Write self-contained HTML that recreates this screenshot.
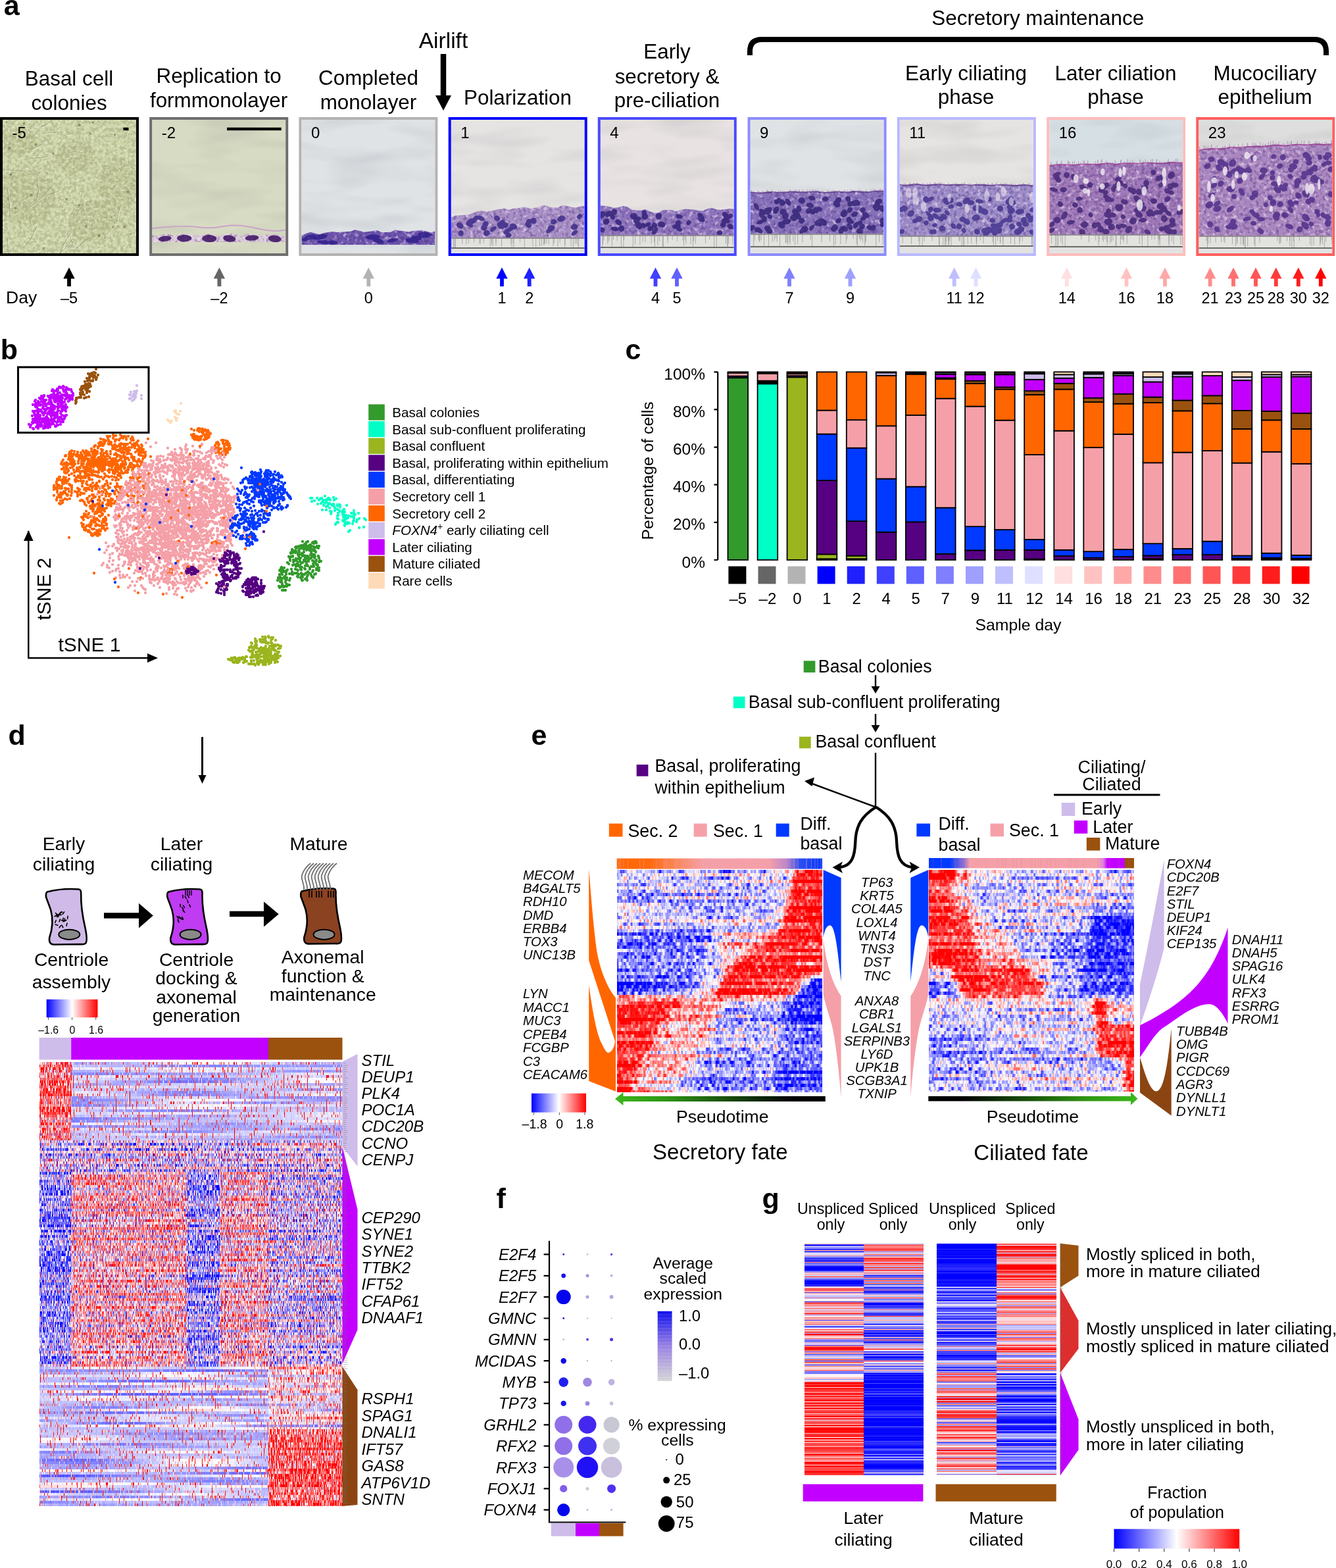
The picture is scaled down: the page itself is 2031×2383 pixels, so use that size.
<!DOCTYPE html>
<html><head><meta charset="utf-8"><title>Figure</title>
<style>
html,body{margin:0;padding:0;background:#fff;overflow:hidden}
svg{display:block}
text{font-family:"Liberation Sans",Arial,Helvetica,sans-serif;fill:#000}
</style></head><body>
<svg width="2031" height="2383" viewBox="0 0 2031 2383">
<text x="5.7" y="23.4" font-size="43" font-weight="bold">a</text>
<defs>
<filter id="phc" x="0" y="0" width="1" height="1" color-interpolation-filters="sRGB">
<feTurbulence type="fractalNoise" baseFrequency="0.18" numOctaves="3" seed="11"/>
<feColorMatrix values="0 0 0 0 0.3  0 0 0 0 0.3  0 0 0 0 0.18  -7 0 0 0 3.9"/>
</filter>
<filter id="phb" x="0" y="0" width="1" height="1" color-interpolation-filters="sRGB">
<feTurbulence type="fractalNoise" baseFrequency="0.25" numOctaves="2" seed="5"/>
<feColorMatrix values="0 0 0 0 1  0 0 0 0 1  0 0 0 0 0.95  7 0 0 0 -3.9"/>
</filter>
<filter id="phl" x="0" y="0" width="1" height="1" color-interpolation-filters="sRGB">
<feTurbulence type="fractalNoise" baseFrequency="0.025" numOctaves="2" seed="21"/>
<feColorMatrix values="0 0 0 0 0.45  0 0 0 0 0.42  0 0 0 0 0.3  -5 0 0 0 2.6"/>
</filter>
<filter id="bgn" x="0" y="0" width="1" height="1" color-interpolation-filters="sRGB">
<feTurbulence type="fractalNoise" baseFrequency="0.01 0.04" numOctaves="2" seed="4"/>
<feColorMatrix values="0 0 0 0 0.4  0 0 0 0 0.42  0 0 0 0 0.45  -2.2 0 0 0 1.25"/>
</filter>
<filter id="cel" x="0" y="0" width="1" height="1" color-interpolation-filters="sRGB">
<feTurbulence type="fractalNoise" baseFrequency="0.15" numOctaves="2" seed="8"/>
<feColorMatrix values="0 0 0 0 1  0 0 0 0 0.95  0 0 0 0 1  4 0 0 0 -2.1"/>
</filter>
<filter id="celd" x="0" y="0" width="1" height="1" color-interpolation-filters="sRGB">
<feTurbulence type="fractalNoise" baseFrequency="0.2" numOctaves="2" seed="18"/>
<feColorMatrix values="0 0 0 0 0.25  0 0 0 0 0.12  0 0 0 0 0.45  -4 0 0 0 2.1"/>
</filter>

<clipPath id="cp0"><rect x="4" y="182" width="203" height="203"/></clipPath>
<clipPath id="cp1"><rect x="231.2" y="182" width="203" height="203"/></clipPath>
<clipPath id="cp2"><rect x="458.4" y="182" width="203" height="203"/></clipPath>
<clipPath id="cp3"><rect x="685.7" y="182" width="203" height="203"/></clipPath>
<clipPath id="cp4"><rect x="912.8" y="182" width="203" height="203"/></clipPath>
<clipPath id="cp5"><rect x="1140.6" y="182" width="203" height="203"/></clipPath>
<clipPath id="cp6"><rect x="1367.8" y="182" width="203" height="203"/></clipPath>
<clipPath id="cp7"><rect x="1595.2" y="182" width="203" height="203"/></clipPath>
<clipPath id="cp8"><rect x="1822.3" y="182" width="203" height="203"/></clipPath>
</defs>
<g clip-path="url(#cp0)">
<rect x="4" y="182" width="203" height="203" fill="#cfd6aa"/>
<g fill="#b9bf8f" opacity="0.45"><ellipse cx="40" cy="300" rx="45" ry="42" transform="rotate(10 40 300)"/><ellipse cx="140" cy="335" rx="38" ry="30" transform="rotate(-20 140 335)"/><ellipse cx="115" cy="238" rx="30" ry="25" transform="rotate(0 115 238)"/><ellipse cx="180" cy="280" rx="30" ry="40" transform="rotate(0 180 280)"/><ellipse cx="30" cy="215" rx="25" ry="20" transform="rotate(0 30 215)"/></g>
<rect x="4" y="182" width="203" height="203" fill="#000" filter="url(#phc)" opacity="0.16"/>
<rect x="4" y="182" width="203" height="203" fill="#000" filter="url(#phb)" opacity="0.35"/>
<path d="M130.9 364.1Q120.2 375.7 114.3 378.2M5.1 348.7Q-9 354.7 -18.3 366M55.7 272.4Q61.5 291.7 55.3 304M130.3 382.8Q139.4 383.5 145.7 395.2M11.2 286.5Q15 307.8 15.7 328.8M104.9 232.2Q117.5 229 125.6 233M79 182.8Q67.8 192.3 62.1 192.7M107.5 354Q94.7 371.3 91.7 387.7M107.1 358.9Q108.7 372.5 121 388.7M69.6 212.5Q64.3 220.8 47.5 226.9M126.8 311.5Q121 316.7 116.5 328.1M85.7 201.6Q77.1 200.3 64.4 203.8M181.4 316.4Q205.3 329.4 218.4 332.6M119.7 211.5Q137.9 219.9 154.9 235.9M183.5 312.2Q179.5 321.9 177.8 337.9M11.7 359.9Q11.2 378.5 14.9 391.1M9.1 257.6Q24 260.3 27.7 259.3M90.9 288.3Q80.3 295.4 67.6 298.2M76.1 287.4Q56.3 306.8 44.9 315.8M5.1 334.9Q-3.8 344 -10.8 345.6M6.9 309.6Q-2.5 315.5 -17.3 328M44.3 255.7Q60.4 263.4 65.8 269.3M73 237.1Q64.8 239.4 45 241.4M109.8 364Q97.7 380.3 87.4 387.4M87.6 369.3Q101.4 377.7 114.8 375.3M55 345.6Q46.9 366.8 35.7 376.7" fill="none" stroke="#7d8060" stroke-width="1" opacity="0.55"/>
<path d="M130.9 364.1Q120.2 375.7 114.3 378.2M5.1 348.7Q-9 354.7 -18.3 366M55.7 272.4Q61.5 291.7 55.3 304M130.3 382.8Q139.4 383.5 145.7 395.2M11.2 286.5Q15 307.8 15.7 328.8M104.9 232.2Q117.5 229 125.6 233M79 182.8Q67.8 192.3 62.1 192.7M107.5 354Q94.7 371.3 91.7 387.7M107.1 358.9Q108.7 372.5 121 388.7M69.6 212.5Q64.3 220.8 47.5 226.9M126.8 311.5Q121 316.7 116.5 328.1M85.7 201.6Q77.1 200.3 64.4 203.8M181.4 316.4Q205.3 329.4 218.4 332.6M119.7 211.5Q137.9 219.9 154.9 235.9M183.5 312.2Q179.5 321.9 177.8 337.9M11.7 359.9Q11.2 378.5 14.9 391.1M9.1 257.6Q24 260.3 27.7 259.3M90.9 288.3Q80.3 295.4 67.6 298.2M76.1 287.4Q56.3 306.8 44.9 315.8M5.1 334.9Q-3.8 344 -10.8 345.6M6.9 309.6Q-2.5 315.5 -17.3 328M44.3 255.7Q60.4 263.4 65.8 269.3M73 237.1Q64.8 239.4 45 241.4M109.8 364Q97.7 380.3 87.4 387.4M87.6 369.3Q101.4 377.7 114.8 375.3M55 345.6Q46.9 366.8 35.7 376.7" fill="none" stroke="#f4f6e4" stroke-width="1" opacity="0.5" transform="translate(1 1)"/>
<g fill="#6e6444" opacity="0.55"><circle cx="71.5" cy="262.8" r="1.3"/><circle cx="14.3" cy="225.2" r="2.4"/><circle cx="174.6" cy="204.8" r="1.9"/><circle cx="101.3" cy="302.7" r="2"/><circle cx="66.3" cy="377.2" r="1.7"/><circle cx="131.5" cy="311" r="1.3"/><circle cx="16.6" cy="265.5" r="2.1"/><circle cx="169.5" cy="330.2" r="1.2"/><circle cx="189.4" cy="344.8" r="2.3"/><circle cx="110.2" cy="367.9" r="1.1"/><circle cx="10.1" cy="186.1" r="1.4"/><circle cx="54.5" cy="220.1" r="1.9"/><circle cx="11.9" cy="301.8" r="1.2"/><circle cx="141.6" cy="186.3" r="1.5"/><circle cx="194.5" cy="291.3" r="2.2"/><circle cx="137.6" cy="306" r="1.3"/><circle cx="120.6" cy="190.1" r="2.2"/><circle cx="198.9" cy="355.4" r="1.1"/><circle cx="72.7" cy="246.6" r="1.2"/><circle cx="131.2" cy="343.9" r="1.5"/><circle cx="179.2" cy="343.8" r="1.2"/><circle cx="159.7" cy="361.2" r="1.3"/><circle cx="120.4" cy="311.7" r="1.9"/><circle cx="23.5" cy="316.2" r="1.9"/><circle cx="171.2" cy="345.1" r="1.5"/><circle cx="150.6" cy="358.1" r="2.3"/><circle cx="36.8" cy="187.4" r="2"/><circle cx="47.6" cy="296.4" r="2.4"/><circle cx="81" cy="233.3" r="1.7"/><circle cx="137.4" cy="202.5" r="1.6"/></g>
</g>
<rect x="2" y="180" width="207" height="207" fill="none" stroke="#000000" stroke-width="4"/>
<text x="18.5" y="210.1" font-size="24">-5</text>
<g clip-path="url(#cp1)">
<rect x="231.2" y="182" width="203" height="203" fill="#d8dbc3"/>
<rect x="231.2" y="182" width="203" height="203" fill="#000" filter="url(#bgn)" opacity="0.13"/>
<path d="M231.2 368L231.2 357.5L238 358.4L244.7 357L251.5 355.3L258.3 356.6L265 358.5L271.8 357.3L278.6 355.6L285.3 355.3L292.1 357.1L298.9 357.6L305.6 358.1L312.4 356L319.2 355.4L325.9 356.7L332.7 359L339.5 356.5L346.2 354.9L353 355.3L359.8 357L366.5 359.2L373.3 356.5L380.1 355.2L386.8 356.9L393.6 358.3L400.4 357.7L407.1 356.5L413.9 356.3L420.7 356.3L427.4 358.7L434.2 357.3L434.2 368Z" fill="#dccbd9"/>
<clipPath id="cl1"><path d="M231.2 368L231.2 357.5L238 358.4L244.7 357L251.5 355.3L258.3 356.6L265 358.5L271.8 357.3L278.6 355.6L285.3 355.3L292.1 357.1L298.9 357.6L305.6 358.1L312.4 356L319.2 355.4L325.9 356.7L332.7 359L339.5 356.5L346.2 354.9L353 355.3L359.8 357L366.5 359.2L373.3 356.5L380.1 355.2L386.8 356.9L393.6 358.3L400.4 357.7L407.1 356.5L413.9 356.3L420.7 356.3L427.4 358.7L434.2 357.3L434.2 368Z"/></clipPath>
<g clip-path="url(#cl1)">
<rect x="231.2" y="200" width="203" height="168" fill="#000" filter="url(#cel)" opacity="0.5"/>
<rect x="231.2" y="200" width="203" height="168" fill="#000" filter="url(#celd)" opacity="0.35"/>
<g fill="#3a1060" opacity="0.85"><ellipse cx="250.7" cy="362.7" rx="10.1" ry="4.1" transform="rotate(-6 250.7 362.7)"/><ellipse cx="280.1" cy="362.1" rx="11.2" ry="5.3" transform="rotate(0 280.1 362.1)"/><ellipse cx="318.2" cy="362.6" rx="11.2" ry="5.5" transform="rotate(2 318.2 362.6)"/><ellipse cx="348.8" cy="362.6" rx="9.6" ry="5.1" transform="rotate(8 348.8 362.6)"/><ellipse cx="383" cy="361.5" rx="10.3" ry="4.1" transform="rotate(-4 383 361.5)"/><ellipse cx="417.7" cy="362.9" rx="10.1" ry="5.2" transform="rotate(6 417.7 362.9)"/></g>
</g>
<path d="M231.2 347 Q 280 342 300 345 T 340 344 T 390 347 T 436 349" fill="none" stroke="#c8a4c8" stroke-width="2"/>
</g>
<rect x="229.2" y="180" width="207" height="207" fill="none" stroke="#6e6e6e" stroke-width="4"/>
<text x="245.7" y="210.1" font-size="24">-2</text>
<g clip-path="url(#cp2)">
<rect x="458.4" y="182" width="203" height="203" fill="#dfe3e6"/>
<rect x="458.4" y="182" width="203" height="203" fill="#000" filter="url(#bgn)" opacity="0.13"/>
<path d="M458.4 372L458.4 358.2L465.2 355L471.9 352.8L478.7 354.5L485.5 356.2L492.2 354L499 352.9L505.8 351.9L512.5 353.1L519.3 352.8L526.1 352.1L532.8 351.8L539.6 349.2L546.4 350.6L553.1 352.7L559.9 351.9L566.7 351L573.4 349.9L580.2 353.2L587 352.9L593.7 352.8L600.5 349.6L607.3 350.5L614 351.3L620.8 352.6L627.6 351.1L634.3 350.4L641.1 350.3L647.9 351.2L654.6 353.4L661.4 351.5L661.4 372Z" fill="#6d55ad"/>
<clipPath id="cl2"><path d="M458.4 372L458.4 358.2L465.2 355L471.9 352.8L478.7 354.5L485.5 356.2L492.2 354L499 352.9L505.8 351.9L512.5 353.1L519.3 352.8L526.1 352.1L532.8 351.8L539.6 349.2L546.4 350.6L553.1 352.7L559.9 351.9L566.7 351L573.4 349.9L580.2 353.2L587 352.9L593.7 352.8L600.5 349.6L607.3 350.5L614 351.3L620.8 352.6L627.6 351.1L634.3 350.4L641.1 350.3L647.9 351.2L654.6 353.4L661.4 351.5L661.4 372Z"/></clipPath>
<g clip-path="url(#cl2)">
<rect x="458.4" y="200" width="203" height="172" fill="#000" filter="url(#cel)" opacity="0.5"/>
<rect x="458.4" y="200" width="203" height="172" fill="#000" filter="url(#celd)" opacity="0.35"/>
<g fill="#30208a" opacity="0.85"><ellipse cx="644.4" cy="358.7" rx="9" ry="2.8" transform="rotate(0 644.4 358.7)"/><ellipse cx="465.1" cy="363.4" rx="7.6" ry="2.8" transform="rotate(-10 465.1 363.4)"/><ellipse cx="633.1" cy="362" rx="7.9" ry="3.5" transform="rotate(8 633.1 362)"/><ellipse cx="565.4" cy="359.7" rx="9.6" ry="3.4" transform="rotate(-6 565.4 359.7)"/><ellipse cx="567.3" cy="360.5" rx="11" ry="3.8" transform="rotate(-3 567.3 360.5)"/><ellipse cx="486.1" cy="360.1" rx="11.9" ry="3.9" transform="rotate(-8 486.1 360.1)"/><ellipse cx="505.2" cy="368.6" rx="8" ry="3.3" transform="rotate(-2 505.2 368.6)"/><ellipse cx="644.1" cy="355.9" rx="8.6" ry="3.4" transform="rotate(-1 644.1 355.9)"/><ellipse cx="471.9" cy="360.4" rx="9.3" ry="3.8" transform="rotate(-10 471.9 360.4)"/><ellipse cx="626.7" cy="365.7" rx="10.5" ry="3.8" transform="rotate(6 626.7 365.7)"/><ellipse cx="596.7" cy="365.2" rx="8.5" ry="2.8" transform="rotate(-11 596.7 365.2)"/><ellipse cx="492.1" cy="368.1" rx="10" ry="3" transform="rotate(6 492.1 368.1)"/><ellipse cx="648.5" cy="357.4" rx="9.6" ry="2.6" transform="rotate(-8 648.5 357.4)"/><ellipse cx="575.2" cy="366.2" rx="8.4" ry="3.7" transform="rotate(11 575.2 366.2)"/></g>
</g>
</g>
<rect x="456.4" y="180" width="207" height="207" fill="none" stroke="#b3b3b3" stroke-width="4"/>
<text x="472.9" y="210.1" font-size="24">0</text>
<g clip-path="url(#cp3)">
<rect x="685.7" y="182" width="203" height="203" fill="#e6e4e3"/>
<rect x="685.7" y="182" width="203" height="203" fill="#000" filter="url(#bgn)" opacity="0.13"/>
<path d="M685.7 361L685.7 330.6L692.5 327.6L699.2 327.3L706 326.7L712.8 325.9L719.5 323.6L726.3 321.2L733.1 320.3L739.8 322.1L746.6 320.7L753.4 319L760.1 317.7L766.9 316.8L773.7 319.1L780.4 316.9L787.2 316.6L794 314.5L800.7 315.4L807.5 317.1L814.3 315.7L821 313.9L827.8 311.8L834.6 314.4L841.3 315.6L848.1 315.4L854.9 311.9L861.6 312.7L868.4 314.8L875.2 315.6L881.9 313.4L888.7 312.8L888.7 361Z" fill="#a890c6"/>
<clipPath id="cl3"><path d="M685.7 361L685.7 330.6L692.5 327.6L699.2 327.3L706 326.7L712.8 325.9L719.5 323.6L726.3 321.2L733.1 320.3L739.8 322.1L746.6 320.7L753.4 319L760.1 317.7L766.9 316.8L773.7 319.1L780.4 316.9L787.2 316.6L794 314.5L800.7 315.4L807.5 317.1L814.3 315.7L821 313.9L827.8 311.8L834.6 314.4L841.3 315.6L848.1 315.4L854.9 311.9L861.6 312.7L868.4 314.8L875.2 315.6L881.9 313.4L888.7 312.8L888.7 361Z"/></clipPath>
<g clip-path="url(#cl3)">
<rect x="685.7" y="200" width="203" height="161" fill="#000" filter="url(#cel)" opacity="0.5"/>
<rect x="685.7" y="200" width="203" height="161" fill="#000" filter="url(#celd)" opacity="0.35"/>
<g fill="#3e2c88" opacity="0.85"><ellipse cx="730.8" cy="331.7" rx="6.1" ry="3.4" transform="rotate(29 730.8 331.7)"/><ellipse cx="838" cy="346.7" rx="5.2" ry="4.6" transform="rotate(-6 838 346.7)"/><ellipse cx="780.3" cy="344.2" rx="6" ry="4.4" transform="rotate(18 780.3 344.2)"/><ellipse cx="768.1" cy="342" rx="4.7" ry="4.5" transform="rotate(17 768.1 342)"/><ellipse cx="762.9" cy="338.7" rx="5.8" ry="4" transform="rotate(-53 762.9 338.7)"/><ellipse cx="853.5" cy="332.5" rx="6" ry="4.6" transform="rotate(-20 853.5 332.5)"/><ellipse cx="776.5" cy="347.6" rx="3.6" ry="3.8" transform="rotate(43 776.5 347.6)"/><ellipse cx="803.3" cy="341.4" rx="5.5" ry="4.4" transform="rotate(43 803.3 341.4)"/><ellipse cx="804.2" cy="336.2" rx="4.1" ry="3.6" transform="rotate(16 804.2 336.2)"/><ellipse cx="773.1" cy="358" rx="4.6" ry="3.9" transform="rotate(-25 773.1 358)"/><ellipse cx="761.1" cy="342.8" rx="6.3" ry="4.8" transform="rotate(42 761.1 342.8)"/><ellipse cx="739.9" cy="354.2" rx="5" ry="4.4" transform="rotate(-15 739.9 354.2)"/><ellipse cx="700.6" cy="354.5" rx="4.4" ry="4" transform="rotate(-51 700.6 354.5)"/><ellipse cx="771" cy="351.8" rx="6" ry="3.9" transform="rotate(-37 771 351.8)"/><ellipse cx="841.6" cy="337.1" rx="4.6" ry="4.1" transform="rotate(-24 841.6 337.1)"/><ellipse cx="750" cy="348" rx="5.8" ry="3.1" transform="rotate(-36 750 348)"/><ellipse cx="834.5" cy="350.5" rx="4.8" ry="3.1" transform="rotate(-43 834.5 350.5)"/><ellipse cx="735.7" cy="346.3" rx="4.6" ry="4.3" transform="rotate(21 735.7 346.3)"/><ellipse cx="738.1" cy="340.9" rx="5.1" ry="4.3" transform="rotate(-41 738.1 340.9)"/><ellipse cx="881" cy="329.4" rx="4.4" ry="3.5" transform="rotate(-36 881 329.4)"/><ellipse cx="699.4" cy="342.8" rx="5.8" ry="4.4" transform="rotate(36 699.4 342.8)"/><ellipse cx="713.5" cy="338.1" rx="5.8" ry="4" transform="rotate(-37 713.5 338.1)"/><ellipse cx="873.1" cy="344.9" rx="5.4" ry="4.5" transform="rotate(-13 873.1 344.9)"/><ellipse cx="755.5" cy="331.8" rx="4.8" ry="4" transform="rotate(30 755.5 331.8)"/><ellipse cx="714.5" cy="341.6" rx="5.4" ry="3.3" transform="rotate(38 714.5 341.6)"/><ellipse cx="721" cy="335.2" rx="6.4" ry="3.1" transform="rotate(-44 721 335.2)"/><ellipse cx="723" cy="331.4" rx="4.9" ry="3" transform="rotate(-45 723 331.4)"/><ellipse cx="718.8" cy="334.8" rx="5.9" ry="3.4" transform="rotate(-6 718.8 334.8)"/><ellipse cx="811" cy="335.8" rx="4.8" ry="4.6" transform="rotate(20 811 335.8)"/><ellipse cx="873.2" cy="353.9" rx="5.5" ry="3.1" transform="rotate(-41 873.2 353.9)"/></g>
</g>
<rect x="685.7" y="361" width="203" height="19" fill="#e2e2de"/>
<path d="M820.4 362v12M842.5 362v8.1M879.2 362v14.9M708.9 362v9.2M692.3 362v14.3M871.5 362v15.9M809.9 362v12.7M823.4 362v11.7M879 362v12.1M753.9 362v11.1M689.5 362v13.2M826.6 362v10.2M858.6 362v13.6M754 362v6.8M712.5 362v7.8M747.4 362v10.5M874.1 362v8.8M868.1 362v12.8M859 362v10M686.4 362v13.9M735.5 362v7.4M848 362v12.9M728.8 362v8.7M876.4 362v8.7M828.3 362v7.3M851.2 362v7.2M790.5 362v6.4M797.4 362v14.5M702.8 362v8.7M840.9 362v12.1M749.2 362v12.3M778 362v14.6M745.2 362v13.6M814.7 362v13.4M762.5 362v13.2M827.5 362v9.9M691.1 362v15.6M830.6 362v8M834.1 362v8.8M781 362v14.6M776.7 362v8.9M747.7 362v6.8M730.3 362v8.7M720.8 362v6.6M780.3 362v8.1" stroke="#555" stroke-width="0.7" opacity="0.55"/>
<path d="M685.7 377h203" stroke="#6a6a66" stroke-width="1.8"/>
<path d="M685.7 362h203" stroke="#77707a" stroke-width="1.6"/>
<rect x="685.7" y="378" width="203" height="10" fill="#e2e2e2"/>
</g>
<rect x="683.7" y="180" width="207" height="207" fill="none" stroke="#0000ff" stroke-width="4"/>
<text x="700.2" y="210.1" font-size="24">1</text>
<g clip-path="url(#cp4)">
<rect x="912.8" y="182" width="203" height="203" fill="#e8e3e2"/>
<rect x="912.8" y="182" width="203" height="203" fill="#000" filter="url(#bgn)" opacity="0.13"/>
<path d="M912.8 357L912.8 312.3L919.6 313.1L926.3 314L933.1 316.1L939.9 315.3L946.6 313.3L953.4 314.2L960.2 318.6L966.9 319.6L973.7 320L980.5 318.1L987.2 321L994 323.5L1000.8 323.3L1007.5 319.5L1014.3 318.9L1021.1 319.2L1027.8 321.2L1034.6 319.3L1041.4 317.8L1048.1 318L1054.9 318.5L1061.7 320L1068.4 320.4L1075.2 317.2L1082 316.1L1088.7 318.3L1095.5 319L1102.3 318L1109 317.1L1115.8 317.7L1115.8 357Z" fill="#8f76bd"/>
<clipPath id="cl4"><path d="M912.8 357L912.8 312.3L919.6 313.1L926.3 314L933.1 316.1L939.9 315.3L946.6 313.3L953.4 314.2L960.2 318.6L966.9 319.6L973.7 320L980.5 318.1L987.2 321L994 323.5L1000.8 323.3L1007.5 319.5L1014.3 318.9L1021.1 319.2L1027.8 321.2L1034.6 319.3L1041.4 317.8L1048.1 318L1054.9 318.5L1061.7 320L1068.4 320.4L1075.2 317.2L1082 316.1L1088.7 318.3L1095.5 319L1102.3 318L1109 317.1L1115.8 317.7L1115.8 357Z"/></clipPath>
<g clip-path="url(#cl4)">
<rect x="912.8" y="200" width="203" height="157" fill="#000" filter="url(#cel)" opacity="0.5"/>
<rect x="912.8" y="200" width="203" height="157" fill="#000" filter="url(#celd)" opacity="0.35"/>
<g fill="#34237a" opacity="0.85"><ellipse cx="1030.4" cy="343.5" rx="4.5" ry="4.1" transform="rotate(22 1030.4 343.5)"/><ellipse cx="1032.4" cy="348.1" rx="5.2" ry="3.4" transform="rotate(30 1032.4 348.1)"/><ellipse cx="1031.1" cy="338.9" rx="4" ry="4.2" transform="rotate(45 1031.1 338.9)"/><ellipse cx="940.2" cy="337.8" rx="5.7" ry="3.8" transform="rotate(38 940.2 337.8)"/><ellipse cx="967.6" cy="334.9" rx="5.1" ry="4.4" transform="rotate(-40 967.6 334.9)"/><ellipse cx="934.5" cy="347.9" rx="6.3" ry="3.2" transform="rotate(7 934.5 347.9)"/><ellipse cx="963.5" cy="328.9" rx="6" ry="4.8" transform="rotate(24 963.5 328.9)"/><ellipse cx="980.3" cy="329.1" rx="4.9" ry="4.8" transform="rotate(-55 980.3 329.1)"/><ellipse cx="927" cy="324.2" rx="5" ry="4" transform="rotate(10 927 324.2)"/><ellipse cx="1001.7" cy="328.7" rx="4.6" ry="5" transform="rotate(29 1001.7 328.7)"/><ellipse cx="1065.2" cy="328.3" rx="5.9" ry="3.6" transform="rotate(45 1065.2 328.3)"/><ellipse cx="915.4" cy="349.3" rx="4" ry="3.9" transform="rotate(33 915.4 349.3)"/><ellipse cx="1047.1" cy="338.7" rx="4" ry="3.3" transform="rotate(-37 1047.1 338.7)"/><ellipse cx="923.4" cy="325.9" rx="3.9" ry="3.9" transform="rotate(-26 923.4 325.9)"/><ellipse cx="985.2" cy="341.2" rx="4.3" ry="3.1" transform="rotate(-29 985.2 341.2)"/><ellipse cx="1066.1" cy="332.4" rx="4.7" ry="4.5" transform="rotate(-21 1066.1 332.4)"/><ellipse cx="995.4" cy="351.1" rx="6.3" ry="3.6" transform="rotate(-53 995.4 351.1)"/><ellipse cx="964.2" cy="327.9" rx="4.8" ry="4.2" transform="rotate(28 964.2 327.9)"/><ellipse cx="1102.7" cy="326.7" rx="5.6" ry="4" transform="rotate(42 1102.7 326.7)"/><ellipse cx="1110.2" cy="344.3" rx="3.9" ry="4.8" transform="rotate(-45 1110.2 344.3)"/><ellipse cx="933.7" cy="322.3" rx="4.5" ry="4.9" transform="rotate(50 933.7 322.3)"/><ellipse cx="1099.2" cy="341.9" rx="3.7" ry="4.1" transform="rotate(-57 1099.2 341.9)"/><ellipse cx="1005.9" cy="341.1" rx="5.7" ry="4.4" transform="rotate(14 1005.9 341.1)"/><ellipse cx="944.6" cy="347.3" rx="4.7" ry="4.6" transform="rotate(59 944.6 347.3)"/><ellipse cx="1093.8" cy="353.8" rx="4.3" ry="3.9" transform="rotate(-24 1093.8 353.8)"/><ellipse cx="1104.8" cy="334" rx="6.3" ry="3.8" transform="rotate(53 1104.8 334)"/><ellipse cx="988.9" cy="347.2" rx="4.9" ry="3.9" transform="rotate(-35 988.9 347.2)"/><ellipse cx="1000.7" cy="328.6" rx="3.7" ry="4.5" transform="rotate(-14 1000.7 328.6)"/><ellipse cx="1027.4" cy="344.2" rx="5.9" ry="3.5" transform="rotate(0 1027.4 344.2)"/><ellipse cx="969.2" cy="333.5" rx="5.8" ry="3.7" transform="rotate(-32 969.2 333.5)"/><ellipse cx="978.4" cy="342.8" rx="4.1" ry="3.2" transform="rotate(59 978.4 342.8)"/><ellipse cx="1066.4" cy="333.6" rx="5.4" ry="3.1" transform="rotate(23 1066.4 333.6)"/><ellipse cx="994.9" cy="342.2" rx="4.3" ry="3.7" transform="rotate(43 994.9 342.2)"/><ellipse cx="1032.5" cy="328.9" rx="5.6" ry="3.2" transform="rotate(13 1032.5 328.9)"/><ellipse cx="1109.7" cy="328.5" rx="4.3" ry="3.4" transform="rotate(-38 1109.7 328.5)"/><ellipse cx="971" cy="342.4" rx="6.5" ry="4.9" transform="rotate(58 971 342.4)"/><ellipse cx="921.4" cy="336.8" rx="5.3" ry="4.4" transform="rotate(-26 921.4 336.8)"/><ellipse cx="979.4" cy="323.3" rx="3.6" ry="4.1" transform="rotate(-20 979.4 323.3)"/><ellipse cx="928.2" cy="326.1" rx="4.5" ry="3.1" transform="rotate(0 928.2 326.1)"/><ellipse cx="1101" cy="336.5" rx="4.1" ry="4.4" transform="rotate(-57 1101 336.5)"/><ellipse cx="914.7" cy="326.3" rx="6.4" ry="4.8" transform="rotate(-38 914.7 326.3)"/><ellipse cx="931.7" cy="330.1" rx="3.6" ry="3.4" transform="rotate(16 931.7 330.1)"/></g>
</g>
<rect x="912.8" y="357" width="203" height="22" fill="#e2e2de"/>
<path d="M918 358v7.6M1041.3 358v7.3M944.4 358v17.7M980.9 358v10.3M930.4 358v16.3M1050.1 358v13.1M1038.2 358v7.3M965.6 358v13.6M1106.1 358v16.6M1042.9 358v12.7M915.9 358v17.6M926.4 358v7.7M1053.5 358v16.6M1072.5 358v11.9M948.7 358v6.5M1085.6 358v18.7M962.4 358v17.3M994.5 358v10M1015.3 358v6.1M1002.7 358v8.6M1057.4 358v12.5M1089.2 358v17.7M977.1 358v9.6M1103.4 358v12.6M932.4 358v6.6M1113.9 358v13.5M923.9 358v12.6M1015.1 358v11.7M1105.9 358v18.3M938.2 358v8M995.5 358v16.8M1039.4 358v15.5M1029.7 358v8.7M1078.8 358v6.2M1054.6 358v8.5M1008.4 358v18.7M1022.2 358v6.7M999.8 358v14.6M924.3 358v9.3M916.5 358v13M990.2 358v12.5M972.9 358v14.5M947.9 358v17.8M1107.7 358v12.4M1007.3 358v17.2" stroke="#555" stroke-width="0.7" opacity="0.55"/>
<path d="M912.8 376h203" stroke="#6a6a66" stroke-width="1.8"/>
<path d="M912.8 358h203" stroke="#77707a" stroke-width="1.6"/>
<rect x="912.8" y="377" width="203" height="11" fill="#e2e2e2"/>
</g>
<rect x="910.8" y="180" width="207" height="207" fill="none" stroke="#4a4aff" stroke-width="4"/>
<text x="927.3" y="210.1" font-size="24">4</text>
<g clip-path="url(#cp5)">
<rect x="1140.6" y="182" width="203" height="203" fill="#e0e3e5"/>
<rect x="1140.6" y="182" width="203" height="203" fill="#000" filter="url(#bgn)" opacity="0.13"/>
<path d="M1140.6 355L1140.6 292.3L1147.4 293.1L1154.1 293.2L1160.9 293.1L1167.7 292L1174.4 292L1181.2 292.8L1188 292.5L1194.7 292.5L1201.5 291.5L1208.3 291.5L1215 292.1L1221.8 292.2L1228.6 291.9L1235.3 291.5L1242.1 291.3L1248.9 292.5L1255.6 292.9L1262.4 292.3L1269.2 291.6L1275.9 291.8L1282.7 292L1289.5 292.5L1296.2 291.1L1303 291.2L1309.8 291.6L1316.5 292L1323.3 291.7L1330.1 290.6L1336.8 290.5L1343.6 290.8L1343.6 355Z" fill="#8873bb"/>
<path d="M1140.6 292.3L1147.4 293.1L1154.1 293.2L1160.9 293.1L1167.7 292L1174.4 292L1181.2 292.8L1188 292.5L1194.7 292.5L1201.5 291.5L1208.3 291.5L1215 292.1L1221.8 292.2L1228.6 291.9L1235.3 291.5L1242.1 291.3L1248.9 292.5L1255.6 292.9L1262.4 292.3L1269.2 291.6L1275.9 291.8L1282.7 292L1289.5 292.5L1296.2 291.1L1303 291.2L1309.8 291.6L1316.5 292L1323.3 291.7L1330.1 290.6L1336.8 290.5L1343.6 290.8" fill="none" stroke="#6a4a96" stroke-width="2"/>
<path d="M1138.4 292.3v-2.3M1142.4 292.3v-3.8M1145.2 293.1v-2M1145.9 293.1v-2.3M1152.3 293.2v-3.2M1153.7 293.2v-2.9M1159.1 293.1v-3.3M1159.6 293.1v-2.8M1167.4 292v-3.8M1166.1 292v-3.4M1173.3 292v-3.8M1173.8 292v-3M1183.5 292.8v-3.3M1178.8 292.8v-2.3M1190.9 292.5v-2.1M1186.8 292.5v-3.9M1191.8 292.5v-2.3M1193 292.5v-2.2M1201.3 291.5v-3.2M1200.4 291.5v-2.2M1210.1 291.5v-3.6M1208.6 291.5v-2.3M1215.3 292.1v-3.3M1214.6 292.1v-3.7M1221.1 292.2v-3M1219.5 292.2v-3.1M1230.2 291.9v-3.5M1227.1 291.9v-4M1236.7 291.5v-2.8M1234.8 291.5v-3.6M1240.2 291.3v-3.3M1243.4 291.3v-3M1251.1 292.5v-2.9M1248.7 292.5v-2.6M1258.1 292.9v-2.6M1256.8 292.9v-2.8M1265 292.3v-3.9M1259.6 292.3v-4M1269.8 291.6v-2.1M1269.1 291.6v-2.1M1276.2 291.8v-2.4M1275.1 291.8v-2.6M1283.3 292v-3.6M1285.3 292v-2.7M1289.9 292.5v-2M1288.7 292.5v-3.9M1293.9 291.1v-3.7M1297.1 291.1v-2.6M1304.7 291.2v-2.6M1305.4 291.2v-2.2M1307.5 291.6v-3.5M1309.5 291.6v-2.3M1316.6 292v-2.6M1316.8 292v-3.5M1325.4 291.7v-2.1M1323.9 291.7v-4M1329.8 290.6v-3.5M1327.7 290.6v-3.7M1337.3 290.5v-3.8M1338.6 290.5v-3.7M1340.9 290.8v-3.4M1341.8 290.8v-2.5" stroke="#9a6aa8" stroke-width="0.8" opacity="0.7"/>
<clipPath id="cl5"><path d="M1140.6 355L1140.6 292.3L1147.4 293.1L1154.1 293.2L1160.9 293.1L1167.7 292L1174.4 292L1181.2 292.8L1188 292.5L1194.7 292.5L1201.5 291.5L1208.3 291.5L1215 292.1L1221.8 292.2L1228.6 291.9L1235.3 291.5L1242.1 291.3L1248.9 292.5L1255.6 292.9L1262.4 292.3L1269.2 291.6L1275.9 291.8L1282.7 292L1289.5 292.5L1296.2 291.1L1303 291.2L1309.8 291.6L1316.5 292L1323.3 291.7L1330.1 290.6L1336.8 290.5L1343.6 290.8L1343.6 355Z"/></clipPath>
<g clip-path="url(#cl5)">
<rect x="1140.6" y="200" width="203" height="155" fill="#000" filter="url(#cel)" opacity="0.5"/>
<rect x="1140.6" y="200" width="203" height="155" fill="#000" filter="url(#celd)" opacity="0.35"/>
<g fill="#352578" opacity="0.85"><ellipse cx="1206.5" cy="330.9" rx="5.4" ry="4.9" transform="rotate(49 1206.5 330.9)"/><ellipse cx="1179.9" cy="319.5" rx="6" ry="4.1" transform="rotate(-59 1179.9 319.5)"/><ellipse cx="1244.5" cy="339.6" rx="5.5" ry="3.6" transform="rotate(28 1244.5 339.6)"/><ellipse cx="1234.4" cy="345.8" rx="5.3" ry="3.1" transform="rotate(-50 1234.4 345.8)"/><ellipse cx="1229.9" cy="320.3" rx="5.2" ry="4.2" transform="rotate(-48 1229.9 320.3)"/><ellipse cx="1209.2" cy="321.5" rx="5.3" ry="4.8" transform="rotate(54 1209.2 321.5)"/><ellipse cx="1283.9" cy="325" rx="5.9" ry="4" transform="rotate(-57 1283.9 325)"/><ellipse cx="1197.9" cy="307.1" rx="6" ry="3.6" transform="rotate(55 1197.9 307.1)"/><ellipse cx="1312.6" cy="331.9" rx="5" ry="3.2" transform="rotate(-26 1312.6 331.9)"/><ellipse cx="1154" cy="350.3" rx="6.1" ry="3.6" transform="rotate(34 1154 350.3)"/><ellipse cx="1166.6" cy="346.2" rx="4.9" ry="3.2" transform="rotate(-2 1166.6 346.2)"/><ellipse cx="1190.7" cy="322.1" rx="5.4" ry="4.8" transform="rotate(-1 1190.7 322.1)"/><ellipse cx="1303.2" cy="308.5" rx="4.9" ry="4" transform="rotate(35 1303.2 308.5)"/><ellipse cx="1158.2" cy="327.6" rx="6.2" ry="3.8" transform="rotate(58 1158.2 327.6)"/><ellipse cx="1193.7" cy="329.1" rx="4.5" ry="4.9" transform="rotate(-60 1193.7 329.1)"/><ellipse cx="1182.6" cy="305.7" rx="5.6" ry="3.6" transform="rotate(-50 1182.6 305.7)"/><ellipse cx="1323.3" cy="346.4" rx="6.3" ry="3.5" transform="rotate(19 1323.3 346.4)"/><ellipse cx="1219.3" cy="350.1" rx="5.8" ry="3.1" transform="rotate(-60 1219.3 350.1)"/><ellipse cx="1283.2" cy="347.8" rx="6.4" ry="4.4" transform="rotate(14 1283.2 347.8)"/><ellipse cx="1311.5" cy="319" rx="3.8" ry="4.5" transform="rotate(43 1311.5 319)"/><ellipse cx="1168.4" cy="320.6" rx="6.5" ry="4.1" transform="rotate(-57 1168.4 320.6)"/><ellipse cx="1333" cy="314.4" rx="6.5" ry="4.8" transform="rotate(2 1333 314.4)"/><ellipse cx="1214.5" cy="317.3" rx="3.9" ry="4.8" transform="rotate(-24 1214.5 317.3)"/><ellipse cx="1142.4" cy="346.4" rx="5.3" ry="4.3" transform="rotate(-38 1142.4 346.4)"/><ellipse cx="1289.4" cy="302.4" rx="3.8" ry="4" transform="rotate(-15 1289.4 302.4)"/><ellipse cx="1243" cy="338.4" rx="5.5" ry="4.2" transform="rotate(-54 1243 338.4)"/><ellipse cx="1150" cy="313.9" rx="6.2" ry="3.2" transform="rotate(58 1150 313.9)"/><ellipse cx="1150.8" cy="349" rx="4" ry="3.8" transform="rotate(3 1150.8 349)"/><ellipse cx="1251.6" cy="337.8" rx="6.3" ry="4.5" transform="rotate(44 1251.6 337.8)"/><ellipse cx="1155.9" cy="337.4" rx="6.4" ry="3" transform="rotate(-19 1155.9 337.4)"/><ellipse cx="1297.9" cy="309.3" rx="4.9" ry="4" transform="rotate(13 1297.9 309.3)"/><ellipse cx="1341.5" cy="335.6" rx="4.7" ry="4.4" transform="rotate(13 1341.5 335.6)"/><ellipse cx="1235.3" cy="321.7" rx="4.6" ry="4" transform="rotate(48 1235.3 321.7)"/><ellipse cx="1189.7" cy="309" rx="4.8" ry="3.6" transform="rotate(-27 1189.7 309)"/><ellipse cx="1310.5" cy="344.1" rx="4.5" ry="4.2" transform="rotate(-40 1310.5 344.1)"/><ellipse cx="1213.5" cy="329" rx="4.8" ry="4.3" transform="rotate(48 1213.5 329)"/><ellipse cx="1335.4" cy="306.8" rx="6.4" ry="4.3" transform="rotate(-30 1335.4 306.8)"/><ellipse cx="1269.5" cy="345.3" rx="4.5" ry="4.4" transform="rotate(35 1269.5 345.3)"/><ellipse cx="1194.2" cy="326.7" rx="5.5" ry="3.4" transform="rotate(24 1194.2 326.7)"/><ellipse cx="1301.2" cy="342.1" rx="5.5" ry="3.6" transform="rotate(-53 1301.2 342.1)"/><ellipse cx="1274.2" cy="304.9" rx="5.5" ry="4.2" transform="rotate(-41 1274.2 304.9)"/><ellipse cx="1231.3" cy="312.1" rx="5.7" ry="3.9" transform="rotate(14 1231.3 312.1)"/><ellipse cx="1291.9" cy="319" rx="3.8" ry="4.1" transform="rotate(27 1291.9 319)"/><ellipse cx="1327.7" cy="346.1" rx="3.7" ry="4.5" transform="rotate(14 1327.7 346.1)"/><ellipse cx="1193.7" cy="336.4" rx="4.6" ry="3.6" transform="rotate(-15 1193.7 336.4)"/><ellipse cx="1248.3" cy="336.2" rx="5.4" ry="4.4" transform="rotate(-2 1248.3 336.2)"/><ellipse cx="1218.6" cy="335.6" rx="4.5" ry="4.2" transform="rotate(-57 1218.6 335.6)"/><ellipse cx="1254.8" cy="302.2" rx="5" ry="3.4" transform="rotate(-5 1254.8 302.2)"/><ellipse cx="1218.9" cy="304.9" rx="5.5" ry="4.8" transform="rotate(16 1218.9 304.9)"/><ellipse cx="1161.9" cy="332.6" rx="3.9" ry="4.8" transform="rotate(-18 1161.9 332.6)"/><ellipse cx="1165.5" cy="319.5" rx="5" ry="3.2" transform="rotate(-36 1165.5 319.5)"/><ellipse cx="1196.5" cy="337.2" rx="6.5" ry="3.7" transform="rotate(-22 1196.5 337.2)"/><ellipse cx="1301.1" cy="307.4" rx="5.2" ry="3.9" transform="rotate(-26 1301.1 307.4)"/><ellipse cx="1307.4" cy="338.9" rx="3.9" ry="3.6" transform="rotate(-26 1307.4 338.9)"/><ellipse cx="1307" cy="351.6" rx="5.3" ry="4.7" transform="rotate(24 1307 351.6)"/><ellipse cx="1290.9" cy="333.6" rx="4.2" ry="3.7" transform="rotate(58 1290.9 333.6)"/><ellipse cx="1267.2" cy="348.2" rx="4.4" ry="3.8" transform="rotate(37 1267.2 348.2)"/><ellipse cx="1282" cy="323.5" rx="5.9" ry="3.5" transform="rotate(-58 1282 323.5)"/><ellipse cx="1274.5" cy="335.2" rx="4.9" ry="3.4" transform="rotate(-36 1274.5 335.2)"/><ellipse cx="1291.8" cy="310" rx="3.8" ry="3.9" transform="rotate(-12 1291.8 310)"/><ellipse cx="1188.2" cy="341.9" rx="6" ry="4.9" transform="rotate(36 1188.2 341.9)"/><ellipse cx="1272" cy="310.2" rx="6" ry="4.5" transform="rotate(40 1272 310.2)"/><ellipse cx="1292.2" cy="336.3" rx="6" ry="3.6" transform="rotate(19 1292.2 336.3)"/><ellipse cx="1245.6" cy="317.8" rx="4.5" ry="3.3" transform="rotate(20 1245.6 317.8)"/><ellipse cx="1240.4" cy="319.4" rx="4.8" ry="4.7" transform="rotate(-6 1240.4 319.4)"/><ellipse cx="1278.7" cy="351.2" rx="4.2" ry="4" transform="rotate(21 1278.7 351.2)"/><ellipse cx="1159.4" cy="321.7" rx="6.4" ry="3.2" transform="rotate(33 1159.4 321.7)"/><ellipse cx="1316.3" cy="326.8" rx="5.9" ry="3.9" transform="rotate(30 1316.3 326.8)"/><ellipse cx="1212.3" cy="326.5" rx="4.1" ry="3.6" transform="rotate(-42 1212.3 326.5)"/><ellipse cx="1341.2" cy="317.1" rx="4.2" ry="4.9" transform="rotate(-24 1341.2 317.1)"/><ellipse cx="1168.7" cy="350.3" rx="6.1" ry="4.3" transform="rotate(32 1168.7 350.3)"/><ellipse cx="1180.6" cy="306.4" rx="3.8" ry="3.7" transform="rotate(-9 1180.6 306.4)"/><ellipse cx="1223.3" cy="348.1" rx="5.1" ry="5" transform="rotate(-57 1223.3 348.1)"/><ellipse cx="1170.3" cy="329.2" rx="4" ry="3.1" transform="rotate(26 1170.3 329.2)"/><ellipse cx="1332.2" cy="317.3" rx="4.1" ry="3.2" transform="rotate(28 1332.2 317.3)"/><ellipse cx="1234.2" cy="300.9" rx="5.6" ry="3.5" transform="rotate(18 1234.2 300.9)"/><ellipse cx="1299.1" cy="325.5" rx="5.1" ry="3.9" transform="rotate(-31 1299.1 325.5)"/><ellipse cx="1341.6" cy="341.4" rx="3.7" ry="4" transform="rotate(21 1341.6 341.4)"/><ellipse cx="1188.2" cy="306.6" rx="4.1" ry="3.5" transform="rotate(-8 1188.2 306.6)"/><ellipse cx="1291.8" cy="344.4" rx="5.6" ry="3.6" transform="rotate(55 1291.8 344.4)"/></g>
</g>
<rect x="1140.6" y="355" width="203" height="23" fill="#e2e2de"/>
<path d="M1220 356v12.2M1200.2 356v11.9M1297.2 356v7.1M1196.7 356v12.7M1277.9 356v15M1287.8 356v7.5M1177.3 356v10.3M1197.8 356v16.6M1342.2 356v15.6M1147.3 356v10.2M1303.6 356v18.9M1261.4 356v10.9M1212.7 356v14.9M1316 356v10.8M1179.3 356v6M1168.5 356v17.9M1267.4 356v19.9M1154.7 356v11.1M1302.1 356v15.3M1154.1 356v11.6M1270 356v15.6M1232.3 356v8.6M1336.7 356v12.5M1286.2 356v13.5M1157 356v9.3M1153.4 356v8.7M1181.2 356v11.8M1205.9 356v11.1M1306.4 356v6.3M1161.6 356v17.3M1249 356v12.1M1194.9 356v13.6M1185.6 356v18M1307.9 356v10.5M1145.6 356v18.4M1201.2 356v15.2M1314.8 356v17.2M1315.7 356v12.8M1311.6 356v12.5M1194.2 356v12.7M1208.7 356v16.7M1309.4 356v8M1174 356v11.4M1234.6 356v19.4M1331.8 356v19.5" stroke="#555" stroke-width="0.7" opacity="0.55"/>
<path d="M1140.6 375h203" stroke="#6a6a66" stroke-width="1.8"/>
<path d="M1140.6 356h203" stroke="#77707a" stroke-width="1.6"/>
<rect x="1140.6" y="376" width="203" height="12" fill="#e2e2e2"/>
</g>
<rect x="1138.6" y="180" width="207" height="207" fill="none" stroke="#8c8cff" stroke-width="4"/>
<text x="1155.1" y="210.1" font-size="24">9</text>
<g clip-path="url(#cp6)">
<rect x="1367.8" y="182" width="203" height="203" fill="#e6e4e2"/>
<rect x="1367.8" y="182" width="203" height="203" fill="#000" filter="url(#bgn)" opacity="0.13"/>
<path d="M1367.8 358L1367.8 281L1374.6 281.7L1381.3 281.3L1388.1 280.6L1394.9 280L1401.6 281.2L1408.4 281.4L1415.2 281L1421.9 280.5L1428.7 280.3L1435.5 281.3L1442.2 281.2L1449 281L1455.8 280.8L1462.5 280.8L1469.3 281.3L1476.1 281.7L1482.8 281L1489.6 281L1496.4 281.1L1503.1 281.7L1509.9 281.7L1516.7 281.2L1523.4 280.9L1530.2 281.2L1537 281.7L1543.7 282.2L1550.5 281.6L1557.3 281.1L1564 281.7L1570.8 282.4L1570.8 358Z" fill="#9d8dc8"/>
<path d="M1367.8 281L1374.6 281.7L1381.3 281.3L1388.1 280.6L1394.9 280L1401.6 281.2L1408.4 281.4L1415.2 281L1421.9 280.5L1428.7 280.3L1435.5 281.3L1442.2 281.2L1449 281L1455.8 280.8L1462.5 280.8L1469.3 281.3L1476.1 281.7L1482.8 281L1489.6 281L1496.4 281.1L1503.1 281.7L1509.9 281.7L1516.7 281.2L1523.4 280.9L1530.2 281.2L1537 281.7L1543.7 282.2L1550.5 281.6L1557.3 281.1L1564 281.7L1570.8 282.4" fill="none" stroke="#6a4a96" stroke-width="2"/>
<path d="M1367.1 281v-3.2M1367.8 281v-2.4M1376.3 281.7v-3M1374.3 281.7v-3.4M1382.8 281.3v-3.7M1383.2 281.3v-3.3M1389.4 280.6v-2.3M1389.3 280.6v-2.5M1393.4 280v-2.2M1394.2 280v-2M1402.6 281.2v-3.5M1403.3 281.2v-2.3M1409.2 281.4v-3.7M1405.6 281.4v-2.4M1413.8 281v-2.9M1413.2 281v-3.1M1421 280.5v-3.3M1422.1 280.5v-3.4M1427.2 280.3v-3.4M1430.1 280.3v-3.4M1432.9 281.3v-3.9M1435.9 281.3v-2.5M1441.8 281.2v-3M1442.3 281.2v-2.5M1447.6 281v-2.7M1450.7 281v-2.9M1453 280.8v-2.9M1454 280.8v-2M1465.4 280.8v-2.6M1462.8 280.8v-2.7M1466.6 281.3v-3.8M1471.9 281.3v-2.4M1475.6 281.7v-2.7M1474.1 281.7v-3.3M1484.5 281v-3.5M1483.9 281v-2M1488 281v-3M1490.8 281v-2.8M1496.1 281.1v-3.7M1493.5 281.1v-2.5M1501.9 281.7v-4M1501.5 281.7v-2.1M1509.4 281.7v-3.3M1507.8 281.7v-3.7M1514.8 281.2v-3.4M1514.6 281.2v-3.8M1521.6 280.9v-3.5M1525.5 280.9v-2.5M1527.8 281.2v-3.2M1530.2 281.2v-3M1538.7 281.7v-2.9M1536.9 281.7v-3M1543.5 282.2v-2.8M1541.7 282.2v-2.6M1549.1 281.6v-2.5M1552.2 281.6v-2.2M1555.5 281.1v-3.1M1556.1 281.1v-2.5M1563.3 281.7v-3M1565.1 281.7v-3.9M1572.9 282.4v-2.9M1570.5 282.4v-2.8" stroke="#9a6aa8" stroke-width="0.8" opacity="0.7"/>
<clipPath id="cl6"><path d="M1367.8 358L1367.8 281L1374.6 281.7L1381.3 281.3L1388.1 280.6L1394.9 280L1401.6 281.2L1408.4 281.4L1415.2 281L1421.9 280.5L1428.7 280.3L1435.5 281.3L1442.2 281.2L1449 281L1455.8 280.8L1462.5 280.8L1469.3 281.3L1476.1 281.7L1482.8 281L1489.6 281L1496.4 281.1L1503.1 281.7L1509.9 281.7L1516.7 281.2L1523.4 280.9L1530.2 281.2L1537 281.7L1543.7 282.2L1550.5 281.6L1557.3 281.1L1564 281.7L1570.8 282.4L1570.8 358Z"/></clipPath>
<g clip-path="url(#cl6)">
<rect x="1367.8" y="200" width="203" height="158" fill="#000" filter="url(#cel)" opacity="0.5"/>
<rect x="1367.8" y="200" width="203" height="158" fill="#000" filter="url(#celd)" opacity="0.35"/>
<g fill="#45358f" opacity="0.85"><ellipse cx="1416.3" cy="352.4" rx="3.7" ry="3.4" transform="rotate(23 1416.3 352.4)"/><ellipse cx="1487.5" cy="316" rx="6.3" ry="3.8" transform="rotate(19 1487.5 316)"/><ellipse cx="1488.8" cy="305.9" rx="6.2" ry="3.2" transform="rotate(6 1488.8 305.9)"/><ellipse cx="1547.6" cy="352.1" rx="6.2" ry="4.7" transform="rotate(-13 1547.6 352.1)"/><ellipse cx="1415.2" cy="302.2" rx="4.9" ry="3.1" transform="rotate(-29 1415.2 302.2)"/><ellipse cx="1369.5" cy="318.6" rx="4.1" ry="3" transform="rotate(55 1369.5 318.6)"/><ellipse cx="1469.1" cy="304.9" rx="6.2" ry="4.4" transform="rotate(-41 1469.1 304.9)"/><ellipse cx="1538.6" cy="344.2" rx="4.5" ry="4.7" transform="rotate(-16 1538.6 344.2)"/><ellipse cx="1556.5" cy="334.5" rx="4.6" ry="4.8" transform="rotate(27 1556.5 334.5)"/><ellipse cx="1438.3" cy="305.8" rx="6.1" ry="4.3" transform="rotate(53 1438.3 305.8)"/><ellipse cx="1414.9" cy="331.4" rx="4.4" ry="4.8" transform="rotate(-48 1414.9 331.4)"/><ellipse cx="1407.6" cy="303.3" rx="4.5" ry="5" transform="rotate(-19 1407.6 303.3)"/><ellipse cx="1412.1" cy="325.7" rx="6.4" ry="3" transform="rotate(45 1412.1 325.7)"/><ellipse cx="1534.5" cy="306.3" rx="6.3" ry="4.7" transform="rotate(-25 1534.5 306.3)"/><ellipse cx="1396.8" cy="332.6" rx="5.2" ry="4.4" transform="rotate(-18 1396.8 332.6)"/><ellipse cx="1445.8" cy="314" rx="4.4" ry="3.4" transform="rotate(-24 1445.8 314)"/><ellipse cx="1551.4" cy="348.9" rx="4.6" ry="4.4" transform="rotate(33 1551.4 348.9)"/><ellipse cx="1424.8" cy="319.4" rx="6.4" ry="3.7" transform="rotate(-2 1424.8 319.4)"/><ellipse cx="1485.3" cy="352" rx="4.4" ry="4.6" transform="rotate(-55 1485.3 352)"/><ellipse cx="1516.7" cy="344.5" rx="6" ry="5" transform="rotate(-47 1516.7 344.5)"/><ellipse cx="1512.1" cy="353.8" rx="4.3" ry="4" transform="rotate(-45 1512.1 353.8)"/><ellipse cx="1384.8" cy="324.5" rx="5.7" ry="4.6" transform="rotate(-35 1384.8 324.5)"/><ellipse cx="1371.2" cy="351.9" rx="4.2" ry="3.6" transform="rotate(-35 1371.2 351.9)"/><ellipse cx="1549.3" cy="340.8" rx="4.5" ry="3.9" transform="rotate(39 1549.3 340.8)"/><ellipse cx="1537.2" cy="320.4" rx="5.9" ry="4.6" transform="rotate(-35 1537.2 320.4)"/><ellipse cx="1549.8" cy="321.8" rx="5.7" ry="4.3" transform="rotate(-4 1549.8 321.8)"/><ellipse cx="1435" cy="329.4" rx="5.3" ry="4.1" transform="rotate(41 1435 329.4)"/><ellipse cx="1569.1" cy="353.2" rx="3.6" ry="4.9" transform="rotate(-47 1569.1 353.2)"/><ellipse cx="1475.7" cy="307.8" rx="6" ry="3.9" transform="rotate(5 1475.7 307.8)"/><ellipse cx="1535.7" cy="330.1" rx="3.6" ry="4.6" transform="rotate(25 1535.7 330.1)"/><ellipse cx="1508.7" cy="350.2" rx="4.3" ry="4.6" transform="rotate(-20 1508.7 350.2)"/><ellipse cx="1439.9" cy="323.3" rx="4.5" ry="3" transform="rotate(44 1439.9 323.3)"/><ellipse cx="1414.8" cy="318.5" rx="3.8" ry="4.5" transform="rotate(13 1414.8 318.5)"/><ellipse cx="1483.1" cy="316.3" rx="4.6" ry="4.5" transform="rotate(-9 1483.1 316.3)"/><ellipse cx="1463.2" cy="333.1" rx="4.8" ry="4.1" transform="rotate(-4 1463.2 333.1)"/><ellipse cx="1422.1" cy="328.7" rx="5.6" ry="3.2" transform="rotate(47 1422.1 328.7)"/><ellipse cx="1563.1" cy="328" rx="4.2" ry="4.5" transform="rotate(-10 1563.1 328)"/><ellipse cx="1495.8" cy="350.5" rx="3.8" ry="4.1" transform="rotate(37 1495.8 350.5)"/><ellipse cx="1518.6" cy="350.5" rx="5.4" ry="4.2" transform="rotate(-40 1518.6 350.5)"/><ellipse cx="1483.8" cy="330.9" rx="6.2" ry="4.7" transform="rotate(-14 1483.8 330.9)"/><ellipse cx="1517.5" cy="350.9" rx="3.7" ry="4.5" transform="rotate(-24 1517.5 350.9)"/><ellipse cx="1520.4" cy="316.9" rx="4.9" ry="4.6" transform="rotate(-5 1520.4 316.9)"/><ellipse cx="1374.9" cy="316.7" rx="5" ry="4.7" transform="rotate(27 1374.9 316.7)"/><ellipse cx="1534.9" cy="314.3" rx="4.4" ry="4.1" transform="rotate(-28 1534.9 314.3)"/><ellipse cx="1500.5" cy="348.5" rx="6.1" ry="3.5" transform="rotate(-22 1500.5 348.5)"/><ellipse cx="1496.7" cy="321.8" rx="5.8" ry="4.8" transform="rotate(29 1496.7 321.8)"/><ellipse cx="1465.1" cy="350.5" rx="3.9" ry="3.3" transform="rotate(58 1465.1 350.5)"/><ellipse cx="1429.8" cy="332.3" rx="5" ry="3.3" transform="rotate(31 1429.8 332.3)"/><ellipse cx="1520.9" cy="341" rx="3.9" ry="3.5" transform="rotate(-47 1520.9 341)"/><ellipse cx="1553" cy="348" rx="5" ry="3.7" transform="rotate(36 1553 348)"/><ellipse cx="1458.2" cy="310.4" rx="5" ry="3.5" transform="rotate(7 1458.2 310.4)"/><ellipse cx="1445.1" cy="304.5" rx="4.9" ry="4.4" transform="rotate(-41 1445.1 304.5)"/><ellipse cx="1500" cy="353.7" rx="6.2" ry="4.3" transform="rotate(-39 1500 353.7)"/><ellipse cx="1458" cy="344.1" rx="4.4" ry="4.1" transform="rotate(47 1458 344.1)"/><ellipse cx="1566.7" cy="333.6" rx="5" ry="4.6" transform="rotate(-17 1566.7 333.6)"/><ellipse cx="1536.5" cy="302.2" rx="4.2" ry="3.4" transform="rotate(-23 1536.5 302.2)"/><ellipse cx="1420" cy="352" rx="3.6" ry="3.6" transform="rotate(27 1420 352)"/><ellipse cx="1510.5" cy="342.8" rx="4.6" ry="3.4" transform="rotate(8 1510.5 342.8)"/><ellipse cx="1540.8" cy="308.2" rx="3.7" ry="3.5" transform="rotate(48 1540.8 308.2)"/><ellipse cx="1559.1" cy="340.4" rx="5.2" ry="4" transform="rotate(-1 1559.1 340.4)"/><ellipse cx="1508.6" cy="335.1" rx="4.5" ry="3.2" transform="rotate(11 1508.6 335.1)"/><ellipse cx="1526.7" cy="335.2" rx="5.9" ry="3.1" transform="rotate(-36 1526.7 335.2)"/><ellipse cx="1550.7" cy="321.7" rx="6.3" ry="4.2" transform="rotate(-9 1550.7 321.7)"/><ellipse cx="1533.9" cy="334.8" rx="5.5" ry="3.3" transform="rotate(5 1533.9 334.8)"/><ellipse cx="1490.5" cy="320.2" rx="3.7" ry="3.3" transform="rotate(17 1490.5 320.2)"/><ellipse cx="1421.1" cy="342.2" rx="3.9" ry="3" transform="rotate(-3 1421.1 342.2)"/><ellipse cx="1570.2" cy="318.4" rx="5" ry="3.4" transform="rotate(-15 1570.2 318.4)"/><ellipse cx="1449.5" cy="343.6" rx="3.6" ry="4.7" transform="rotate(-35 1449.5 343.6)"/><ellipse cx="1568.8" cy="331.5" rx="4.6" ry="3.5" transform="rotate(-46 1568.8 331.5)"/><ellipse cx="1433.4" cy="346.9" rx="3.5" ry="4.6" transform="rotate(-39 1433.4 346.9)"/><ellipse cx="1503.3" cy="302.1" rx="3.7" ry="4.5" transform="rotate(-45 1503.3 302.1)"/><ellipse cx="1431.4" cy="347.4" rx="4.1" ry="3.9" transform="rotate(20 1431.4 347.4)"/><ellipse cx="1391.1" cy="335.5" rx="3.8" ry="3.4" transform="rotate(-39 1391.1 335.5)"/><ellipse cx="1469.3" cy="336.7" rx="5.7" ry="4.2" transform="rotate(31 1469.3 336.7)"/><ellipse cx="1407.9" cy="338.7" rx="3.8" ry="3.5" transform="rotate(-2 1407.9 338.7)"/></g>
<g fill="#f4eef4" opacity="0.55"><ellipse cx="1391" cy="293" rx="4" ry="7.7"/><ellipse cx="1443.1" cy="300.9" rx="2.6" ry="6.6"/><ellipse cx="1485.6" cy="316.1" rx="2.1" ry="8.5"/><ellipse cx="1568.9" cy="299.7" rx="4.2" ry="8.1"/><ellipse cx="1500" cy="298.1" rx="3.9" ry="8.4"/><ellipse cx="1389.5" cy="303.4" rx="2.1" ry="8.2"/><ellipse cx="1525.8" cy="291.3" rx="4.2" ry="7.5"/><ellipse cx="1393.4" cy="304.7" rx="4.1" ry="5.7"/><ellipse cx="1470.1" cy="317.3" rx="3.9" ry="6.5"/><ellipse cx="1381.2" cy="293.4" rx="4.6" ry="7.7"/><ellipse cx="1537.3" cy="306.2" rx="3.7" ry="6.7"/><ellipse cx="1517" cy="299.3" rx="3.5" ry="6.3"/><ellipse cx="1502.1" cy="296.1" rx="2.1" ry="4.4"/><ellipse cx="1404.2" cy="314" rx="4.2" ry="7.7"/></g>
</g>
<rect x="1367.8" y="358" width="203" height="19" fill="#e2e2de"/>
<path d="M1458 359v7M1462.3 359v14.6M1471.2 359v12.3M1443.8 359v7.5M1495 359v10.8M1438 359v8.6M1509.1 359v9.2M1484.7 359v8.6M1520.7 359v9.7M1464.9 359v15.3M1513.6 359v13.4M1436.7 359v14.4M1446.1 359v15.9M1549.7 359v12.6M1536.6 359v11.4M1516.6 359v7.2M1568.5 359v14M1396.7 359v8.4M1484.5 359v13.6M1398 359v15.6M1438 359v15.9M1520.6 359v10.9M1441.4 359v7M1385.6 359v12.3M1524.8 359v15.1M1441.9 359v15.4M1428.1 359v15.4M1554.3 359v7.5M1542.5 359v13M1510.4 359v14.4M1476.7 359v11.1M1442.3 359v14.7M1550.7 359v7.6M1524.6 359v8.8M1405.1 359v8M1484.2 359v8.8M1417 359v7M1433.7 359v13.7M1372.2 359v10.8M1490.2 359v6.5M1427.5 359v15.1M1569.7 359v14.5M1402.2 359v13.6M1459.3 359v7.7M1465.4 359v15.2" stroke="#555" stroke-width="0.7" opacity="0.55"/>
<path d="M1367.8 374h203" stroke="#6a6a66" stroke-width="1.8"/>
<path d="M1367.8 359h203" stroke="#77707a" stroke-width="1.6"/>
<rect x="1367.8" y="375" width="203" height="13" fill="#e2e2e2"/>
</g>
<rect x="1365.8" y="180" width="207" height="207" fill="none" stroke="#b8b8ff" stroke-width="4"/>
<text x="1382.3" y="210.1" font-size="24">11</text>
<g clip-path="url(#cp7)">
<rect x="1595.2" y="182" width="203" height="203" fill="#d6dfe3"/>
<rect x="1595.2" y="182" width="203" height="203" fill="#000" filter="url(#bgn)" opacity="0.13"/>
<path d="M1595.2 356L1595.2 251.7L1602 251.3L1608.7 250.3L1615.5 250.3L1622.3 250.6L1629 250.8L1635.8 250.5L1642.6 249.9L1649.3 249.5L1656.1 249.7L1662.9 250.1L1669.6 249.7L1676.4 248.9L1683.2 248.3L1689.9 249L1696.7 250L1703.5 248.7L1710.2 248.5L1717 248.3L1723.8 248.6L1730.5 249L1737.3 248.1L1744.1 247.7L1750.8 247.7L1757.6 248.3L1764.4 248.2L1771.1 247.9L1777.9 247.1L1784.7 247L1791.4 247.7L1798.2 247.4L1798.2 356Z" fill="#a07ab8"/>
<path d="M1595.2 251.7L1602 251.3L1608.7 250.3L1615.5 250.3L1622.3 250.6L1629 250.8L1635.8 250.5L1642.6 249.9L1649.3 249.5L1656.1 249.7L1662.9 250.1L1669.6 249.7L1676.4 248.9L1683.2 248.3L1689.9 249L1696.7 250L1703.5 248.7L1710.2 248.5L1717 248.3L1723.8 248.6L1730.5 249L1737.3 248.1L1744.1 247.7L1750.8 247.7L1757.6 248.3L1764.4 248.2L1771.1 247.9L1777.9 247.1L1784.7 247L1791.4 247.7L1798.2 247.4" fill="none" stroke="#a04a9a" stroke-width="2"/>
<path d="M1597.9 251.7v-5.2M1597.6 251.7v-3.4M1604.9 251.3v-2.5M1602.1 251.3v-2.6M1606.9 250.3v-5.8M1606.1 250.3v-3.9M1613.6 250.3v-6.3M1613 250.3v-3.7M1624.4 250.6v-5.4M1623.5 250.6v-7M1626.2 250.8v-5.3M1630.5 250.8v-5.7M1637.1 250.5v-2.4M1633.3 250.5v-5.9M1643.2 249.9v-3.3M1639.6 249.9v-4.7M1646.9 249.5v-5.7M1648.4 249.5v-6M1653.7 249.7v-4.5M1653.7 249.7v-5.9M1663.2 250.1v-3.2M1665.6 250.1v-5.4M1668.7 249.7v-6.3M1668.9 249.7v-6.7M1675.2 248.9v-6.9M1673.8 248.9v-5.7M1681.9 248.3v-4.1M1684 248.3v-2.2M1688.3 249v-2.5M1691.4 249v-3.1M1696.7 250v-3.6M1695.1 250v-6.7M1703.5 248.7v-5.3M1704.7 248.7v-6.1M1708.8 248.5v-2.4M1710 248.5v-2.9M1714.1 248.3v-6.6M1717.8 248.3v-4.1M1721.6 248.6v-5.8M1724 248.6v-2.9M1733.4 249v-6.8M1733.1 249v-6.1M1737.5 248.1v-3.5M1738.2 248.1v-2.8M1744.8 247.7v-2.3M1741.1 247.7v-5.6M1749.9 247.7v-5.5M1752.5 247.7v-6.2M1758.3 248.3v-6.2M1758.6 248.3v-6.6M1766.7 248.2v-2.2M1763 248.2v-3.9M1769.6 247.9v-2.9M1773.4 247.9v-2.1M1776 247.1v-5.8M1776.2 247.1v-3.3M1787.5 247v-5.8M1784.4 247v-2.7M1790 247.7v-6.9M1793.2 247.7v-2.3M1799.4 247.4v-3.9M1799.5 247.4v-3.5" stroke="#9a6aa8" stroke-width="0.8" opacity="0.7"/>
<clipPath id="cl7"><path d="M1595.2 356L1595.2 251.7L1602 251.3L1608.7 250.3L1615.5 250.3L1622.3 250.6L1629 250.8L1635.8 250.5L1642.6 249.9L1649.3 249.5L1656.1 249.7L1662.9 250.1L1669.6 249.7L1676.4 248.9L1683.2 248.3L1689.9 249L1696.7 250L1703.5 248.7L1710.2 248.5L1717 248.3L1723.8 248.6L1730.5 249L1737.3 248.1L1744.1 247.7L1750.8 247.7L1757.6 248.3L1764.4 248.2L1771.1 247.9L1777.9 247.1L1784.7 247L1791.4 247.7L1798.2 247.4L1798.2 356Z"/></clipPath>
<g clip-path="url(#cl7)">
<rect x="1595.2" y="200" width="203" height="156" fill="#000" filter="url(#cel)" opacity="0.5"/>
<rect x="1595.2" y="200" width="203" height="156" fill="#000" filter="url(#celd)" opacity="0.35"/>
<g fill="#45277a" opacity="0.85"><ellipse cx="1621.6" cy="266.1" rx="4.4" ry="4.7" transform="rotate(-7 1621.6 266.1)"/><ellipse cx="1776.1" cy="323.9" rx="5.7" ry="3.4" transform="rotate(41 1776.1 323.9)"/><ellipse cx="1777.7" cy="351.7" rx="4.8" ry="4.6" transform="rotate(-18 1777.7 351.7)"/><ellipse cx="1784.7" cy="352.7" rx="4.4" ry="4.3" transform="rotate(-4 1784.7 352.7)"/><ellipse cx="1689.6" cy="304.2" rx="4.3" ry="3" transform="rotate(-14 1689.6 304.2)"/><ellipse cx="1750.8" cy="325.2" rx="6" ry="3.3" transform="rotate(18 1750.8 325.2)"/><ellipse cx="1716.2" cy="347.3" rx="4.9" ry="3.4" transform="rotate(-32 1716.2 347.3)"/><ellipse cx="1715.9" cy="349.1" rx="6.1" ry="4.8" transform="rotate(-44 1715.9 349.1)"/><ellipse cx="1648.4" cy="341.4" rx="5.9" ry="4.7" transform="rotate(-11 1648.4 341.4)"/><ellipse cx="1674.6" cy="288.7" rx="4.2" ry="4.7" transform="rotate(-28 1674.6 288.7)"/><ellipse cx="1669.7" cy="341.7" rx="4.6" ry="3.9" transform="rotate(50 1669.7 341.7)"/><ellipse cx="1710.2" cy="282.4" rx="4.3" ry="3.5" transform="rotate(21 1710.2 282.4)"/><ellipse cx="1699.9" cy="271.8" rx="5.8" ry="3.3" transform="rotate(-29 1699.9 271.8)"/><ellipse cx="1685.3" cy="320.5" rx="3.9" ry="3.8" transform="rotate(40 1685.3 320.5)"/><ellipse cx="1706.9" cy="343.3" rx="5.9" ry="3.2" transform="rotate(7 1706.9 343.3)"/><ellipse cx="1764.3" cy="312" rx="5.5" ry="3.3" transform="rotate(-27 1764.3 312)"/><ellipse cx="1737.3" cy="334.5" rx="5.9" ry="3.4" transform="rotate(-4 1737.3 334.5)"/><ellipse cx="1764.2" cy="313.7" rx="5.5" ry="4.7" transform="rotate(11 1764.2 313.7)"/><ellipse cx="1781.9" cy="342.1" rx="5.9" ry="3.8" transform="rotate(-12 1781.9 342.1)"/><ellipse cx="1702.4" cy="278.1" rx="5.8" ry="4.8" transform="rotate(30 1702.4 278.1)"/><ellipse cx="1746.4" cy="325.1" rx="3.6" ry="4.8" transform="rotate(-41 1746.4 325.1)"/><ellipse cx="1692.5" cy="287.2" rx="3.6" ry="4.6" transform="rotate(-23 1692.5 287.2)"/><ellipse cx="1699.4" cy="280.3" rx="5.3" ry="3.8" transform="rotate(-20 1699.4 280.3)"/><ellipse cx="1758.9" cy="322.7" rx="5.7" ry="3.5" transform="rotate(-8 1758.9 322.7)"/><ellipse cx="1773.8" cy="347.1" rx="5.4" ry="4.8" transform="rotate(-53 1773.8 347.1)"/><ellipse cx="1738.6" cy="317" rx="4.8" ry="3.7" transform="rotate(-33 1738.6 317)"/><ellipse cx="1640.4" cy="302" rx="5" ry="3.1" transform="rotate(-2 1640.4 302)"/><ellipse cx="1675.1" cy="288.5" rx="5.4" ry="4.6" transform="rotate(22 1675.1 288.5)"/><ellipse cx="1730" cy="317.9" rx="4.3" ry="3.8" transform="rotate(13 1730 317.9)"/><ellipse cx="1766.6" cy="348.1" rx="4" ry="3" transform="rotate(-40 1766.6 348.1)"/><ellipse cx="1769.7" cy="317.3" rx="6" ry="4.2" transform="rotate(55 1769.7 317.3)"/><ellipse cx="1778.9" cy="283.4" rx="4.8" ry="4.3" transform="rotate(59 1778.9 283.4)"/><ellipse cx="1740.3" cy="285.6" rx="5.6" ry="4.6" transform="rotate(-35 1740.3 285.6)"/><ellipse cx="1681.3" cy="352.1" rx="5.4" ry="4.5" transform="rotate(14 1681.3 352.1)"/><ellipse cx="1618.1" cy="327.4" rx="6.3" ry="4.3" transform="rotate(-58 1618.1 327.4)"/><ellipse cx="1780.5" cy="266.4" rx="6.2" ry="4.8" transform="rotate(-57 1780.5 266.4)"/><ellipse cx="1682.4" cy="326.3" rx="4.2" ry="4.3" transform="rotate(15 1682.4 326.3)"/><ellipse cx="1736.1" cy="311" rx="4.3" ry="3" transform="rotate(-40 1736.1 311)"/><ellipse cx="1764.5" cy="281.3" rx="3.7" ry="3.5" transform="rotate(-37 1764.5 281.3)"/><ellipse cx="1700.6" cy="315.7" rx="6.1" ry="4.7" transform="rotate(43 1700.6 315.7)"/><ellipse cx="1774.7" cy="302.5" rx="3.9" ry="4.9" transform="rotate(56 1774.7 302.5)"/><ellipse cx="1641.6" cy="319.2" rx="4.3" ry="4.6" transform="rotate(-14 1641.6 319.2)"/><ellipse cx="1680.6" cy="282.3" rx="6.1" ry="4.2" transform="rotate(-36 1680.6 282.3)"/><ellipse cx="1723.3" cy="290.8" rx="4" ry="4.7" transform="rotate(-9 1723.3 290.8)"/><ellipse cx="1744.3" cy="352.7" rx="5.2" ry="3.4" transform="rotate(31 1744.3 352.7)"/><ellipse cx="1718.9" cy="288.4" rx="5" ry="3.9" transform="rotate(37 1718.9 288.4)"/><ellipse cx="1782.2" cy="335.5" rx="4.7" ry="4.6" transform="rotate(7 1782.2 335.5)"/><ellipse cx="1769.9" cy="332.4" rx="5.2" ry="4.8" transform="rotate(40 1769.9 332.4)"/><ellipse cx="1616.7" cy="288.4" rx="5.5" ry="3.8" transform="rotate(-1 1616.7 288.4)"/><ellipse cx="1681" cy="298.8" rx="4.1" ry="3.2" transform="rotate(21 1681 298.8)"/><ellipse cx="1731.7" cy="291.6" rx="4.9" ry="4.9" transform="rotate(-55 1731.7 291.6)"/><ellipse cx="1722.4" cy="335.8" rx="5.8" ry="4.9" transform="rotate(-17 1722.4 335.8)"/><ellipse cx="1673.2" cy="348.5" rx="4.9" ry="4.9" transform="rotate(-52 1673.2 348.5)"/><ellipse cx="1632.7" cy="269.8" rx="6.2" ry="3.8" transform="rotate(55 1632.7 269.8)"/><ellipse cx="1785.3" cy="281.2" rx="6.4" ry="3.8" transform="rotate(0 1785.3 281.2)"/><ellipse cx="1645.4" cy="284.4" rx="5.1" ry="3.9" transform="rotate(22 1645.4 284.4)"/><ellipse cx="1605.5" cy="268.2" rx="4" ry="4.2" transform="rotate(46 1605.5 268.2)"/><ellipse cx="1753.8" cy="305.5" rx="5.3" ry="4.3" transform="rotate(12 1753.8 305.5)"/><ellipse cx="1645.2" cy="352.8" rx="4.5" ry="4.9" transform="rotate(-58 1645.2 352.8)"/><ellipse cx="1695.1" cy="283" rx="3.5" ry="3.4" transform="rotate(1 1695.1 283)"/><ellipse cx="1684.4" cy="302.9" rx="5.1" ry="3.9" transform="rotate(-22 1684.4 302.9)"/><ellipse cx="1601.9" cy="288" rx="6.4" ry="3.1" transform="rotate(17 1601.9 288)"/><ellipse cx="1691.9" cy="326.6" rx="4.5" ry="3.7" transform="rotate(28 1691.9 326.6)"/><ellipse cx="1700.1" cy="344.8" rx="4.5" ry="3.2" transform="rotate(36 1700.1 344.8)"/><ellipse cx="1774.2" cy="289.9" rx="3.9" ry="4.2" transform="rotate(-56 1774.2 289.9)"/><ellipse cx="1766.7" cy="316.5" rx="4" ry="3.8" transform="rotate(-17 1766.7 316.5)"/><ellipse cx="1598.6" cy="350" rx="4.9" ry="3.3" transform="rotate(-29 1598.6 350)"/><ellipse cx="1774.8" cy="351.6" rx="5.9" ry="3.5" transform="rotate(31 1774.8 351.6)"/><ellipse cx="1701.8" cy="315.4" rx="6.1" ry="4.9" transform="rotate(-38 1701.8 315.4)"/><ellipse cx="1780" cy="292.5" rx="5.3" ry="3.2" transform="rotate(11 1780 292.5)"/><ellipse cx="1609.6" cy="274.2" rx="3.9" ry="3.6" transform="rotate(2 1609.6 274.2)"/><ellipse cx="1658.1" cy="326.7" rx="3.7" ry="3.2" transform="rotate(58 1658.1 326.7)"/><ellipse cx="1731.8" cy="326.7" rx="5.7" ry="4.3" transform="rotate(18 1731.8 326.7)"/><ellipse cx="1707.4" cy="329.6" rx="3.7" ry="3.4" transform="rotate(31 1707.4 329.6)"/><ellipse cx="1634.3" cy="311.4" rx="4.3" ry="3.9" transform="rotate(28 1634.3 311.4)"/><ellipse cx="1764.5" cy="322.1" rx="4.8" ry="3.5" transform="rotate(-51 1764.5 322.1)"/><ellipse cx="1728.6" cy="302.3" rx="6.1" ry="4.4" transform="rotate(36 1728.6 302.3)"/><ellipse cx="1794.3" cy="322.2" rx="6.2" ry="4.1" transform="rotate(-23 1794.3 322.2)"/><ellipse cx="1766.2" cy="270.2" rx="4.9" ry="4.2" transform="rotate(25 1766.2 270.2)"/><ellipse cx="1606.9" cy="334.3" rx="5.6" ry="4.9" transform="rotate(5 1606.9 334.3)"/><ellipse cx="1690.4" cy="345" rx="4.7" ry="4.7" transform="rotate(-16 1690.4 345)"/><ellipse cx="1680.7" cy="293" rx="4.3" ry="3.4" transform="rotate(-39 1680.7 293)"/><ellipse cx="1628" cy="337.8" rx="6.4" ry="3.2" transform="rotate(-9 1628 337.8)"/><ellipse cx="1606.3" cy="264.6" rx="6.3" ry="3.1" transform="rotate(-22 1606.3 264.6)"/><ellipse cx="1656.9" cy="281.2" rx="4.2" ry="4.4" transform="rotate(21 1656.9 281.2)"/><ellipse cx="1598.9" cy="341.1" rx="5.2" ry="3.5" transform="rotate(-41 1598.9 341.1)"/><ellipse cx="1728.1" cy="319.5" rx="4.5" ry="3.7" transform="rotate(-35 1728.1 319.5)"/><ellipse cx="1689.3" cy="344.9" rx="5.1" ry="4.7" transform="rotate(-20 1689.3 344.9)"/><ellipse cx="1709.3" cy="306.7" rx="5.5" ry="4" transform="rotate(16 1709.3 306.7)"/><ellipse cx="1742.6" cy="278.3" rx="4.5" ry="4.7" transform="rotate(22 1742.6 278.3)"/><ellipse cx="1766.3" cy="347.3" rx="5.2" ry="3.2" transform="rotate(-13 1766.3 347.3)"/><ellipse cx="1748.9" cy="322.5" rx="4.4" ry="4.7" transform="rotate(-46 1748.9 322.5)"/><ellipse cx="1606.8" cy="270.3" rx="4.2" ry="4.2" transform="rotate(-3 1606.8 270.3)"/><ellipse cx="1760.7" cy="271.2" rx="3.6" ry="4.2" transform="rotate(20 1760.7 271.2)"/><ellipse cx="1684.9" cy="336.7" rx="6.3" ry="4.9" transform="rotate(-11 1684.9 336.7)"/><ellipse cx="1753.4" cy="262" rx="4" ry="4.2" transform="rotate(-41 1753.4 262)"/><ellipse cx="1611.7" cy="310" rx="4.7" ry="3.8" transform="rotate(54 1611.7 310)"/><ellipse cx="1649.7" cy="287.7" rx="4.2" ry="3.2" transform="rotate(-26 1649.7 287.7)"/><ellipse cx="1685.7" cy="327" rx="5.4" ry="4.9" transform="rotate(6 1685.7 327)"/><ellipse cx="1664.1" cy="342.5" rx="4.7" ry="4.3" transform="rotate(-58 1664.1 342.5)"/></g>
<g fill="#f4eef4" opacity="0.8"><ellipse cx="1675.7" cy="283.3" rx="3.9" ry="4.6"/><ellipse cx="1703.1" cy="262.6" rx="2.7" ry="7.1"/><ellipse cx="1792.5" cy="316" rx="2.8" ry="4.7"/><ellipse cx="1700.5" cy="283" rx="3.1" ry="7.8"/><ellipse cx="1739.3" cy="290.1" rx="3.9" ry="6.9"/><ellipse cx="1732.6" cy="311.7" rx="4.8" ry="8.9"/><ellipse cx="1769.7" cy="263.2" rx="3.4" ry="7.9"/><ellipse cx="1654.9" cy="292.8" rx="2.2" ry="5"/><ellipse cx="1676.4" cy="261.1" rx="3.3" ry="5.2"/><ellipse cx="1770.1" cy="275.8" rx="3.1" ry="8"/><ellipse cx="1708.8" cy="260" rx="2.7" ry="7.1"/><ellipse cx="1635.7" cy="271.6" rx="3.9" ry="6.5"/><ellipse cx="1649.8" cy="290" rx="3.9" ry="4.2"/><ellipse cx="1650.8" cy="275.2" rx="4.6" ry="4.3"/></g>
</g>
<rect x="1595.2" y="356" width="203" height="22" fill="#e2e2de"/>
<path d="M1665.7 357v8.5M1736.3 357v16.5M1606.9 357v17.2M1736.5 357v8.8M1781.1 357v9.8M1755.3 357v7M1687.8 357v12.6M1777.2 357v16.9M1706.1 357v6.7M1682.5 357v10.9M1797.3 357v14.8M1677.4 357v10.7M1751 357v7.2M1761.1 357v14.7M1683.6 357v15.2M1676 357v7.9M1679.8 357v6.7M1612.9 357v11.7M1762.7 357v8.6M1696.9 357v18.7M1763.2 357v17.7M1732.2 357v13.7M1713.3 357v13.8M1689.6 357v10.7M1643.7 357v6.8M1670.1 357v16M1707.4 357v8.1M1760.5 357v6.5M1784.2 357v14.5M1708.1 357v11.4M1762.7 357v6.1M1598.4 357v12.8M1655.5 357v11.2M1704.1 357v6.6M1794.8 357v14.8M1615.3 357v15.6M1703.4 357v14.9M1745 357v18.9M1619.2 357v19M1692 357v8.6M1671 357v10.7M1777 357v12.8M1608.7 357v15.3M1696.2 357v16.6M1604.6 357v17.2" stroke="#555" stroke-width="0.7" opacity="0.55"/>
<path d="M1595.2 375h203" stroke="#6a6a66" stroke-width="1.8"/>
<path d="M1595.2 357h203" stroke="#77707a" stroke-width="1.6"/>
<rect x="1595.2" y="376" width="203" height="12" fill="#e2e2e2"/>
</g>
<rect x="1593.2" y="180" width="207" height="207" fill="none" stroke="#ffbcbc" stroke-width="4"/>
<text x="1609.7" y="210.1" font-size="24">16</text>
<g clip-path="url(#cp8)">
<rect x="1822.3" y="182" width="203" height="203" fill="#dedede"/>
<rect x="1822.3" y="182" width="203" height="203" fill="#000" filter="url(#bgn)" opacity="0.13"/>
<path d="M1822.3 358L1822.3 228.9L1829.1 227.2L1835.8 226.5L1842.6 226L1849.4 226.6L1856.1 226L1862.9 225.6L1869.7 224L1876.4 224.3L1883.2 224.6L1890 224L1896.7 222.9L1903.5 222.7L1910.3 222.2L1917 222.7L1923.8 222.3L1930.6 221.4L1937.3 220.6L1944.1 220.7L1950.9 221.5L1957.6 221.2L1964.4 220.3L1971.2 219.8L1977.9 220.1L1984.7 220.2L1991.5 220.1L1998.2 219.3L2005 219L2011.8 219.9L2018.5 219.5L2025.3 219.3L2025.3 358Z" fill="#ab88c0"/>
<path d="M1822.3 228.9L1829.1 227.2L1835.8 226.5L1842.6 226L1849.4 226.6L1856.1 226L1862.9 225.6L1869.7 224L1876.4 224.3L1883.2 224.6L1890 224L1896.7 222.9L1903.5 222.7L1910.3 222.2L1917 222.7L1923.8 222.3L1930.6 221.4L1937.3 220.6L1944.1 220.7L1950.9 221.5L1957.6 221.2L1964.4 220.3L1971.2 219.8L1977.9 220.1L1984.7 220.2L1991.5 220.1L1998.2 219.3L2005 219L2011.8 219.9L2018.5 219.5L2025.3 219.3" fill="none" stroke="#a04a9a" stroke-width="2"/>
<path d="M1823.6 228.9v-6.5M1824.8 228.9v-3.2M1831.6 227.2v-4M1830.1 227.2v-6.8M1836.4 226.5v-4.9M1833.3 226.5v-5M1841 226v-3.9M1841.9 226v-6.9M1850.2 226.6v-5.6M1847.4 226.6v-3.5M1858.4 226v-2.6M1858.9 226v-4.1M1862.2 225.6v-4.6M1862.6 225.6v-4.4M1869.2 224v-5.5M1868.3 224v-2.8M1876 224.3v-2.4M1876.1 224.3v-4.5M1884.9 224.6v-2.5M1882.6 224.6v-5.9M1889 224v-6.2M1891.3 224v-2.2M1896 222.9v-5.8M1896.9 222.9v-5.4M1906.4 222.7v-5.4M1903.8 222.7v-6.2M1909.8 222.2v-2.1M1908.9 222.2v-5M1919.7 222.7v-5M1915.7 222.7v-7M1923.2 222.3v-3.1M1924.1 222.3v-3.7M1928.2 221.4v-5.6M1931.7 221.4v-6.9M1935.2 220.6v-6.6M1939.1 220.6v-3.3M1944 220.7v-5.2M1943 220.7v-2.5M1952.9 221.5v-2.8M1950.8 221.5v-4.2M1960.1 221.2v-4.8M1957.2 221.2v-6.9M1963.5 220.3v-5.6M1962.8 220.3v-5.8M1972.7 219.8v-6.1M1971.1 219.8v-3.1M1978.7 220.1v-6.6M1976.8 220.1v-2.1M1982.8 220.2v-6.7M1981.7 220.2v-2.3M1989.1 220.1v-6.5M1990.8 220.1v-5.5M1999.5 219.3v-4.2M1999.6 219.3v-4.3M2005.3 219v-3.5M2002 219v-5M2010.4 219.9v-3.4M2014 219.9v-3.8M2016.1 219.5v-5.2M2018.8 219.5v-2.3M2024.4 219.3v-5.1M2024 219.3v-6.9" stroke="#9a6aa8" stroke-width="0.8" opacity="0.7"/>
<clipPath id="cl8"><path d="M1822.3 358L1822.3 228.9L1829.1 227.2L1835.8 226.5L1842.6 226L1849.4 226.6L1856.1 226L1862.9 225.6L1869.7 224L1876.4 224.3L1883.2 224.6L1890 224L1896.7 222.9L1903.5 222.7L1910.3 222.2L1917 222.7L1923.8 222.3L1930.6 221.4L1937.3 220.6L1944.1 220.7L1950.9 221.5L1957.6 221.2L1964.4 220.3L1971.2 219.8L1977.9 220.1L1984.7 220.2L1991.5 220.1L1998.2 219.3L2005 219L2011.8 219.9L2018.5 219.5L2025.3 219.3L2025.3 358Z"/></clipPath>
<g clip-path="url(#cl8)">
<rect x="1822.3" y="200" width="203" height="158" fill="#000" filter="url(#cel)" opacity="0.5"/>
<rect x="1822.3" y="200" width="203" height="158" fill="#000" filter="url(#celd)" opacity="0.35"/>
<g fill="#50308a" opacity="0.85"><ellipse cx="1984.5" cy="296" rx="6.2" ry="3.1" transform="rotate(36 1984.5 296)"/><ellipse cx="1867.9" cy="345.2" rx="5" ry="3.3" transform="rotate(17 1867.9 345.2)"/><ellipse cx="1970.5" cy="307.7" rx="3.6" ry="3.1" transform="rotate(8 1970.5 307.7)"/><ellipse cx="1904.9" cy="240.1" rx="3.8" ry="4.3" transform="rotate(-22 1904.9 240.1)"/><ellipse cx="1839.7" cy="341" rx="4.6" ry="4.8" transform="rotate(-8 1839.7 341)"/><ellipse cx="1946" cy="310.2" rx="4.8" ry="4.3" transform="rotate(-32 1946 310.2)"/><ellipse cx="1874.6" cy="340.6" rx="4.1" ry="3.8" transform="rotate(-31 1874.6 340.6)"/><ellipse cx="1973.5" cy="275.1" rx="4.6" ry="4.8" transform="rotate(-53 1973.5 275.1)"/><ellipse cx="1871.3" cy="342" rx="4.3" ry="3.7" transform="rotate(-36 1871.3 342)"/><ellipse cx="2001.3" cy="273.5" rx="6.5" ry="4.6" transform="rotate(-11 2001.3 273.5)"/><ellipse cx="1868.1" cy="265" rx="5.8" ry="4.7" transform="rotate(41 1868.1 265)"/><ellipse cx="1867.9" cy="263.7" rx="4.2" ry="3.3" transform="rotate(-13 1867.9 263.7)"/><ellipse cx="1924.4" cy="311.3" rx="3.7" ry="3.4" transform="rotate(-10 1924.4 311.3)"/><ellipse cx="1846.1" cy="272.5" rx="4.1" ry="4.9" transform="rotate(-2 1846.1 272.5)"/><ellipse cx="1850.5" cy="317.3" rx="6.4" ry="4.6" transform="rotate(-16 1850.5 317.3)"/><ellipse cx="1953.9" cy="281.7" rx="4.7" ry="3.6" transform="rotate(-33 1953.9 281.7)"/><ellipse cx="1985.4" cy="294.3" rx="6.1" ry="4.3" transform="rotate(36 1985.4 294.3)"/><ellipse cx="1961.5" cy="268.2" rx="4.2" ry="3.5" transform="rotate(45 1961.5 268.2)"/><ellipse cx="1984.8" cy="343" rx="6" ry="4.6" transform="rotate(49 1984.8 343)"/><ellipse cx="1910.8" cy="327.6" rx="4" ry="4.3" transform="rotate(-6 1910.8 327.6)"/><ellipse cx="2018.4" cy="340.6" rx="4" ry="4.5" transform="rotate(-55 2018.4 340.6)"/><ellipse cx="1989.5" cy="241.1" rx="5.2" ry="3.8" transform="rotate(-15 1989.5 241.1)"/><ellipse cx="2002.2" cy="321.8" rx="4.1" ry="4.1" transform="rotate(14 2002.2 321.8)"/><ellipse cx="1936.3" cy="238" rx="3.9" ry="3.7" transform="rotate(-17 1936.3 238)"/><ellipse cx="1870.5" cy="317.8" rx="6.4" ry="3.9" transform="rotate(-39 1870.5 317.8)"/><ellipse cx="1953.5" cy="326.9" rx="5.5" ry="4.3" transform="rotate(5 1953.5 326.9)"/><ellipse cx="1998.9" cy="254.3" rx="4" ry="4" transform="rotate(-60 1998.9 254.3)"/><ellipse cx="1941.4" cy="326.1" rx="4.4" ry="4.9" transform="rotate(-51 1941.4 326.1)"/><ellipse cx="1993.7" cy="292.4" rx="3.7" ry="3" transform="rotate(15 1993.7 292.4)"/><ellipse cx="1952.3" cy="287.4" rx="4.8" ry="3.7" transform="rotate(-7 1952.3 287.4)"/><ellipse cx="1918.5" cy="268" rx="6.2" ry="3.4" transform="rotate(-39 1918.5 268)"/><ellipse cx="2018.7" cy="338.3" rx="4.7" ry="4.5" transform="rotate(8 2018.7 338.3)"/><ellipse cx="1916.9" cy="333" rx="6" ry="3.4" transform="rotate(9 1916.9 333)"/><ellipse cx="2006.2" cy="238.8" rx="3.5" ry="4" transform="rotate(-21 2006.2 238.8)"/><ellipse cx="1908.1" cy="294.1" rx="4.9" ry="4.8" transform="rotate(-24 1908.1 294.1)"/><ellipse cx="2008.7" cy="276.5" rx="4.4" ry="4.3" transform="rotate(-23 2008.7 276.5)"/><ellipse cx="1903.6" cy="322" rx="3.5" ry="4.5" transform="rotate(-37 1903.6 322)"/><ellipse cx="1971.3" cy="282" rx="4.2" ry="4.1" transform="rotate(-28 1971.3 282)"/><ellipse cx="1989" cy="306.3" rx="4.4" ry="4.6" transform="rotate(-25 1989 306.3)"/><ellipse cx="1945.6" cy="252.3" rx="4.7" ry="4" transform="rotate(-28 1945.6 252.3)"/><ellipse cx="1887.4" cy="291.6" rx="6.4" ry="3.9" transform="rotate(53 1887.4 291.6)"/><ellipse cx="1990.2" cy="247.6" rx="4.7" ry="3.4" transform="rotate(-13 1990.2 247.6)"/><ellipse cx="1934.5" cy="262.5" rx="3.8" ry="3.8" transform="rotate(46 1934.5 262.5)"/><ellipse cx="1841.9" cy="296.8" rx="5.7" ry="3.6" transform="rotate(-28 1841.9 296.8)"/><ellipse cx="1895.7" cy="258.1" rx="6" ry="3.2" transform="rotate(-40 1895.7 258.1)"/><ellipse cx="1972.7" cy="275.6" rx="5.7" ry="4.5" transform="rotate(-27 1972.7 275.6)"/><ellipse cx="1975.9" cy="348.5" rx="5.2" ry="4.3" transform="rotate(-44 1975.9 348.5)"/><ellipse cx="1887.8" cy="260.1" rx="5.7" ry="4.6" transform="rotate(-23 1887.8 260.1)"/><ellipse cx="1845.3" cy="281.8" rx="5.4" ry="3.7" transform="rotate(-36 1845.3 281.8)"/><ellipse cx="2018" cy="330" rx="6.2" ry="4.2" transform="rotate(38 2018 330)"/><ellipse cx="2015.4" cy="239.8" rx="5.2" ry="3.4" transform="rotate(30 2015.4 239.8)"/><ellipse cx="1983.7" cy="263.7" rx="5.7" ry="3.7" transform="rotate(14 1983.7 263.7)"/><ellipse cx="1960.1" cy="344.2" rx="6.1" ry="3.9" transform="rotate(18 1960.1 344.2)"/><ellipse cx="1962.2" cy="257.9" rx="3.8" ry="4.4" transform="rotate(-34 1962.2 257.9)"/><ellipse cx="1973.9" cy="297.4" rx="5.4" ry="4.5" transform="rotate(48 1973.9 297.4)"/><ellipse cx="1937.9" cy="279.6" rx="6.1" ry="3.7" transform="rotate(11 1937.9 279.6)"/><ellipse cx="1984.6" cy="330.4" rx="6" ry="5" transform="rotate(48 1984.6 330.4)"/><ellipse cx="2023.2" cy="295.3" rx="4.6" ry="4.5" transform="rotate(-1 2023.2 295.3)"/><ellipse cx="1950.2" cy="239.7" rx="3.6" ry="3.9" transform="rotate(56 1950.2 239.7)"/><ellipse cx="1982.2" cy="341.6" rx="4.6" ry="4" transform="rotate(52 1982.2 341.6)"/><ellipse cx="1841.5" cy="242.1" rx="5.1" ry="4" transform="rotate(1 1841.5 242.1)"/><ellipse cx="1997.6" cy="256.8" rx="6.1" ry="3.5" transform="rotate(17 1997.6 256.8)"/><ellipse cx="1965.8" cy="253.1" rx="6.3" ry="4.9" transform="rotate(4 1965.8 253.1)"/><ellipse cx="2019.2" cy="235.6" rx="5.4" ry="4.3" transform="rotate(21 2019.2 235.6)"/><ellipse cx="1863.2" cy="254.3" rx="5.9" ry="3.5" transform="rotate(45 1863.2 254.3)"/><ellipse cx="1835.7" cy="252.4" rx="5.4" ry="4.1" transform="rotate(-29 1835.7 252.4)"/><ellipse cx="1986.1" cy="236.4" rx="6.3" ry="4.8" transform="rotate(29 1986.1 236.4)"/><ellipse cx="2011.7" cy="327.2" rx="4.7" ry="3.5" transform="rotate(54 2011.7 327.2)"/><ellipse cx="1907.6" cy="295.2" rx="5.6" ry="4.4" transform="rotate(49 1907.6 295.2)"/><ellipse cx="1963.1" cy="310.3" rx="5" ry="4.5" transform="rotate(-36 1963.1 310.3)"/><ellipse cx="1875.6" cy="344.5" rx="6" ry="4.4" transform="rotate(-13 1875.6 344.5)"/><ellipse cx="1856.5" cy="246.8" rx="6.3" ry="4.9" transform="rotate(24 1856.5 246.8)"/><ellipse cx="1950.1" cy="238.9" rx="4.7" ry="4.4" transform="rotate(-28 1950.1 238.9)"/><ellipse cx="1895.6" cy="332.6" rx="6.2" ry="3.3" transform="rotate(-18 1895.6 332.6)"/><ellipse cx="1898.6" cy="259" rx="4.5" ry="4" transform="rotate(22 1898.6 259)"/><ellipse cx="2004.2" cy="326.8" rx="3.5" ry="3.1" transform="rotate(-56 2004.2 326.8)"/><ellipse cx="1935.3" cy="308.9" rx="4.6" ry="4.7" transform="rotate(59 1935.3 308.9)"/><ellipse cx="1935.4" cy="306.8" rx="4.2" ry="4.6" transform="rotate(-43 1935.4 306.8)"/><ellipse cx="1850.2" cy="309.5" rx="6" ry="3.6" transform="rotate(-35 1850.2 309.5)"/><ellipse cx="1883.6" cy="257.2" rx="5.3" ry="4.5" transform="rotate(17 1883.6 257.2)"/><ellipse cx="1930.9" cy="300.5" rx="3.8" ry="4.1" transform="rotate(-45 1930.9 300.5)"/><ellipse cx="1877.5" cy="262.9" rx="6.5" ry="3.2" transform="rotate(23 1877.5 262.9)"/><ellipse cx="1947.9" cy="284.6" rx="3.6" ry="4.7" transform="rotate(-19 1947.9 284.6)"/><ellipse cx="1870.9" cy="287.4" rx="6.2" ry="4.9" transform="rotate(0 1870.9 287.4)"/><ellipse cx="1905.7" cy="325.1" rx="6" ry="3.4" transform="rotate(49 1905.7 325.1)"/><ellipse cx="2019.1" cy="247.5" rx="5.5" ry="3.5" transform="rotate(-1 2019.1 247.5)"/><ellipse cx="1850.2" cy="348.5" rx="3.9" ry="4.8" transform="rotate(-35 1850.2 348.5)"/><ellipse cx="1855.9" cy="278.9" rx="4.1" ry="5" transform="rotate(55 1855.9 278.9)"/><ellipse cx="1997.1" cy="271" rx="6.4" ry="4.5" transform="rotate(-49 1997.1 271)"/><ellipse cx="1875.9" cy="298.7" rx="4" ry="3.8" transform="rotate(0 1875.9 298.7)"/><ellipse cx="1960.7" cy="306.7" rx="4.3" ry="3" transform="rotate(-57 1960.7 306.7)"/><ellipse cx="2012.9" cy="250" rx="4.5" ry="3.1" transform="rotate(-28 2012.9 250)"/><ellipse cx="1903.8" cy="300.5" rx="4.5" ry="3.5" transform="rotate(-15 1903.8 300.5)"/><ellipse cx="1981.8" cy="269.3" rx="4.5" ry="4" transform="rotate(-47 1981.8 269.3)"/><ellipse cx="1969.8" cy="245.8" rx="4.5" ry="3.8" transform="rotate(-28 1969.8 245.8)"/><ellipse cx="1874.7" cy="336.6" rx="4.6" ry="3.8" transform="rotate(-5 1874.7 336.6)"/><ellipse cx="1990.8" cy="261.5" rx="6" ry="4.9" transform="rotate(-4 1990.8 261.5)"/><ellipse cx="1876.3" cy="259.5" rx="5.9" ry="3.6" transform="rotate(-26 1876.3 259.5)"/><ellipse cx="1838.1" cy="311.4" rx="6.3" ry="4.8" transform="rotate(-33 1838.1 311.4)"/><ellipse cx="1941.8" cy="288.6" rx="6.4" ry="4.3" transform="rotate(40 1941.8 288.6)"/><ellipse cx="1962" cy="319" rx="5.6" ry="3.3" transform="rotate(54 1962 319)"/><ellipse cx="1873.6" cy="247.6" rx="6.3" ry="5" transform="rotate(-51 1873.6 247.6)"/><ellipse cx="1854" cy="256.1" rx="4.8" ry="3.8" transform="rotate(12 1854 256.1)"/><ellipse cx="1862" cy="250.3" rx="5.4" ry="4.6" transform="rotate(15 1862 250.3)"/><ellipse cx="1885.1" cy="274.6" rx="5.1" ry="4.2" transform="rotate(-53 1885.1 274.6)"/><ellipse cx="1905.6" cy="339.3" rx="4.7" ry="3.6" transform="rotate(-2 1905.6 339.3)"/><ellipse cx="1993.2" cy="340.3" rx="4" ry="3.4" transform="rotate(32 1993.2 340.3)"/><ellipse cx="1916.2" cy="351.2" rx="5.4" ry="4.2" transform="rotate(41 1916.2 351.2)"/><ellipse cx="2023.4" cy="257.2" rx="5.2" ry="4.3" transform="rotate(-21 2023.4 257.2)"/><ellipse cx="1986.7" cy="332.8" rx="4.7" ry="3.5" transform="rotate(7 1986.7 332.8)"/><ellipse cx="1934.5" cy="270" rx="3.9" ry="4.6" transform="rotate(57 1934.5 270)"/><ellipse cx="1994.5" cy="303.5" rx="4.7" ry="4.3" transform="rotate(17 1994.5 303.5)"/><ellipse cx="1939.7" cy="329.8" rx="6.1" ry="4.5" transform="rotate(57 1939.7 329.8)"/><ellipse cx="1921.1" cy="259.1" rx="5.6" ry="4.7" transform="rotate(15 1921.1 259.1)"/><ellipse cx="1853.2" cy="254.9" rx="5.4" ry="4.7" transform="rotate(55 1853.2 254.9)"/></g>
<g fill="#f4eef4" opacity="0.8"><ellipse cx="1837.8" cy="283.6" rx="2.8" ry="9"/><ellipse cx="1895.7" cy="236.3" rx="4.3" ry="5.5"/><ellipse cx="1907.4" cy="240.6" rx="3" ry="4.7"/><ellipse cx="1874.5" cy="280.5" rx="2.9" ry="7.3"/><ellipse cx="2005.2" cy="280.3" rx="2.1" ry="8.8"/><ellipse cx="1862.5" cy="259.8" rx="3.6" ry="7.1"/><ellipse cx="1891.7" cy="268.2" rx="3.9" ry="6.3"/><ellipse cx="1879.8" cy="265.5" rx="3.2" ry="5.5"/><ellipse cx="1944.2" cy="274.6" rx="3.2" ry="7.5"/><ellipse cx="1987.2" cy="286.7" rx="3" ry="8.7"/><ellipse cx="1843.5" cy="300.7" rx="3.3" ry="6"/><ellipse cx="1993.5" cy="287.3" rx="4.9" ry="8.4"/><ellipse cx="1845.9" cy="273.8" rx="4.3" ry="4.4"/><ellipse cx="1932.4" cy="317.4" rx="2.7" ry="4.6"/></g>
</g>
<rect x="1822.3" y="358" width="203" height="22" fill="#e2e2de"/>
<path d="M1881.1 359v10.5M1880.3 359v11.6M1991.5 359v12.7M1941.9 359v7.4M1835.5 359v18.4M1892.8 359v18.3M1890.4 359v14.3M1956.6 359v7.2M1836.7 359v11.7M1848.1 359v9.8M1862.1 359v10.1M1914.9 359v10M1890.4 359v12.3M1960.9 359v6.5M2024.8 359v11.6M2009.7 359v6.1M1834 359v7.3M2007.6 359v11.4M1994.1 359v15M1840.1 359v10.7M1889.6 359v11.9M1975.3 359v7.1M2010.4 359v12.2M1896.6 359v15.1M1878.4 359v15.3M1906.7 359v12.2M1860.7 359v8.6M1997.2 359v13.5M1908 359v16.1M2007.5 359v8.1M2024.9 359v6.2M1946.9 359v9.4M1873.5 359v12.4M1945 359v11.7M1967.2 359v18.4M1856.6 359v9.1M1946 359v11.3M1886.3 359v12.6M1963.8 359v17.8M2013.3 359v16.7M1892.7 359v17.5M1966.4 359v8.3M2015.8 359v9.2M1960.8 359v15M2006.6 359v14.7" stroke="#555" stroke-width="0.7" opacity="0.55"/>
<path d="M1822.3 377h203" stroke="#6a6a66" stroke-width="1.8"/>
<path d="M1822.3 359h203" stroke="#77707a" stroke-width="1.6"/>
<rect x="1822.3" y="378" width="203" height="10" fill="#e2e2e2"/>
</g>
<rect x="1820.3" y="180" width="207" height="207" fill="none" stroke="#ff5f5f" stroke-width="4"/>
<text x="1836.8" y="210.1" font-size="24">23</text>
<rect x="187.5" y="193.8" width="8" height="4.4" fill="#000"/>
<rect x="345" y="193.8" width="82.7" height="4.4" fill="#000"/>
<text x="105" y="129.6" font-size="31.4" text-anchor="middle">Basal cell</text>
<text x="105" y="166.5" font-size="31.4" text-anchor="middle">colonies</text>
<text x="332.6" y="126" font-size="31.4" text-anchor="middle">Replication to</text>
<text x="332.6" y="162.5" font-size="31.4" text-anchor="middle">formmonolayer</text>
<text x="560" y="128.8" font-size="31.4" text-anchor="middle">Completed</text>
<text x="560" y="165.7" font-size="31.4" text-anchor="middle">monolayer</text>
<text x="674" y="72.5" font-size="33.5" text-anchor="middle">Airlift</text>
<path d="M674 82V147" stroke="#000" stroke-width="8.5"/><path d="M662 145H686L674 168Z" fill="#000"/>
<text x="787" y="158.5" font-size="31.4" text-anchor="middle">Polarization</text>
<text x="1014" y="89" font-size="31.4" text-anchor="middle">Early</text>
<text x="1014" y="126.5" font-size="31.4" text-anchor="middle">secretory &amp;</text>
<text x="1014" y="163" font-size="31.4" text-anchor="middle">pre-ciliation</text>
<text x="1577.7" y="38.3" font-size="31.4" text-anchor="middle">Secretory maintenance</text>
<path d="M1140 84V78Q1140 60 1158 60H1998Q2016 60 2016 78V84" fill="none" stroke="#000" stroke-width="8"/>
<text x="1468.5" y="122.4" font-size="31.4" text-anchor="middle">Early ciliating</text>
<text x="1468.5" y="158.2" font-size="31.4" text-anchor="middle">phase</text>
<text x="1696" y="122.4" font-size="31.4" text-anchor="middle">Later ciliation</text>
<text x="1696" y="158.2" font-size="31.4" text-anchor="middle">phase</text>
<text x="1923" y="122.4" font-size="31.4" text-anchor="middle">Mucociliary</text>
<text x="1923" y="158.2" font-size="31.4" text-anchor="middle">epithelium</text>
<path d="M105 406.6L113.7 423.5H107.9V435.2H102.1V423.5H96.3Z" fill="#000000"/>
<text x="105" y="461.3" font-size="23.5" text-anchor="middle">–5</text>
<path d="M333.4 406.6L342.1 423.5H336.3V435.2H330.5V423.5H324.7Z" fill="#666666"/>
<text x="333.4" y="461.3" font-size="23.5" text-anchor="middle">–2</text>
<path d="M560.3 406.6L569 423.5H563.2V435.2H557.4V423.5H551.6Z" fill="#b3b3b3"/>
<text x="560.3" y="461.3" font-size="23.5" text-anchor="middle">0</text>
<path d="M763 406.6L771.7 423.5H765.9V435.2H760.1V423.5H754.3Z" fill="#0000ff"/>
<text x="763" y="461.3" font-size="23.5" text-anchor="middle">1</text>
<path d="M804.7 406.6L813.4 423.5H807.6V435.2H801.8V423.5H796Z" fill="#2020ff"/>
<text x="804.7" y="461.3" font-size="23.5" text-anchor="middle">2</text>
<path d="M996.5 406.6L1005.2 423.5H999.4V435.2H993.6V423.5H987.8Z" fill="#4040ff"/>
<text x="996.5" y="461.3" font-size="23.5" text-anchor="middle">4</text>
<path d="M1029 406.6L1037.7 423.5H1031.9V435.2H1026.1V423.5H1020.3Z" fill="#6060ff"/>
<text x="1029" y="461.3" font-size="23.5" text-anchor="middle">5</text>
<path d="M1200 406.6L1208.7 423.5H1202.9V435.2H1197.1V423.5H1191.3Z" fill="#8080ff"/>
<text x="1200" y="461.3" font-size="23.5" text-anchor="middle">7</text>
<path d="M1292.5 406.6L1301.2 423.5H1295.4V435.2H1289.6V423.5H1283.8Z" fill="#9f9fff"/>
<text x="1292.5" y="461.3" font-size="23.5" text-anchor="middle">9</text>
<path d="M1450.7 406.6L1459.4 423.5H1453.6V435.2H1447.8V423.5H1442Z" fill="#bfbfff"/>
<text x="1450.7" y="461.3" font-size="23.5" text-anchor="middle">11</text>
<path d="M1483.6 406.6L1492.3 423.5H1486.5V435.2H1480.7V423.5H1474.9Z" fill="#dfdfff"/>
<text x="1483.6" y="461.3" font-size="23.5" text-anchor="middle">12</text>
<path d="M1621.7 406.6L1630.4 423.5H1624.6V435.2H1618.8V423.5H1613Z" fill="#ffdfdf"/>
<text x="1621.7" y="461.3" font-size="23.5" text-anchor="middle">14</text>
<path d="M1712.5 406.6L1721.2 423.5H1715.4V435.2H1709.6V423.5H1703.8Z" fill="#ffc2c2"/>
<text x="1712.5" y="461.3" font-size="23.5" text-anchor="middle">16</text>
<path d="M1771 406.6L1779.7 423.5H1773.9V435.2H1768.1V423.5H1762.3Z" fill="#ffa8a8"/>
<text x="1771" y="461.3" font-size="23.5" text-anchor="middle">18</text>
<path d="M1839.6 406.6L1848.3 423.5H1842.5V435.2H1836.7V423.5H1830.9Z" fill="#ff8c8c"/>
<text x="1839.6" y="461.3" font-size="23.5" text-anchor="middle">21</text>
<path d="M1875 406.6L1883.7 423.5H1877.9V435.2H1872.1V423.5H1866.3Z" fill="#ff7070"/>
<text x="1875" y="461.3" font-size="23.5" text-anchor="middle">23</text>
<path d="M1909 406.6L1917.7 423.5H1911.9V435.2H1906.1V423.5H1900.3Z" fill="#ff5555"/>
<text x="1909" y="461.3" font-size="23.5" text-anchor="middle">25</text>
<path d="M1939.8 406.6L1948.5 423.5H1942.7V435.2H1936.9V423.5H1931.1Z" fill="#ff3939"/>
<text x="1939.8" y="461.3" font-size="23.5" text-anchor="middle">28</text>
<path d="M1973.8 406.6L1982.5 423.5H1976.7V435.2H1970.9V423.5H1965.1Z" fill="#ff1c1c"/>
<text x="1973.8" y="461.3" font-size="23.5" text-anchor="middle">30</text>
<path d="M2007.8 406.6L2016.5 423.5H2010.7V435.2H2004.9V423.5H1999.1Z" fill="#ff0000"/>
<text x="2007.8" y="461.3" font-size="23.5" text-anchor="middle">32</text>
<text x="9" y="461.3" font-size="26.5">Day</text>
<text x="0.8" y="546" font-size="43" font-weight="bold">b</text>
<path d="M156 698h0m53 10h0m-58 3h0m44 3h0m-34 -20h0m-19 3h0m53 -12h0m-36 17h0m47 -28h0m-2 21h0m-38 9h0m9 -33h0m-33 28h0m63 1h0m-33 -3h0m-16 -13h0m55 0h0m-29 28h0m33 -6h0m-34 -37h0m-29 3h0m7 39h0m-1 -8h0m9 4h0m-2 -34h0m25 9h0m-14 16h0m16 -13h0m-25 10h0m1 -5h0m11 19h0m15 -13h0m-1 22h0m-13 -9h0m-3 -18h0m-31 0h0m54 -22h0m-46 44h0m28 -38h0m-3 32h0m-35 -13h0m65 7h0m-3 -26h0m-50 38h0m-3 -46h0m23 22h0m-22 2h0m29 28h0m0 -33h0m-27 7h0m49 16h0m-16 -14h0m-41 -6h0m-5 -10h0m32 33h0m5 -20h0m7 -11h0m-18 -9h0m14 21h0m9 -26h0m8 28h0m-6 -20h0m5 -8h0m7 41h0m12 -20h0m-23 -6h0m-4 24h0m-30 -36h0m-10 25h0m52 16h0m-16 -2h0m4 9h0m-20 -40h0m-22 1h0m68 6h0m-51 33h0m-12 -26h0m-1 18h0m3 -4h0m-5 -28h0m34 -3h0m-21 -11h0m24 31h0m-15 24h0m-15 -45h0m24 -7h0m10 14h0m-34 28h0m6 -16h0m53 5h0m-73 -11h0m30 15h0m-31 -16h0m10 -10h0m38 28h0m19 -3h0m-38 -35h0m3 3h0m40 19h0m-72 1h0m73 13h0m-2 1h0m-20 -15h0m-18 -26h0m25 53h0m-47 -15h0m39 17h0m-10 -41h0m-4 8h0m26 -3h0m-33 0h0m-5 15h0m37 -17h0m-55 31h0m28 -42h0m11 51h0m-13 -8h0m-18 -34h0m21 17h0m10 -11h0m-47 4h0m70 -8h0m-56 -2h0m-10 0h0m1 12h0m42 16h0m-31 8h0m51 -39h0m-33 8h0m10 -19h0m-27 36h0m33 17h0m0 -52h0m-46 40h0m38 -24h0m30 21h0m-47 2h0m-9 -35h0m36 18h0m-1 31h0m29 -30h0m-55 -16h0m24 40h0m23 -19h0m3 -14h0m-42 4h0m-1 -19h0m-14 36h0m44 1h0m-62 -6h0m30 -12h0m6 19h0m37 -17h0m-29 -19h0m15 27h0m-30 22h0m30 -34h0m-20 5h0m7 -10h0m-1 26h0m15 -25h0m-36 -3h0m-6 28h0m5 -37h0m17 45h0m14 -27h0m21 22h0m-40 10h0m-4 -53h0m-17 39h0m49 -26h0m-13 1h0m-28 -12h0m3 39h0m-24 -1h0m26 4h0m-2 9h0m48 -22h0m-36 24h0m-4 -39h0m-35 5h0m27 26h0m9 -11h0m20 15h0m-5 -18h0m9 16h0m-45 -38h0m43 12h0m-23 -3h0m-3 18h0m-22 -18h0m55 28h0m11 -5h0m-13 -7h0m-34 -11h0m-17 -8h0m51 35h0m11 -32h0m-14 25h0m-41 -17h0m1 -20h0m59 26h0m-41 9h0m-32 -19h0m19 -19h0m-1 -3h0m3 11h0m38 24h0m-16 -6h0m3 -11h0m11 30h0m-36 -9h0m36 -36h0m1 29h0m0 -26h0m-37 6h0m-14 32h0m30 3h0m-21 -22h0m28 -10h0m-2 27h0m-7 -5h0m-39 -10h0m54 -27h0m-47 40h0m30 -12h0m40 -8h0m-75 1h0m46 -21h0m-24 6h0m-3 17h0m-3 11h0m6 -22h0m24 4h0m-5 15h0m-9 25h0m11 -11h0m6 -40h0m-18 31h0m-31 0h0m1 -11h0m44 0h0m11 2h0m-5 24h0m-7 -29h0m-13 6h0m-4 7h0m25 -12h0m14 20h0m8 -13h0m-11 -16h0m-16 -2h0m-46 9h0m33 30h0m5 -31h0m8 18h0m-41 0h0m46 9h0m-37 -10h0m53 -9h0m-51 3h0m-11 3h0m47 -8h0m-46 22h0m-7 -26h0m54 22h0m-25 12h0m12 -5h0m28 -28h0m-9 21h0m-45 -37h0m43 -6h0m14 17h0m-41 -5h0m10 21h0m31 -21h0m-71 11h0m4 -1h0m55 -9h0m18 16h0m-43 -9h0m3 -6h0m-12 -3h0m25 43h0m16 -41h0m-28 36h0m-13 -7h0m19 -26h0m-3 8h0m-6 13h0m-16 -9h0m35 -19h0m-43 13h0m31 33h0m-34 -8h0m7 -38h0m18 5h0m-5 28h0m11 -11h0m4 -29h0m-16 42h0m10 11h0m-7 -13h0m11 11h0m13 -13h0m-44 2h0m35 1h0m-32 -39h0m39 31h0m-26 0h0m19 -11h0m-34 7h0m53 -21h0m-24 36h0m5 -47h0m19 39h0m1 -19h0m0 2h0m-32 -1h0m12 28h0m-8 -35h0m3 5h0m-12 0h0m11 -4h0m-4 36h0m5 -40h0m0 32h0m-31 -17h0m-6 19h0m38 -3h0m-6 1h0m17 -26h0m6 16h0m-45 -5h0m-15 2h0m70 16h0m-9 -10h0m-59 2h0m27 -3h0m7 13h0m1 6h0m3 -18h0m-29 -32h0m53 20h0m-36 23h0m-23 -3h0m20 -44h0m6 40h0m27 1h0m-41 -35h0m4 37h0m58 -15h0m-50 11h0m39 -32h0m1 28h0m-5 -23h0m-52 -1h0m37 3h0m-37 6h0m21 -7h0m33 -4h0m-17 33h0m1 -8h0m-48 -19h0m12 14h0m-17 -6h0m23 19h0m52 -18h0m-64 -13h0m7 2h0m63 19h0m-46 22h0m-2 1h0m39 -29h0m-21 9h0m-27 -8h0m15 -11h0m-20 -4h0m25 -14h0m-23 46h0m-19 15h0m25 3h0m-33 34h0m-1 -46h0m17 -3h0m24 55h0m-24 -5h0m-14 -35h0m13 41h0m17 -5h0m3 4h0m-12 -59h0m-9 30h0m-22 -11h0m14 -3h0m3 30h0m-10 -46h0m-18 41h0m66 9h0m-48 -24h0m-7 3h0m12 -34h0m47 25h0m-25 12h0m-24 -17h0m7 -15h0m-9 31h0m12 0h0m1 -20h0m-23 10h0m-1 25h0m10 -45h0m-4 9h0m47 35h0m-42 6h0m44 -44h0m-10 49h0m-48 -31h0m7 -25h0m33 38h0m-7 -2h0m-14 19h0m-9 -42h0m46 43h0m-23 -49h0m-15 -8h0m23 -2h0m-9 52h0m-4 -21h0m19 -19h0m-32 27h0m1 -14h0m-7 22h0m21 -32h0m-19 -5h0m20 -9h0m26 26h0m-21 -25h0m-20 22h0m14 38h0m-34 -33h0m68 -9h0m-20 11h0m3 17h0m-31 -46h0m44 34h0m-11 12h0m-42 10h0m54 -4h0m-47 -46h0m-2 24h0m-9 26h0m44 -48h0m-30 41h0m14 -5h0m-8 24h0m39 -33h0m-33 -16h0m-8 -2h0m-22 32h0m36 -29h0m-19 39h0m21 0h0m20 -23h0m-12 24h0m-35 -23h0m6 21h0m-18 -15h0m60 -3h0m0 -5h0m-40 -33h0m-1 37h0m19 -32h0m13 -5h0m-36 51h0m5 -19h0m16 -41h0m13 56h0m-10 -38h0m-16 30h0m10 27h0m-32 -31h0m19 -25h0m22 3h0m6 -18h0m-1 36h0m0 22h0m-30 3h0m50 -14h0m-64 -3h0m18 -7h0m-15 -8h0m6 35h0m22 -10h0m-11 -27h0m19 9h0m25 6h0m-35 -48h0m10 64h0m2 -6h0m-10 6h0m-15 -33h0m16 34h0m-16 -49h0m-4 0h0m8 30h0m44 -24h0m-33 -15h0m18 55h0m-15 13h0m2 -30h0m-13 -36h0m15 53h0m-37 -14h0m60 12h0m-24 -28h0m-7 -10h0m-11 -3h0m2 -8h0m-13 56h0m34 4h0m16 -29h0m-42 6h0m37 -25h0m2 21h0m-21 8h0m-40 -19h0m67 22h0m-40 14h0m9 -50h0m6 50h0m-13 -9h0m1 11h0m8 -25h0m8 -36h0m17 20h0m-58 -12h0m30 51h0m2 5h0m-8 -53h0m2 -11h0m14 8h0m16 51h0m-13 7h0m-22 -20h0m-17 -3h0m31 -24h0m20 25h0m-35 23h0m22 -28h0m0 -42h0m-18 4h0m20 -9h0m-23 60h0m-24 -29h0m56 -14h0m12 25h0m-23 -40h0m-8 3h0m-24 41h0m25 -40h0m-2 -5h0m13 69h0m15 -39h0m-6 -4h0m-24 22h0m12 -16h0m-41 -5h0m5 7h0m29 -31h0m19 18h0m-25 40h0m13 -12h0m7 -44h0m-38 38h0m-10 -17h0m17 12h0m39 -29h0m-41 21h0m6 -21h0m12 -9h0m14 36h0m-46 -12h0m9 -4h0m49 40h0m-23 -11h0m8 -6h0m-39 8h0m29 -48h0m-4 63h0m10 -42h0m13 24h0m-29 -4h0m9 25h0m17 -39h0m-2 40h0m-5 -54h0m-23 19h0m8 5h0m-18 7h0m32 4h0m-42 -40h0m12 -6h0m-5 40h0m27 -29h0m-4 10h0m-7 -3h0m6 -21h0m-8 38h0m27 25h0m-42 -33h0m-8 12h0m49 17h0m-22 -37h0m-27 24h0m15 -45h0m21 45h0m-1 27h0m24 -19h0m-3 -37h0m-37 -14h0m9 39h0m20 -2h0m-36 27h0m26 -69h0m7 25h0m0 37h0m6 -37h0m-15 28h0m28 -9h0m-12 16h0m-11 -23h0m-8 32h0m-1 -37h0m-13 6h0m18 -27h0m0 29h0m-6 -33h0m21 54h0m-30 -7h0m38 -31h0m-30 2h0m0 -1h0m-15 -10h0m12 27h0m-19 -30h0m-9 41h0m33 -19h0m-17 -29h0m38 13h0m-3 -15h0m-1 4h0m12 51h0m5 -16h0m-61 20h0m57 -37h0m-59 -12h0m18 18h0m26 -26h0m-37 7h0m38 41h0m-42 -12h0m34 -14h0m-2 -11h0m23 34h0m-2 -13h0m-64 -5h0m31 25h0m-11 -12h0m47 -20h0m-1 -12h0m-44 43h0m-1 -38h0m23 23h0m-3 -23h0m27 36h0m-40 -56h0m-3 65h0m31 4h0m-9 -15h0m-31 -25h0m0 -27h0m-29 5h0m8 2h0m-4 -10h0m-10 11h0m26 10h0m-3 -29h0m1 5h0m9 9h0m-33 5h0m36 8h0m11 -13h0m5 6h0m-14 14h0m-17 -28h0m18 -1h0m9 6h0m-34 1h0m7 27h0m17 -19h0m-14 -6h0m-12 -8h0m27 22h0m-14 -19h0m19 4h0m-13 16h0m-26 -23h0m3 20h0m2 -19h0m23 17h0m14 -19h0m-26 24h0m-9 -24h0m15 32h0m7 -5h0m6 -17h0m-16 21h0m24 -23h0m-16 -1h0m-20 2h0m2 0h0m15 5h0m-1 -18h0m-14 -3h0m-2 14h0m24 -14h0m-28 22h0m-3 12h0m20 -21h0m-16 7h0m-4 -13h0m35 30h0m-7 2h0m2 -2h0m-5 -29h0m23 11h0m-7 -2h0m-45 -3h0m28 -8h0m16 29h0m-31 0h0m33 -22h0m-25 15h0m13 4h0m-18 -9h0m10 -16h0m19 12h0m-6 3h0m-16 -3h0m11 -11h0m0 -6h0m5 11h0m-30 -8h0m25 4h0m-27 20h0m4 -16h0m5 5h0m-15 9h0m4 -2h0m12 -24h0m21 35h0m-2 -33h0m-16 4h0m9 24h0m-13 -2h0m18 -22h0m-29 21h0m34 -25h0m-37 30h0m46 -14h0m-40 11h0m31 -11h0m-31 12h0m3 -5h0m25 12h0m-9 -28h0m13 17h0m-13 -17h0m-16 10h0m29 -15h0m-25 8h0m24 3h0m-21 4h0m10 21h0m20 -31h0m-11 2h0m1 -10h0m-25 12h0m10 17h0m22 -9h0m-16 -11h0m-19 -9h0m-12 26h0m16 -9h0m14 -13h0m-2 28h0m26 -11h0m-5 9h0m-16 -12h0m0 21h0m15 -24h0m-3 6h0m-28 -16h0m-17 10h0m16 3h0m28 0h0m-26 -3h0m-5 -6h0m26 -8h0m-1 -1h0m-8 10h0m9 12h0m4 -17h0m-29 12h0m16 -3h0m18 -7h0m-18 13h0m-26 9h0m0 -12h0m8 -7h0m28 3h0m3 8h0m-38 -15h0m0 13h0m28 5h0m-15 -21h0m6 3h0m22 26h0m-11 -9h0m-29 -4h0m24 -2h0m3 -9h0m-19 -6h0m-5 26h0m43 -16h0m-37 7h0m23 10h0m-19 -15h0m26 14h0m-13 -15h0m-33 5h0m25 -15h0m14 2h0m-8 0h0m1 0h0m1 -7h0m-24 33h0m35 -11h0m-18 18h0m-9 -31h0m7 17h0m16 -7h0m-20 14h0m2 -27h0m13 20h0m-31 -1h0m27 -15h0m15 1h0m-1 16h0m-10 -24h0m18 12h0m-3 8h0m-14 -19h0m13 21h0m-31 -19h0m37 12h0m-6 12h0m-22 -19h0m8 15h0m-24 -13h0m1 24h0m5 -20h0m11 -8h0m9 32h0m-17 -3h0m22 -7h0m-25 -6h0m14 -3h0m12 0h0m-5 98h0m25 -31h0m-13 20h0m-15 -12h0m25 -10h0m2 27h0m-18 1h0m1 -1h0m3 -28h0m11 14h0m9 6h0m-29 -5h0m29 4h0m-22 21h0m-2 -14h0m6 7h0m-11 -5h0m5 2h0m-10 -11h0m18 9h0m-16 6h0m20 9h0m-11 -20h0m3 -21h0m17 20h0m0 -3h0m-7 9h0m-2 -27h0m-9 40h0m15 -17h0m-5 -26h0m-22 12h0m16 29h0m-14 -4h0m26 -31h0m-16 -7h0m1 46h0m6 -1h0m-17 -31h0m24 17h0m-7 10h0m4 -39h0m-9 -1h0m17 24h0m-32 4h0m8 2h0m9 -18h0m-18 20h0m22 13h0m5 -38h0m-2 31h0m-8 -19h0m-2 26h0m-6 -34h0m18 27h0m-2 -23h0m-12 13h0m-1 -24h0m7 -4h0m-21 26h0m3 -10h0m31 18h0m-30 -18h0m6 2h0m22 -6h0m-21 25h0m15 -8h0m-15 0h0m12 -18h0m2 10h0m10 4h0m-1 -4h0m-28 -6h0m12 -9h0m-3 16h0m13 21h0m-9 -26h0m2 8h0m-3 -3h0m8 21h0m6 -30h0m-28 23h0m13 -28h0m10 28h0m-20 -28h0m8 36h0m21 -7h0m-20 -2h0m22 -6h0m-21 -12h0m-12 -2h0m27 -10h0m0 18h0m-26 9h0m27 -12h0m-23 19h0m17 -16h0m-1 -19h0m13 30h0m-22 -32h0m-17 15h0m36 -13h0m-34 15h0m11 -18h0m7 41h0m17 -23h0m-11 23h0m5 -40h0m-18 -2h0m6 21h0m-1 3h0m16 6h0m-8 -29h0m-3 36h0m7 -27h0m-7 9h0m2 21h0m-9 5h0m1 -43h0m5 7h0m16 18h0m-11 -20h0m-1 0h0m-9 10h0m18 -9h0m-13 13h0m5 22h0m-4 -23h0m11 -16h0m-24 9h0m21 17h0m5 -13h0m-15 -7h0m-7 19h0m-1 11h0m28 -26h0m-19 16h0m4 -21h0m-25 21h0m14 -29h0m15 -2h0m2 31h0m-12 13h0m15 -8h0m-30 -2h0m26 1h0m0 -20h0m-7 -8h0m-10 10h0m9 12h0m-52 -62h0m3 -6h0m-11 -1h0m5 38h0m-2 -41h0m-3 15h0m-1 -8h0m9 -3h0m-3 32h0m14 -25h0m-19 12h0m5 7h0m-6 -12h0m16 0h0m-11 -18h0m11 28h0m-7 -4h0m-6 -20h0m20 10h0m-25 2h0m3 1h0m22 3h0m-7 14h0m-3 -30h0m-3 31h0m-14 -19h0m8 -12h0m-4 7h0m10 -4h0m-9 -2h0m3 35h0m1 -23h0m3 0h0m5 6h0m10 -7h0m-23 -8h0m18 10h0m1 -15h0m4 21h0m-6 3h0m-2 -18h0m-6 27h0m10 -25h0m4 6h0m-12 -17h0m-8 12h0m-7 16h0m17 -11h0m-9 -4h0m13 15h0m-9 -14h0m-3 17h0m6 -8h0m-11 12h0m17 -29h0m-8 3h0m-8 22h0m12 -23h0m-17 5h0m9 17h0m10 -4h0m-11 -24h0m5 37h0m-13 -20h0m13 7h0m-2 -9h0m15 11h0m-16 13h0m-2 -28h0m11 -6h0m-7 -2h0m-1 26h0m-1 -7h0m-5 -4h0m22 -7h0m-10 20h0m-2 -23h0m1 14h0m3 -19h0m5 28h0m-17 -6h0m-3 7h0m8 -17h0m-1 10h0m6 -24h0m1 16h0m-7 -14h0m12 17h0m-8 0h0m3 -21h0m110 30h0m-12 -25h0m12 32h0m-8 -42h0m2 3h0m7 2h0m-6 16h0m-1 2h0m6 2h0m-13 -5h0m-6 -5h0m18 12h0m-12 -14h0m20 23h0m-24 -5h0m8 10h0m-7 -26h0m18 -15h0m15 23h0m-29 2h0m26 7h0m-25 5h0m10 -30h0m-9 -2h0m8 0h0m5 6h0m-10 22h0m-4 0h0m16 3h0m-11 -3h0m-5 -27h0m4 -3h0m6 12h0m-15 -1h0m33 12h0m-25 -20h0m17 -4h0m-2 8h0m10 12h0m-27 9h0m-6 -11h0m4 -15h0m16 -2h0m5 18h0m7 -16h0m-33 23h0m29 -12h0m-9 -12h0m-18 29h0m32 -21h0m-27 10h0m24 11h0m-10 0h0m-22 -19h0m18 -3h0m-7 31h0m18 -29h0m-12 30h0m11 -26h0m-17 -10h0m90 -64h0m2 -3h0m21 1h0m-4 2h0m-12 -10h0m17 11h0m-7 3h0m-19 -7h0m23 -4h0m0 3h0m-7 -8h0m-12 15h0m16 1h0m-12 -5h0m19 0h0m-16 6h0m-1 -17h0m-6 2h0m22 2h0m-17 11h0m-4 -4h0m8 -11h0m1 14h0m0 -2h0m15 -5h0m-24 9h0m13 -10h0m-16 7h0m22 -10h0m-6 0h0m-6 11h0m8 -5h0m-11 -7h0m1 10h0m-2 3h0m3 -16h0m-4 12h0m6 2h0m8 -11h0m-5 3h0m0 -1h0m-5 8h0m17 -5h0m-25 1h0m5 8h0m15 -1h0m-6 -12h0m-5 1h0m6 3h0m7 6h0m0 -3h0m0 -8h0m-11 14h0m-3 -4h0m11 1h0m-18 -5h0m11 3h0m5 -2h0m7 -3h0m-5 8h0m-15 -1h0m9 -2h0m2 -8h0m-2 -2h0m10 3h0m-22 5h0m13 -9h0m1 2h0m3 -1h0m1 14h0m31 6h0m-17 5h0m11 9h0m-1 -18h0m7 19h0m6 -7h0m-4 7h0m1 -5h0m-13 -1h0m-1 2h0m15 -6h0m-2 -7h0m-5 4h0m-4 -6h0m4 17h0m3 2h0m0 -18h0m-5 2h0m5 10h0m-13 1h0m5 7h0m-9 -13h0m0 6h0m5 -2h0m-3 -8h0m11 -4h0m5 6h0m-14 6h0m-1 5h0m16 -14h0m1 9h0m-8 -10h0m10 12h0m-15 8h0m7 -13h0m-7 11h0m7 -8h0m2 3h0m6 -7h0m-16 6h0m-3 4h0m18 -13h0m-3 -2h0m-7 19h0m8 -5h0m0 -11h0m-18 13h0m2 -6h0m11 2h0m-11 0h0m16 -10h0m-1 2h0m-2 15h0m-10 -16h0m9 9h0m-14 -4h0m11 -6h0m-2 15h0m-5 -12h0m9 10h0m-5 3h0m-5 -18h0m5 10h0m4 7h0m-7 -1h0m6 -15h0m-8 11h0m-2 -10h0m8 17h0m-8 -18h0m-70 194h0m-1 0h0m0 3h0m-2 2h0m2 -6h0m-3 3h0m0 3h0m5 -4h0m-2 2h0m0 -5h0m2 6h0m2 -5h0m-4 3h0m3 -3h0m-3 1h0m4 -3h0m-6 1h0m5 5h0m-5 0h0m5 -2h0m0 3h0m-5 -3h0m-1 1h0m2 3h0m72 -49h0m-1 1h0m0 -1h0m2 3h0m-5 -1h0m10 1h0m-7 0h0m3 -1h0m3 -1h0m-5 2h0m1 2h0m2 -4h0m-6 2h0m-1 -1h0m9 -3h0m-9 3h0m1 2h0m4 -6h0m-1 6h0m2 -1h0m-1 -3h0m-4 2h0m9 0h0m-10 -1h0m7 0h0m2 2h0m-2 -1h0m-5 2h0m6 -5h0m-6 3h0m-22 -158h0m4 74h0m-12 79h0m17 66h0m-123 -151h0m27 14h0m87 45h0m-53 36h0m-38 48h0m-109 -61h0m186 -70h0m-95 117h0m29 -197h0m-82 204h0m37 21h0m179 -106h0m-66 -43h0m-75 8h0m79 -40h0m-58 92h0m52 -151h0m-184 86h0" stroke="#ff6600" stroke-width="4.3" stroke-linecap="round" fill="none"/>
<path d="M279 692h0m-27 118h0m-5 -17h0m-3 -41h0m1 111h0m-26 -31h0m22 -54h0m11 54h0m56 18h0m6 -94h0m9 95h0m5 -67h0m-15 -72h0m-124 107h0m117 -83h0m10 78h0m-90 -42h0m9 61h0m13 14h0m61 -94h0m-6 47h0m3 -62h0m-14 68h0m-65 -100h0m23 156h0m-13 -77h0m75 -21h0m-33 -22h0m16 71h0m-52 42h0m-17 -62h0m32 -41h0m84 41h0m-37 -52h0m1 -20h0m20 50h0m-42 87h0m-7 -14h0m18 -111h0m-94 51h0m66 64h0m81 -48h0m-73 39h0m-30 -91h0m14 -16h0m-44 128h0m124 -116h0m-143 41h0m14 -2h0m-3 57h0m-11 2h0m40 -14h0m63 -111h0m-106 104h0m79 31h0m-39 -47h0m96 -50h0m-91 0h0m71 72h0m-103 -1h0m-29 -16h0m123 -17h0m-11 -10h0m34 -30h0m14 95h0m-91 -65h0m-9 81h0m32 -58h0m-14 57h0m40 -62h0m-58 -86h0m-9 120h0m14 -122h0m42 30h0m-42 35h0m1 47h0m53 5h0m-53 -73h0m3 -7h0m32 -32h0m26 122h0m41 -24h0m-33 -75h0m-100 3h0m117 93h0m-86 -136h0m88 115h0m-78 -40h0m-47 -9h0m55 5h0m63 61h0m-39 -57h0m43 -13h0m-28 23h0m-26 -88h0m-20 120h0m85 -39h0m-132 -44h0m48 4h0m-27 -14h0m51 120h0m14 -96h0m-56 0h0m30 53h0m-56 45h0m69 -36h0m-52 -3h0m64 -20h0m-88 62h0m8 -16h0m74 -109h0m40 103h0m-1 23h0m-62 -140h0m47 131h0m-84 -88h0m66 -30h0m-111 28h0m145 74h0m-44 31h0m-101 -91h0m105 17h0m-34 -14h0m-14 -63h0m-47 29h0m64 75h0m-1 -30h0m20 11h0m-69 38h0m73 -73h0m6 106h0m-64 -137h0m43 53h0m50 90h0m-19 -117h0m-26 113h0m50 -88h0m-83 63h0m-15 -90h0m50 39h0m21 -57h0m-73 64h0m66 51h0m-47 -83h0m-17 -3h0m116 63h0m-138 34h0m103 -88h0m-121 6h0m115 86h0m-48 -96h0m7 28h0m85 -51h0m-118 51h0m74 2h0m9 64h0m-4 6h0m48 -104h0m-124 84h0m11 -10h0m81 -53h0m-40 52h0m-64 -99h0m138 24h0m-62 15h0m8 69h0m-85 -42h0m54 17h0m-22 -101h0m24 172h0m19 -52h0m-32 37h0m70 -15h0m-69 -120h0m-6 145h0m-48 -43h0m52 28h0m-18 -49h0m14 20h0m-2 -25h0m-4 -117h0m60 172h0m-48 -107h0m-28 87h0m73 -34h0m24 34h0m-3 -104h0m30 69h0m-99 59h0m32 -108h0m30 53h0m-32 45h0m-27 21h0m39 -147h0m1 81h0m16 -47h0m-13 52h0m-66 -50h0m41 -42h0m-51 40h0m-23 15h0m-14 39h0m78 62h0m39 -100h0m-94 45h0m9 -106h0m17 44h0m96 2h0m-63 62h0m29 5h0m11 -84h0m-125 29h0m55 -33h0m-20 -14h0m62 -23h0m14 26h0m-55 -43h0m80 94h0m-26 -51h0m47 71h0m-34 -76h0m38 55h0m-73 -40h0m-28 10h0m101 43h0m-77 -76h0m-76 18h0m107 77h0m0 -67h0m-104 -16h0m18 64h0m83 -25h0m-16 56h0m23 33h0m1 -110h0m0 95h0m-2 -146h0m-17 159h0m13 -156h0m-107 134h0m39 -91h0m-30 -21h0m13 104h0m13 -51h0m21 -24h0m54 72h0m-5 -62h0m7 -60h0m-18 151h0m-15 -51h0m-71 37h0m78 -134h0m-71 69h0m47 41h0m21 -102h0m23 158h0m-48 -164h0m19 6h0m57 115h0m-120 -79h0m2 -12h0m100 36h0m-51 45h0m1 -34h0m87 -39h0m-73 40h0m33 -35h0m-84 88h0m11 2h0m123 -62h0m-120 32h0m34 5h0m9 5h0m-32 -105h0m-11 25h0m37 108h0m-80 -64h0m64 52h0m51 -125h0m-47 81h0m-43 -60h0m126 0h0m-69 145h0m60 -118h0m-157 31h0m63 -46h0m21 91h0m-14 -117h0m10 -7h0m-59 20h0m110 -1h0m-60 55h0m97 4h0m-40 -32h0m-116 -15h0m47 9h0m-9 -2h0m74 41h0m-45 44h0m72 -12h0m-88 -83h0m40 25h0m-50 -48h0m69 -14h0m-46 108h0m74 -16h0m-79 1h0m26 -3h0m-25 47h0m22 -5h0m33 32h0m-40 -96h0m-56 -35h0m95 -31h0m24 71h0m-54 77h0m37 -90h0m-37 -31h0m-25 41h0m106 -7h0m-102 15h0m50 8h0m21 53h0m-79 2h0m2 -130h0m-24 46h0m31 -15h0m97 48h0m-82 24h0m-47 -53h0m2 -54h0m-1 95h0m64 73h0m-32 -57h0m19 -111h0m-19 0h0m15 143h0m76 -98h0m-58 33h0m-12 68h0m-83 -40h0m83 -55h0m-69 -8h0m34 -30h0m84 40h0m-101 73h0m75 18h0m-95 -27h0m-15 -82h0m129 98h0m40 -37h0m-100 -105h0m59 77h0m-16 -12h0m-49 35h0m-29 -4h0m61 -45h0m61 22h0m-123 73h0m116 -88h0m-87 -36h0m56 113h0m-83 -38h0m133 -14h0m-98 5h0m-42 -15h0m73 -64h0m-40 109h0m-31 -112h0m17 16h0m-22 50h0m38 -7h0m-30 29h0m-7 -62h0m7 62h0m64 -24h0m36 61h0m-20 -92h0m-36 -50h0m79 98h0m-91 -89h0m-41 155h0m-27 -76h0m31 -2h0m46 -69h0m-41 79h0m20 -38h0m35 79h0m20 -31h0m-50 -57h0m65 40h0m24 41h0m-28 -65h0m-54 41h0m-19 -67h0m30 98h0m-24 -122h0m-12 95h0m59 -90h0m-26 113h0m-25 19h0m-28 -126h0m100 100h0m26 -45h0m-114 -30h0m72 36h0m-18 18h0m-27 -102h0m37 145h0m50 -15h0m-121 -18h0m-28 -7h0m45 -32h0m-25 31h0m86 55h0m-57 -151h0m32 98h0m-12 41h0m26 -126h0m-41 -2h0m24 33h0m65 2h0m-14 -32h0m-31 151h0m28 -91h0m-104 -1h0m14 -12h0m37 81h0m-32 -22h0m-42 -73h0m94 36h0m-27 -98h0m7 111h0m1 -41h0m4 -19h0m-31 9h0m112 78h0m-154 -77h0m24 112h0m41 -138h0m10 49h0m-70 11h0m63 -93h0m29 120h0m15 -109h0m-30 82h0m60 -49h0m-39 -15h0m-98 118h0m151 -91h0m-96 30h0m32 77h0m-58 -82h0m80 -40h0m-46 30h0m38 -29h0m29 66h0m-51 -15h0m50 -31h0m-143 30h0m107 -9h0m17 99h0m-80 -36h0m64 -12h0m-65 -126h0m99 52h0m0 6h0m-6 58h0m-39 -123h0m-41 80h0m39 58h0m31 -78h0m-62 29h0m105 28h0m-128 25h0m17 -120h0m80 -5h0m-31 143h0m-61 -96h0m98 67h0m-2 -75h0m-5 40h0m-6 -12h0m-94 -15h0m51 -62h0m-19 50h0m-74 32h0m51 22h0m54 32h0m-20 -16h0m55 1h0m-54 26h0m-37 -129h0m-40 38h0m41 10h0m-39 4h0m129 -3h0m-13 -33h0m-38 88h0m-78 -69h0m136 21h0m-63 95h0m3 -99h0m-41 -51h0m25 25h0m-37 19h0m54 -59h0m-23 111h0m89 -57h0m-139 -9h0m57 71h0m-20 -86h0m24 13h0m46 21h0m-72 -35h0m-20 43h0m17 74h0m-31 -22h0m58 40h0m-21 -122h0m80 -13h0m-104 8h0m88 133h0m49 -69h0m-27 -68h0m-56 84h0m-23 -121h0m78 68h0m8 -5h0m-135 -9h0m117 8h0m-108 79h0m113 -72h0m-53 -10h0m70 62h0m-27 -117h0m0 136h0m53 -56h0m-29 21h0m-51 -109h0m14 117h0m-65 -40h0m25 38h0m78 -86h0m-65 129h0m-5 -148h0m56 62h0m31 52h0m-94 -131h0m43 111h0m-13 -70h0m44 -17h0m1 144h0m10 -133h0m-105 80h0m16 52h0m51 -76h0m-71 50h0m62 29h0m-39 -28h0m71 -82h0m6 31h0m-81 14h0m2 -7h0m-42 -52h0m69 46h0m88 11h0m-66 -97h0m65 74h0m-158 67h0m64 -48h0m34 -11h0m-73 40h0m15 -1h0m42 -49h0m-101 35h0m34 -92h0m35 161h0m-2 -131h0m-37 114h0m74 -157h0m-69 92h0m81 -20h0m-61 6h0m69 -39h0m-115 83h0m66 -57h0m6 89h0m-41 -96h0m2 -50h0m58 117h0m-85 -58h0m118 -5h0m-24 104h0m-105 -70h0m127 -84h0m-120 118h0m125 -31h0m-97 -18h0m17 16h0m73 -30h0m-58 -8h0m29 -57h0m-27 103h0m46 -43h0m7 -51h0m29 125h0m-116 -131h0m95 49h0m-58 18h0m92 1h0m-84 69h0m-66 -99h0m56 43h0m8 21h0m19 -94h0m-83 111h0m28 -96h0m54 -10h0m-23 -5h0m37 97h0m-5 -12h0m1 -62h0m-63 -7h0m67 100h0m0 -9h0m-88 -30h0m87 57h0m17 -80h0m-29 117h0m70 -129h0m-88 13h0m-56 -3h0m39 -19h0m2 -11h0m16 70h0m-23 -14h0m41 5h0m16 4h0m39 -39h0m-55 5h0m-13 -71h0m63 148h0m-99 -90h0m17 -45h0m-64 122h0m58 -17h0m13 -98h0m73 78h0m-113 6h0m48 44h0m-23 -44h0m-45 -36h0m34 47h0m79 -66h0m22 -20h0m-62 6h0m11 5h0m-103 54h0m80 76h0m37 -145h0m4 101h0m-93 -77h0m23 -1h0m91 93h0m-37 13h0m-28 -85h0m66 -48h0m-113 126h0m-29 -72h0m75 -34h0m-30 27h0m10 35h0m0 -51h0m20 -13h0m25 14h0m-56 22h0m18 -27h0m55 133h0m3 -30h0m-1 -141h0m-28 106h0m-40 -5h0m104 -82h0m-55 83h0m-23 -42h0m12 96h0m-36 -110h0m51 -2h0m15 -31h0m-19 -6h0m-52 72h0m-25 -15h0m94 79h0m34 3h0m-63 -88h0m42 42h0m21 -47h0m-56 48h0m-23 -107h0m-70 122h0m46 -69h0m43 -51h0m-16 136h0m54 -135h0m-40 41h0m-7 42h0m-15 -8h0m-25 57h0m64 -49h0m-87 68h0m73 15h0m-69 -106h0m129 -11h0m-11 9h0m-129 -15h0m15 97h0m60 -119h0m-45 47h0m61 -15h0m11 -15h0m-42 -8h0m42 52h0m-79 -72h0m99 69h0m-85 -52h0m44 85h0m-53 -78h0m56 -27h0m-31 93h0m68 73h0m-67 -54h0m31 -82h0m12 133h0m32 -79h0m9 -69h0m-18 56h0m-9 -32h0m-11 -38h0m-35 -13h0m-71 62h0m53 -14h0m27 -29h0m-26 129h0m49 23h0m-36 -124h0m-52 -10h0m145 50h0m-111 26h0m-11 8h0m82 11h0m50 -31h0m-48 43h0m-100 -95h0m146 21h0m-42 63h0m4 41h0m-69 -131h0m18 60h0m31 -2h0m30 -63h0m-24 104h0m-111 -14h0m79 -109h0m12 -8h0m39 65h0m-112 -26h0m105 109h0m3 -37h0m-89 -85h0m-42 35h0m82 116h0m28 -45h0m-42 -30h0m-6 68h0m-18 -36h0m-16 26h0m55 -166h0m-55 101h0m103 -89h0m-117 74h0m48 83h0m97 -125h0m-118 -19h0m90 -19h0m-43 144h0m50 -73h0m-105 -50h0m8 105h0m40 39h0m56 -42h0m23 -24h0m-50 68h0m-53 -16h0m-61 -88h0m21 71h0m147 -27h0m-74 -15h0m3 -10h0m60 19h0m-87 35h0m-39 -126h0m88 122h0m26 -109h0m-14 54h0m-100 -48h0m138 80h0m-47 56h0m-92 -88h0m115 -24h0m8 20h0m-71 -50h0m53 14h0m25 100h0m-160 -60h0m35 12h0m67 73h0m-98 -119h0m31 15h0m134 7h0m-8 52h0m-101 54h0m39 -64h0m2 69h0m-53 -5h0m7 -54h0m102 -57h0m-84 47h0m-58 -18h0m110 65h0m-24 12h0m3 6h0m-63 -114h0m35 55h0m-4 57h0m-1 -91h0m59 7h0m-15 -42h0m48 65h0m-129 7h0m136 -42h0m-47 78h0m44 -45h0m-162 -18h0m22 -77h0m23 104h0m46 24h0m-36 -133h0m-33 33h0m13 113h0m-16 -132h0m89 13h0m-59 44h0m-28 59h0m3 -111h0m9 53h0m66 16h0m-7 -23h0m22 44h0m-35 -87h0m-36 71h0m42 -41h0m-42 16h0m61 -47h0m-50 59h0m28 39h0m7 -111h0m32 -15h0m-126 79h0m139 -25h0m-62 -7h0m53 13h0m-19 98h0m30 -99h0m-47 -53h0m66 45h0m-118 96h0m-36 -98h0m101 14h0m-44 -30h0m19 66h0m-12 52h0m84 -96h0m-90 -18h0m42 52h0m-23 60h0m-32 -82h0m50 55h0m-71 -28h0m12 -97h0m92 114h0m-50 54h0m43 -126h0m16 58h0m-31 8h0m-9 -63h0m-53 -40h0m-23 91h0m90 -53h0m-7 137h0m62 -93h0m-68 -51h0m-57 -2h0m3 114h0m3 -83h0m85 51h0m-71 17h0m-56 -87h0m91 13h0m-53 116h0m78 -73h0m4 12h0m-54 -4h0m-53 -94h0m39 -19h0m15 63h0m55 -27h0m-71 -6h0m-10 -11h0m-10 36h0m-1 -53h0m40 39h0m87 32h0m-62 61h0m-66 -110h0m89 109h0m-25 24h0m42 -102h0m-120 77h0m38 -56h0m27 35h0m-95 -30h0m136 14h0m-94 -37h0m91 15h0m-71 -60h0m-18 -12h0m-9 65h0m33 72h0m30 -109h0m-20 69h0m-2 15h0m-5 -32h0m71 -3h0m-61 -90h0m-7 66h0m63 86h0m-32 -96h0m-31 52h0m-42 -75h0m28 53h0m37 -23h0m74 54h0m-44 10h0m-45 16h0m34 49h0m-43 -133h0m79 101h0m-19 -31h0m-111 -44h0m115 37h0m-32 -79h0m-58 141h0m15 5h0m-4 -114h0m109 11h0m-84 50h0m15 17h0m-25 -34h0m31 -99h0m58 44h0m-27 106h0m35 -55h0m-100 43h0m3 -21h0m17 -45h0m-26 -53h0m24 -37h0m-46 139h0m-17 -8h0m147 -68h0m0 62h0m-4 -17h0m-8 -3h0m-52 -52h0m-97 34h0m59 -51h0m-24 -8h0m61 25h0m-105 26h0m70 54h0m80 22h0m-136 -8h0m86 -13h0m65 -79h0m-71 -38h0m-21 156h0m-31 -80h0m-6 15h0m17 -41h0m93 8h0m-70 101h0m-47 -135h0m-18 54h0m129 -15h0m-41 74h0m-59 -127h0m124 123h0m-118 -66h0m99 -3h0m-66 -36h0m98 71h0m-77 -20h0m-96 -22h0m13 -19h0m121 23h0m-115 -23h0m75 102h0m-76 -26h0m66 -99h0m-70 123h0m100 1h0m-94 -1h0m120 -12h0m-11 -10h0m20 32h0m-106 -71h0m3 89h0m77 4h0m-45 -182h0m-49 42h0m86 -21h0m16 153h0m-91 -127h0m37 135h0m-74 -87h0m1 28h0m27 -64h0m-14 -2h0m91 20h0m-42 -4h0m0 45h0m40 -108h0m7 133h0m-15 -145h0m-37 81h0m21 54h0m3 -132h0m44 134h0m-3 -33h0m-53 78h0m-34 -89h0m-17 -71h0m43 120h0m-56 -92h0m138 36h0m26 7h0m-98 -53h0m-19 145h0m-22 -83h0m72 -71h0m34 11h0m9 30h0m-122 75h0m17 18h0m16 -27h0m26 -53h0m73 -14h0m-141 -7h0m1 56h0m32 -87h0m-45 107h0m33 -69h0m78 111h0m-2 -64h0m-95 23h0m54 49h0m31 -64h0m58 -51h0m-95 -30h0m-1 65h0m77 -19h0m0 55h0m-88 -9h0m95 -108h0m-63 64h0m9 -49h0m8 104h0m-72 -79h0m96 49h0m-33 -18h0m16 -41h0m19 36h0m15 46h0m-18 -9h0m-63 -121h0m-23 35h0m53 105h0m-42 -36h0m73 -35h0m-21 106h0m36 -64h0m-88 -73h0m64 74h0m-114 -61h0m79 116h0m77 -67h0m-120 -92h0m45 26h0m-31 128h0m44 -57h0m61 -34h0m-72 69h0m0 24h0m-31 -45h0m32 23h0m-1 23h0m77 -126h0m-32 73h0m-28 -64h0m-51 27h0m106 26h0m-23 59h0m-58 -88h0m-43 -11h0m52 63h0m-25 53h0m53 -110h0m-32 -10h0m-40 -49h0m124 29h0m-73 133h0m-24 -57h0m46 -84h0m-93 80h0m-20 5h0m111 -112h0m-6 81h0m24 -44h0m-36 -43h0m-75 111h0m44 -103h0m34 176h0m-16 2h0m26 -11h0m-53 -157h0m77 51h0m-47 -22h0m-5 81h0m-35 -109h0m-9 139h0m86 -154h0m-126 92h0m88 45h0m-13 2h0m48 -33h0m-79 33h0m-4 26h0m-29 -59h0m44 -78h0m66 38h0m2 -67h0m-113 42h0m26 109h0m76 -20h0m-72 -81h0m113 64h0m18 2h0m-111 -70h0m59 94h0m-18 -76h0m-15 15h0m-43 -3h0m121 -27h0m-25 96h0m-74 3h0m-36 -67h0m105 -8h0m25 53h0m-123 -84h0m73 29h0m24 76h0m-71 -159h0m17 71h0m-50 102h0m31 -84h0m75 -15h0m-136 42h0m2 7h0m51 -44h0m113 34h0m-51 -90h0m29 93h0m26 -32h0m-9 -3h0m-54 -28h0m33 0h0m-109 -13h0m33 130h0m-29 -119h0m20 -32h0m55 106h0m-18 -49h0m-9 37h0m-66 -23h0m66 72h0m-11 24h0m82 -159h0m-61 36h0m48 57h0m-44 -88h0m53 30h0m-86 -57h0m0 19h0m21 127h0m-20 -132h0m-14 117h0m99 -75h0m-69 5h0m-22 97h0m77 -113h0m-36 -33h0m10 151h0m-6 2h0m64 -67h0m-75 -43h0m64 81h0m-80 33h0m5 -161h0m-13 142h0m14 -31h0m87 11h0m-1 -11h0m-162 -71h0m122 95h0m44 -73h0m1 36h0m-112 53h0m62 19h0m32 -140h0m-67 21h0m26 56h0m29 -2h0m3 14h0m-63 -117h0m4 6h0m-57 6h0m-24 75h0m53 1h0m-15 -40h0m111 92h0m-45 -143h0m-20 72h0m-33 -60h0m34 107h0m11 34h0m77 -81h0m-67 3h0m-25 -82h0m15 23h0m-102 94h0m149 -91h0m-70 41h0m-59 55h0m32 -115h0m79 109h0m-104 27h0m87 -94h0m-67 48h0m-9 -26h0m4 0h0m131 -14h0m-71 80h0m-39 -105h0m-36 81h0m68 61h0m79 -53h0m-141 -80h0m90 135h0m-64 -103h0m-39 53h0m36 -12h0m97 -83h0m-5 101h0m-91 -55h0m-42 61h0m112 12h0m-90 -16h0m69 -64h0m10 111h0m-56 -155h0m18 157h0m-15 -95h0m-47 -23h0m123 53h0m-27 -95h0m-77 123h0m74 33h0m2 5h0m14 -97h0m43 -28h0m-111 39h0m30 3h0m-12 -63h0m59 70h0m5 -85h0m18 71h0m-14 16h0m-96 58h0m-45 -51h0m160 -23h0m-91 76h0m102 -88h0m-78 -45h0m79 90h0m-58 -65h0m-47 34h0m102 -11h0m-100 44h0m-2 16h0m-9 -119h0m-3 67h0m21 62h0m-44 -73h0m36 -13h0m-9 94h0m55 -132h0m-28 20h0m2 -49h0m-33 35h0m33 70h0m-26 -106h0m51 147h0m-9 -33h0m-67 -25h0m71 46h0m-9 -30h0m-57 -46h0m81 25h0m3 22h0m-111 12h0m102 -7h0m-44 -25h0m-22 -15h0m-15 22h0m86 7h0m-58 -84h0m-64 69h0m11 -35h0m44 -20h0m99 11h0m-143 85h0m138 -77h0m-26 121h0m-91 -62h0m89 60h0m-81 -26h0m111 -101h0m13 36h0m-101 17h0m9 86h0m6 -73h0m57 -55h0m-115 67h0m93 57h0m-16 -107h0m-86 16h0m27 31h0m63 -38h0m-16 -46h0m74 65h0m-47 -13h0m-107 32h0m89 -7h0m30 -45h0m-84 54h0m37 -51h0m9 -73h0m31 188h0m56 -102h0m-125 -7h0m117 49h0m-131 -45h0m101 19h0m27 -17h0m-90 -14h0m9 30h0m32 -97h0m-12 35h0m-40 -28h0m31 150h0m17 -48h0m16 -71h0m-10 27h0m-44 50h0m5 -14h0m-38 27h0m40 14h0m57 -72h0m-137 3h0m67 -69h0m-40 36h0m99 78h0m34 12h0m-26 29h0m-113 -66h0m36 -36h0m73 34h0m6 -37h0m-51 -14h0m-61 115h0m29 -6h0m10 -135h0m-24 156h0m56 -156h0m-12 38h0m43 79h0m-9 -130h0m-13 103h0m-34 31h0m89 -55h0m-120 -63h0m101 4h0m18 33h0m-77 121h0m23 -142h0m-32 77h0m83 14h0m-48 -15h0m39 47h0m-81 -91h0m14 15h0m62 -70h0m-64 121h0m17 -115h0m-8 101h0m-33 66h0m28 -102h0m-53 63h0m144 -53h0m-104 51h0m21 -41h0m12 -22h0m3 -5h0m26 92h0m-77 -12h0m-52 -68h0m154 38h0m-116 24h0m54 -101h0m0 -2h0m49 127h0m-84 12h0m23 -26h0m-26 -148h0m86 145h0m-5 -68h0m-17 35h0m-109 -46h0m52 -78h0m112 62h0m-127 -7h0m55 19h0m-65 9h0m55 37h0m-84 21h0m40 -82h0m-43 17h0m92 -31h0m-96 25h0m39 71h0m-36 -56h0m13 -1h0m151 15h0m-92 19h0m-12 -37h0m11 -45h0m-64 99h0m75 -136h0m-76 93h0m29 59h0m50 -35h0m25 -114h0m40 54h0m-75 -40h0m25 168h0m-28 -137h0m-60 44h0m140 -35h0m12 41h0m-76 -33h0m-81 48h0m131 -93h0m-111 26h0m95 51h0m-70 -91h0m3 82h0m32 55h0m58 16h0m-118 -18h0m8 -68h0m-33 34h0m156 -3h0m-55 19h0m-38 -72h0m-60 18h0m75 -64h0m-18 104h0m19 58h0m26 -153h0m-13 137h0m11 -47h0m-61 38h0m-45 -18h0m105 54h0m21 -96h0m-31 104h0m44 -34h0m-80 -103h0m56 87h0m-37 0h0m-43 -8h0m42 26h0m-20 -103h0m83 116h0m-105 -141h0m98 116h0m-127 -94h0m154 36h0m-54 -84h0m58 65h0m-149 7h0m112 93h0m-98 -6h0m69 -150h0m45 155h0m-86 -119h0m4 104h0m64 -79h0m-92 103h0m14 7h0m29 -19h0m-47 -82h0m88 5h0m-120 -14h0m84 -57h0m-86 69h0m153 53h0m-119 -77h0m-10 -11h0m-5 -6h0m46 142h0m19 -30h0m-25 5h0m119 -44h0m-53 41h0m-54 27h0m-47 -93h0m137 -42h0m-78 23h0m4 25h0m-3 -29h0m-51 52h0m110 -5h0m-88 -108h0m10 -6h0m6 66h0m69 -43h0m-37 3h0m27 -11h0m14 98h0m27 -17h0m-86 -4h0m-48 -34h0m13 0h0m34 88h0m-10 2h0m59 -97h0m-95 3h0m117 24h0m-45 101h0m-92 -130h0m-1 -11h0m146 77h0m-106 -55h0m-19 87h0m-3 -23h0m73 17h0m-62 -77h0m24 -10h0m73 -4h0m-40 24h0m54 13h0m-9 -1h0m-60 2h0m-7 60h0m-79 -77h0m149 63h0m-82 -48h0m-3 81h0m-51 -90h0m75 -18h0m54 61h0m-24 -56h0m36 49h0m-149 -11h0m92 42h0m24 -39h0m-67 -4h0m29 73h0m26 -65h0m9 -78h0m-28 155h0m73 -123h0m-133 -19h0m52 60h0m62 16h0m-28 -63h0m23 84h0m-45 -83h0m-39 31h0m-53 34h0m162 19h0m-101 -31h0m108 -6h0m-81 -35h0m-16 -30h0m74 131h0m-149 -81h0m116 68h0m-45 -143h0m39 138h0m19 24h0m-51 -26h0m52 -63h0m-26 -27h0m-75 80h0m79 -117h0m-75 145h0m69 -38h0m53 -89h0m21 76h0m-66 -105h0m9 75h0m1 28h0m-14 -43h0m-7 -34h0m67 80h0m-110 -10h0m29 54h0m-10 -53h0m-42 42h0m33 -37h0m105 -14h0m-92 73h0m0 -36h0m-35 -109h0m27 11h0m18 -16h0m-45 15h0m83 25h0m-94 10h0m24 104h0m115 -59h0m-95 -114h0m-52 62h0m108 109h0m-78 -83h0m120 -31h0m-101 21h0m-17 101h0m61 -171h0m-74 121h0m126 -30h0m-2 39h0m-43 -57h0m26 55h0m-61 -52h0m73 23h0m-94 -5h0m5 69h0m7 -66h0m57 20h0m-119 20h0m73 -109h0m-92 40h0m132 66h0m-30 -91h0m48 -30h0m-96 81h0m-10 49h0m134 -49h0m-8 31h0m-130 11h0m81 -23h0m32 -43h0m-95 -30h0m11 95h0m-25 -81h0m65 68h0m-4 -49h0m-96 10h0m77 -11h0m32 80h0m-84 -59h0m38 -89h0m-36 129h0m111 -22h0m-138 -11h0m111 -85h0m-116 90h0m155 -32h0m-150 -24h0m143 -28h0m13 79h0m-112 -59h0m-28 37h0m48 27h0m80 -71h0m-2 93h0m-145 -36h0m74 19h0m41 -36h0m-17 -70h0m9 160h0m-7 -61h0m-1 -17h0m6 48h0m26 -76h0m-33 9h0m-6 -14h0m-43 56h0m23 -25h0m-20 -19h0m36 3h0m51 17h0m-23 77h0m-98 -119h0m110 100h0m13 -86h0m-20 38h0m-18 -16h0m-11 46h0m22 49h0m-105 -50h0m29 -99h0m116 48h0m-150 23h0m146 -67h0m-32 23h0m47 22h0m-129 71h0m-1 -54h0m97 -1h0m-77 21h0m-13 31h0m105 10h0m-24 -146h0m-47 117h0m29 -15h0m15 10h0m0 -29h0m-36 -44h0m-78 21h0m26 9h0m-8 47h0m109 -52h0m-116 82h0m-4 -57h0m57 -47h0m86 -3h0m-42 -4h0m15 -4h0m-26 95h0m41 -73h0m-38 -26h0m-48 100h0m37 -87h0m74 8h0m-88 -16h0m-1 -8h0m34 -1h0m-8 30h0m-14 -23h0m43 77h0m-34 44h0m31 -24h0m-104 -37h0m124 20h0m-144 -60h0m117 3h0m3 18h0m26 24h0m-95 -76h0m76 129h0m-46 -79h0m60 22h0m-23 22h0m-62 5h0m105 -38h0m-108 -43h0m44 125h0m-38 -176h0m102 60h0m-117 37h0m-5 1h0m63 -8h0m-47 53h0m86 -115h0m-83 -15h0m53 80h0m-45 29h0m-5 -116h0m84 107h0m-67 -26h0m57 -36h0m-58 -4h0m17 -6h0m-43 32h0m57 -75h0m-94 107h0m0 29h0m49 -86h0m-43 56h0m27 62h0m21 11h0m-74 -49h0m47 -3h0m35 -83h0m11 -13h0m3 9h0m32 -22h0m-83 121h0m-2 -1h0m72 -105h0m-5 128h0m-45 -125h0m8 56h0m-32 -73h0m30 42h0m-31 -49h0m45 130h0m42 -42h0m18 -28h0m6 -36h0m-127 55h0m23 -57h0m84 94h0m-80 -26h0m-12 -37h0m15 -63h0m44 186h0m22 -67h0m47 -51h0m-79 13h0m27 86h0m-28 -90h0m17 -46h0m2 118h0m-5 -120h0m-86 127h0m38 -14h0m35 -40h0m-33 -29h0m-34 -38h0m27 53h0m51 17h0m-6 -56h0m-49 132h0m31 -24h0m-16 -96h0m52 104h0m18 -107h0m-89 -27h0m63 -37h0m-63 167h0m-20 -38h0m60 68h0m1 -29h0m-53 -37h0m73 -124h0m-110 88h0m129 -71h0m3 112h0m-56 23h0m22 -60h0m31 -27h0m36 59h0m-137 -52h0m23 -64h0m60 160h0m48 -87h0m13 -2h0m-77 81h0m43 -7h0m-86 -120h0m-16 52h0m-10 -48h0m46 35h0m106 -9h0m-78 -70h0m-42 181h0m31 -152h0m-58 89h0m117 -31h0m-120 20h0m105 -7h0m28 -48h0m-85 138h0m42 -157h0m-93 4h0m63 6h0m-4 -38h0m81 37h0m-37 -16h0m-93 -7h0m19 154h0m-41 -73h0m66 65h0m-1 -47h0m-20 -12h0m-42 33h0m64 -1h0m-16 37h0m12 -41h0m43 44h0m-107 -130h0m138 92h0m-60 -23h0m38 55h0m-55 -141h0m1 157h0m45 -68h0m-8 -71h0m-103 85h0m110 -123h0m-66 172h0m0 -27h0m-32 -89h0m150 71h0m-6 -53h0m-56 34h0m13 -42h0m-34 16h0m6 -29h0m1 49h0m40 -55h0m-114 21h0m-3 66h0m94 12h0m-3 -25h0m39 -107h0m29 54h0m-165 67h0m77 -64h0m-20 -58h0m-51 76h0m6 6h0m29 -23h0m-12 93h0m48 -152h0m-13 83h0m-39 -12h0m87 80h0m8 -85h0m31 48h0m-81 -86h0m-23 -11h0m4 101h0m61 -50h0m51 26h0m-92 37h0m-34 16h0m-13 -147h0m14 44h0m39 22h0m45 -49h0m1 62h0m-124 -41h0m50 59h0m1 -103h0m14 76h0m-13 45h0m69 -40h0m-73 84h0m-35 -60h0m28 43h0m20 -49h0m-11 -65h0m-14 126h0m87 -144h0m-95 130h0m-8 -39h0m22 -10h0m110 -73h0m-109 24h0m74 22h0m37 11h0m-48 -10h0m1 90h0m35 -133h0m-7 68h0m-14 -73h0m-84 4h0m33 27h0m-10 43h0m-22 20h0m46 -31h0m21 26h0m-65 -76h0m0 109h0m105 -53h0m-46 23h0m20 40h0m-10 8h0m-101 -61h0m137 -67h0m-105 19h0m35 -66h0m60 138h0m-69 -86h0m64 -23h0m23 59h0m-89 -70h0m-33 30h0m127 22h0m-24 83h0m-35 -136h0m-24 49h0m-2 -23h0m-49 126h0m107 -48h0m-5 32h0m-61 -95h0m-11 103h0m94 -95h0m-10 85h0m-22 -151h0m-97 101h0m47 44h0m13 -14h0m-31 6h0m-9 3h0m55 48h0m-1 -27h0m61 -85h0m-143 56h0m61 -49h0m-5 -38h0m-20 110h0m53 -74h0m-30 47h0m38 44h0m45 -58h0m-76 14h0m32 -24h0m-88 -79h0m3 35h0m107 39h0m23 -34h0m-84 -55h0m-77 50h0m115 20h0m-107 -5h0m107 77h0m-19 -110h0m53 29h0m-50 25h0m-44 -6h0m36 34h0m59 -80h0m1 95h0m-48 -94h0m-2 99h0m-65 -121h0m31 10h0m24 -1h0m81 91h0m-152 -24h0m115 44h0m2 4h0m-40 -39h0m25 34h0m40 -86h0m-144 5h0m67 124h0m-49 -89h0m111 18h0m-51 24h0m-37 -78h0m19 3h0m-22 -2h0m68 26h0m23 -4h0m-30 -47h0m-109 74h0m83 -107h0m-4 162h0m49 -135h0m-47 129h0m49 -71h0m14 9h0m-44 -82h0m-111 76h0m124 -83h0m-58 80h0m61 -66h0m-44 40h0m-40 -32h0m128 33h0m-24 84h0m-29 -71h0m-87 6h0m48 -34h0m-26 -28h0m-23 124h0m-18 -67h0m132 4h0m-125 16h0m107 -29h0m53 28h0m-169 -49h0m74 28h0m-49 62h0m123 -5h0m-56 -87h0m-12 28h0m-3 21h0m66 45h0m-58 -57h0m4 -52h0m33 -16h0m-33 56h0m-15 105h0m-37 -130h0m-13 59h0m7 31h0m3 -12h0m6 -114h0m115 81h0m-131 12h0m35 15h0m-24 -77h0m-18 -22h0m-10 125h0m58 -73h0m-15 -29h0m29 -19h0m30 124h0m-47 -82h0m-17 48h0m84 -71h0m-106 -7h0m86 -22h0m-1 3h0m-11 156h0m-9 -76h0m-5 -51h0m47 67h0m-6 -36h0m-65 -42h0m-31 87h0m26 -80h0m32 59h0m-61 -79h0m134 24h0m-7 47h0m-28 -20h0m-67 82h0m-47 -4h0m136 -87h0m-44 -51h0m-80 135h0m148 -68h0m-17 29h0m-89 -44h0m-49 24h0m132 -58h0m-34 66h0m-42 16h0m-11 -17h0m42 9h0m-45 -44h0m70 -40h0m12 29h0m-10 110h0m-118 -70h0m123 -3h0m19 45h0m-84 -79h0m-1 98h0m62 -93h0m-109 -17h0m123 -1h0m2 76h0m-123 -71h0m14 74h0m98 22h0m-126 2h0m68 -116h0m-66 23h0m15 3h0m42 110h0m-60 -74h0m40 16h0m68 -37h0m-8 -4h0m-90 57h0m-13 -30h0m55 83h0m-18 -100h0m74 61h0m-2 -50h0m-98 49h0m124 -37h0m-74 46h0m55 -65h0m-74 106h0m-15 -46h0m138 -61h0m-79 -39h0m-38 91h0m67 37h0m-108 -12h0m42 -32h0m93 -86h0m-135 38h0m146 -24h0m11 35h0m-48 -40h0m-115 102h0m44 -27h0m-29 -47h0m33 -40h0m52 20h0m0 -23h0m-57 143h0m28 -113h0m-42 82h0m56 -120h0m30 75h0m2 -69h0m-58 17h0m57 108h0m-42 16h0m-30 4h0m-59 -88h0m162 -46h0m-9 41h0m-102 -18h0m73 62h0m46 -43h0m-3 -9h0m-8 68h0m-112 -126h0m7 14h0m-11 -15h0m34 0h0m85 83h0m-103 82h0m-9 -16h0m-9 -140h0m121 125h0m-83 8h0m46 15h0m12 -61h0m-111 -4h0m87 78h0m-114 -79h0m114 83h0m-3 -178h0m44 143h0m-54 -152h0m-50 28h0m64 106h0m-34 -32h0m-50 50h0m-18 -35h0m41 -100h0m106 83h0m-32 63h0m-63 -150h0m81 120h0m-14 -107h0m-72 101h0m95 -17h0m-57 -96h0m-6 154h0m45 -75h0m-18 -17h0m27 -36h0m-33 31h0m50 62h0m-34 -33h0m-105 44h0m18 -22h0m-25 22h0m37 -78h0m44 -12h0m10 -41h0m12 44h0m-6 77h0m7 -75h0m-47 49h0m21 -7h0m10 -35h0m-29 -18h0m45 49h0m-52 -4h0m36 -3h0m-44 7h0m22 52h0m-22 -32h0m-1 -62h0m68 9h0m-21 -10h0m28 22h0m-75 16h0m3 12h0m-3 -10h0m34 1h0m-42 43h0m58 -31h0m-57 18h0m17 -51h0m37 -11h0m14 22h0m-52 -30h0m28 20h0m1 -4h0m-4 8h0m-32 1h0m72 1h0m-5 -17h0m-35 34h0m30 35h0m10 -37h0m-55 -11h0m22 30h0m29 -44h0m-22 40h0m-72 -25h0m20 38h0m18 27h0m16 -14h0m14 -29h0m-48 20h0m61 -8h0m-40 -32h0m-12 55h0m28 -97h0m44 31h0m-17 -8h0m-36 -13h0m8 18h0m40 54h0m1 -38h0m-86 -13h0m-4 9h0m21 -33h0m35 75h0m-30 -27h0m57 35h0m-30 -43h0m-38 5h0m55 29h0m-15 -31h0m-38 -13h0m29 -36h0m12 10h0m-28 1h0m7 43h0m0 32h0m25 -29h0m-42 -30h0m50 46h0m-50 4h0m48 -46h0m16 -8h0m-24 -6h0m2 83h0m12 -61h0m-17 28h0m16 -32h0m-29 -35h0m32 45h0m18 1h0m-95 -2h0m34 33h0m32 -38h0m-28 29h0m-11 15h0m-24 -51h0m61 42h0m-71 -8h0m56 -10h0m-51 9h0m66 -26h0m29 -14h0m-31 22h0m-25 -48h0m7 17h0m-25 48h0m35 -20h0m8 26h0m0 10h0m22 7h0m-84 -7h0m59 -23h0m-26 -46h0m16 49h0m-11 -25h0m-33 -1h0m26 -20h0m-1 -13h0m27 -1h0m-34 54h0m-18 -22h0m40 68h0m-48 -49h0m83 22h0m3 -33h0m0 -7h0m-6 34h0m9 -13h0m-82 29h0m9 -37h0m-4 10h0m17 26h0m-18 -67h0m15 52h0m-8 4h0m77 -10h0m-76 -29h0m73 44h0m-19 -56h0m-42 33h0m-3 24h0m9 -44h0m38 -6h0m-11 53h0m-42 -10h0m75 -27h0m-15 -31h0m-71 69h0m6 7h0m52 -85h0m24 75h0m-28 -11h0m-64 -39h0m27 14h0m-6 -3h0m31 -37h0m10 35h0m-59 46h0m20 15h0m24 -47h0m1 44h0m36 -81h0m-48 -2h0m34 6h0m-50 1h0m59 57h0m-41 -66h0m-36 42h0m67 48h0m-9 -40h0m-15 18h0m5 -24h0m6 8h0m5 -32h0m36 5h0m-19 15h0m-71 -15h0m12 4h0m79 32h0m-33 -4h0m-14 -50h0m-34 20h0m7 4h0m23 -5h0m13 -17h0m-19 8h0m14 25h0m-58 -15h0m66 -14h0m-13 23h0m38 -9h0m-79 9h0m-7 -1h0m78 11h0m-54 -7h0m-19 -15h0m70 0h0m9 -17h0m-10 46h0m-13 8h0m-34 -4h0m23 -43h0m8 50h0m-7 -62h0m-34 21h0m67 -20h0m-53 59h0m-30 10h0m74 -19h0m-68 -16h0m46 -49h0m-56 49h0m-5 -3h0m88 -13h0m-32 -11h0m-21 73h0m61 -57h0m-45 4h0m-4 28h0m19 35h0m-34 -94h0m-29 40h0m31 -12h0m56 53h0m-34 -69h0m10 14h0m-42 32h0m18 15h0m24 -33h0m37 -6h0m-14 44h0m-60 -42h0m-14 22h0m28 34h0m-24 -54h0m15 -30h0m1 54h0m5 15h0m33 -58h0m-47 -19h0m20 63h0m13 -13h0m-45 27h0m60 -44h0m-1 -27h0m-8 81h0m-37 -64h0m78 21h0m-26 -20h0m-4 9h0m-20 23h0m-32 30h0m21 -20h0m28 24h0m-35 -82h0m-23 71h0m54 -36h0m-6 49h0m-39 -96h0m15 2h0m34 46h0m-72 -19h0m20 -21h0m16 19h0m-15 -25h0m34 28h0m-13 33h0m14 -22h0m-44 20h0m72 -2h0m-41 -26h0m-12 45h0m-13 -71h0m22 51h0m-32 -11h0m23 -9h0m11 -30h0m1 69h0m-5 -56h0m15 31h0m10 -46h0m-7 76h0m37 -16h0m-18 -14h0m-67 -38h0m41 39h0m-19 -18h0m6 52h0m-3 -34h0m38 -27h0m16 2h0m11 31h0m2 -29h0m-79 15h0m28 -44h0m11 41h0m12 52h0m-53 -18h0m73 -64h0m-65 31h0m56 -20h0m-6 -17h0m-16 40h0m-36 -43h0m69 62h0m-2 -47h0m-31 48h0m18 20h0m-55 -10h0m34 -9h0m7 -6h0m-46 -54h0m62 20h0m-31 48h0m-21 -5h0m-6 -59h0m23 54h0m-16 -18h0m60 -24h0m1 58h0m-83 -45h0m56 62h0m-8 -81h0m5 61h0m4 -63h0m-40 50h0m53 -31h0m-58 49h0m3 -36h0m57 21h0m-34 15h0m-41 -9h0m72 -48h0m-64 -4h0m51 -5h0m18 -10h0m-1 57h0m-32 -11h0m23 -42h0m-19 3h0m-27 21h0m2 28h0m22 -17h0m49 4h0m-19 25h0m-55 6h0m53 -3h0m-22 2h0m9 -69h0m-9 -3h0m-10 -14h0m-24 39h0m49 3h0m-17 26h0m-25 -38h0m-14 42h0m76 -35h0m-65 54h0m29 6h0m-1 -61h0m11 -16h0m-20 -1h0m11 15h0m11 57h0m-53 -69h0m27 27h0m45 -19h0m-49 33h0m16 37h0m-16 -10h0m1 -39h0m53 -3h0m-48 -22h0m4 1h0m-39 34h0m16 12h0m76 -43h0m-98 38h0m86 20h0m-29 -71h0m9 85h0m-27 -41h0m-26 -40h0m53 2h0m35 31h0m-56 -10h0m32 40h0m-37 -43h0m-14 -7h0m-17 14h0m23 13h0m-26 -21h0m82 2h0m-54 31h0m-24 -14h0m62 22h0m-30 -22h0m52 8h0m-5 -40h0m-69 68h0m79 -63h0m-27 45h0m-45 -62h0m-11 11h0m27 15h0m20 -34h0m13 58h0m-28 -49h0m45 43h0m-55 30h0m29 -61h0m-63 2h0m61 15h0m13 -26h0m-49 44h0m11 41h0m25 -1h0m30 -39h0m-56 -63h0m28 6h0m25 58h0m-89 -11h0m73 -48h0m-42 26h0m-25 43h0m63 -30h0m-55 24h0m21 13h0m-32 -29h0m19 35h0m-16 -3h0m-9 -32h0m62 6h0m-30 -21h0m8 8h0m-1 -39h0m12 77h0m52 -18h0m-60 -39h0m-30 64h0m-2 -67h0m33 76h0m-19 -13h0m21 17h0m-23 -51h0m-4 -42h0m36 92h0m-22 -12h0m-26 -29h0m34 -35h0m-17 53h0m65 -12h0m-70 -20h0m20 7h0m65 -4h0m-97 -23h0m75 34h0m-57 -42h0m62 53h0m-74 18h0m77 -30h0m-78 -37h0m61 72h0m-7 -50h0m-1 45h0m37 -50h0m-9 -15h0m-95 20h0m30 11h0m-15 26h0m37 -60h0m20 77h0m-50 -9h0m61 -27h0m-69 6h0m52 17h0m33 -61h0m-86 39h0m42 2h0m-9 25h0m9 -33h0m14 4h0m19 2h0m-44 -50h0m19 46h0m6 -36h0m12 21h0m-4 -9h0m-9 48h0m-13 -43h0m-11 4h0m33 -3h0m-37 54h0m-30 -78h0m6 1h0m42 46h0m-46 -43h0m32 -20h0m26 2h0m11 10h0m-1 42h0m-26 -44h0m-18 72h0m17 -43h0m23 43h0m-44 -13h0m-25 10h0m30 -72h0m-22 9h0m41 24h0m42 11h0m-57 46h0m8 -85h0m5 65h0m19 -60h0m-36 70h0m-3 -69h0m47 42h0m10 -34h0m1 57h0m-64 -19h0m-16 18h0m36 -21h0m-40 -22h0m12 5h0m43 -33h0m21 32h0m-27 -9h0m-9 -7h0m22 74h0m-10 -18h0m45 -30h0m-20 18h0m-22 -73h0m23 64h0m-41 41h0m-21 -29h0m43 -2h0m-27 -3h0m12 -5h0m-15 -5h0m35 31h0m13 -36h0m10 -33h0m-44 4h0m8 -29h0m-8 77h0m28 -35h0m-11 -17h0m-40 43h0m15 19h0m22 -81h0m2 49h0m-39 -14h0m33 3h0m32 -16h0m-24 16h0m-52 26h0m86 -12h0m-69 20h0m16 -6h0m-23 -32h0m17 -40h0m25 51h0m-39 48h0m10 -32h0m31 -3h0m5 -53h0m-68 42h0m47 31h0m-49 -32h0m25 3h0m42 -49h0m-16 88h0m-58 -43h0m13 16h0m74 11h0m-1 14h0m-31 3h0m-17 -36h0m-25 -21h0m39 -15h0m38 6h0m9 54h0m-4 -37h0m-85 33h0m49 -58h0m-9 37h0m2 -17h0m-2 5h0m28 10h0m-5 -24h0m10 29h0m-74 -6h0m54 45h0m-50 -73h0m60 69h0m-59 -75h0m45 -14h0m-37 25h0m50 -9h0m-31 41h0m9 -17h0m11 -92h0m-12 10h0m50 0h0m33 -12h0m-40 8h0m7 22h0m2 -20h0m25 -13h0m-23 3h0m-38 -14h0m5 17h0m11 -2h0m-19 23h0m55 -33h0m-65 5h0m64 -11h0m-30 12h0m-1 0h0m-12 -13h0m25 -4h0m0 14h0m-24 -13h0m14 28h0m0 20h0m15 -3h0m5 -35h0m-45 16h0m53 -2h0m-50 -11h0m46 -4h0m-5 9h0m-11 5h0m17 -14h0m-13 26h0m-23 -12h0m8 -13h0m-5 6h0m-15 28h0m50 -17h0m4 -17h0m-27 11h0m23 -14h0m-57 35h0m33 6h0m22 -44h0m-38 5h0m1 -2h0m57 23h0m-25 2h0m-13 -28h0m25 4h0m-45 29h0m37 -27h0m-17 19h0m-37 -16h0m22 20h0m-11 -12h0m29 16h0m-35 3h0m0 -12h0m-11 -17h0m50 37h0m-45 -41h0m43 40h0m12 -25h0m-20 18h0m20 -5h0m-24 1h0m-25 -20h0m-10 16h0m20 -25h0m32 24h0m-47 6h0m-8 -22h0m72 6h0m-18 -4h0m-48 -3h0m25 30h0m40 -3h0m-54 -33h0m-15 6h0m34 11h0m-2 -23h0m-27 27h0m41 -29h0m-12 37h0m-11 6h0m36 -27h0m-54 -4h0m46 10h0m5 6h0m22 -16h0m-3 20h0m-36 -22h0m-22 7h0m43 20h0m-28 0h0m-10 -12h0m-24 -11h0m20 11h0m59 3h0m0 -5h0m-61 20h0m19 -34h0m23 9h0m16 2h0m-17 30h0m4 -37h0m-43 10h0m3 -16h0m18 29h0m16 1h0m-50 -24h0m52 3h0m-44 17h0m61 -16h0m-40 -4h0m22 12h0m23 -12h0m-8 28h0m-25 9h0m-38 -34h0m61 1h0m-20 14h0m-16 6h0m20 -10h0m14 8h0m-55 -3h0m10 -13h0m3 4h0m47 7h0m-48 -1h0m10 -4h0m25 -6h0m-39 27h0m-5 -39h0m-8 19h0m36 -15h0m-28 1h0m28 12h0m-21 -12h0m0 28h0m5 -12h0m33 -21h0m-41 31h0m29 -17h0m-25 7h0m45 -11h0m-4 28h0m-23 -28h0m-34 14h0m35 8h0m-27 -24h0m64 19h0m-29 11h0m3 -33h0m-44 9h0m7 27h0m49 -3h0m-10 -6h0m0 42h0m-1 -15h0m11 19h0m-6 11h0m8 -38h0m-21 4h0m4 49h0m2 -59h0m3 28h0m22 13h0m-9 -46h0m-24 38h0m38 -10h0m3 -7h0m6 41h0m-25 11h0m-7 -73h0m16 64h0m0 -43h0m-16 -10h0m20 22h0m-16 15h0m3 -22h0m-9 -1h0m7 -3h0m19 9h0m-29 33h0m18 6h0m-1 -39h0m14 36h0m-42 -41h0m52 -6h0m-18 2h0m-17 -17h0m31 35h0m3 -7h0m-52 15h0m25 0h0m27 4h0m-8 14h0m6 -20h0m-41 -18h0m2 29h0m13 -6h0m14 -45h0m9 45h0m-40 0h0m28 -46h0m-3 21h0m-7 3h0m-8 6h0m15 12h0m-26 12h0m20 -36h0m5 -10h0m-23 3h0m31 9h0m-38 -3h0m43 -16h0m-2 17h0m-4 41h0m5 1h0m14 -31h0m-37 35h0m-12 -23h0m13 -5h0m20 -30h0m10 29h0m-49 -1h0m8 4h0m40 16h0m-45 -12h0m35 -28h0m1 24h0m-14 1h0m-20 -28h0m4 15h0m18 -31h0m-11 56h0m21 -4h0m-30 11h0m27 -48h0m-36 38h0m9 2h0m24 -56h0m-15 31h0m13 14h0m-7 -4h0m27 -23h0m-4 25h0m-18 -39h0m-10 61h0m8 -66h0m14 70h0m-26 -54h0m20 10h0m9 23h0m1 -17h0m-4 22h0m11 -12h0m-13 -36h0m-39 30h0m40 7h0m-20 -18h0m-18 12h0m51 1h0m0 -4h0m-5 -21h0m-38 23h0m20 -6h0m-5 -15h0m0 47h0m2 -36h0m-7 45h0m-12 -18h0m40 1h0m-3 13h0m-41 -28h0m38 -32h0m-8 -3h0m-131 127h0m-40 11h0m46 -13h0m-18 -13h0m11 -1h0m13 1h0m-21 41h0m-15 -35h0m-11 15h0m-4 12h0m24 -41h0m-24 14h0m-3 -12h0m25 23h0m37 -15h0m-48 -2h0m-13 -7h0m27 -7h0m29 13h0m-17 35h0m-17 3h0m12 -25h0m-21 -16h0m36 2h0m-34 29h0m43 -16h0m-60 11h0m38 -32h0m20 8h0m-54 13h0m-4 14h0m18 -12h0m34 19h0m8 -7h0m-2 -20h0m-50 -12h0m45 31h0m-45 -20h0m19 36h0m8 -36h0m-27 27h0m32 -17h0m-30 -23h0m45 21h0m-31 -23h0m19 21h0m5 15h0m-29 12h0m12 -44h0m-37 26h0m38 2h0m-18 7h0m10 -5h0m-7 -35h0m14 6h0m-7 -7h0m-14 3h0m17 17h0m28 -5h0m-31 38h0m-4 1h0m19 -29h0m-3 -5h0m-23 -11h0m23 -8h0m-17 17h0m-6 36h0m-17 -38h0m31 14h0m28 11h0m-42 2h0m20 -29h0m15 31h0m11 -12h0m-29 17h0m1 -39h0m9 6h0m-14 16h0m17 -10h0m-40 6h0m15 -19h0m4 9h0m-30 16h0m44 -20h0m0 6h0m-27 7h0m10 17h0m37 -28h0m-33 1h0m-6 17h0m76 25h0m31 5h0m-43 -9h0m47 19h0m8 -12h0m-8 6h0m15 0h0m-60 -14h0m53 4h0m-59 4h0m22 0h0m-45 -8h0m77 18h0m-66 -12h0m24 0h0m-18 5h0m8 -8h0m-47 11h0m76 1h0m-2 -10h0m-4 19h0m-8 -7h0m13 -1h0m-49 6h0m-16 -3h0m64 6h0m-12 -11h0m-40 0h0m80 -2h0m-82 -1h0m75 8h0m-21 -3h0m15 3h0m-20 -13h0m-5 0h0m44 4h0m-37 -10h0m-61 11h0m16 6h0m-13 -12h0m2 -5h0m77 10h0m-44 4h0m32 -7h0m26 0h0m-20 2h0m-68 -7h0m17 5h0m66 4h0m-77 5h0m38 -16h0m25 15h0m-29 8h0m-55 -12h0m48 -13h0m21 22h0m-12 -12h0m-54 -3h0m62 10h0m23 -2h0" stroke="#f5a0a8" stroke-width="4.3" stroke-linecap="round" fill="none"/>
<path d="M394 796h0m-8 -27h0m12 -18h0m-28 13h0m17 -20h0m3 8h0m-10 -27h0m-4 40h0m-9 23h0m27 -25h0m4 -20h0m-18 -13h0m17 35h0m1 -30h0m-15 54h0m19 -55h0m3 59h0m2 -29h0m-1 -35h0m-7 18h0m-35 14h0m41 -15h0m5 34h0m-9 5h0m14 -32h0m-16 1h0m-16 -14h0m-6 47h0m6 -60h0m23 33h0m-34 30h0m27 -51h0m-7 61h0m16 -11h0m-26 -29h0m-5 -30h0m1 66h0m13 -45h0m19 -11h0m-17 51h0m-21 -11h0m24 -39h0m-34 18h0m26 -19h0m-5 37h0m12 -40h0m8 -13h0m-12 10h0m5 15h0m-23 28h0m-11 -21h0m34 -27h0m-12 -4h0m-23 26h0m43 14h0m-12 19h0m-31 -13h0m27 -37h0m18 9h0m9 14h0m-45 25h0m46 -30h0m-31 11h0m13 27h0m9 -43h0m-4 30h0m-31 -14h0m19 -28h0m-22 -2h0m31 4h0m-26 19h0m-10 16h0m10 20h0m0 -51h0m4 13h0m-16 4h0m15 -30h0m-14 31h0m24 -4h0m-9 5h0m15 -41h0m1 71h0m-16 -14h0m8 -7h0m17 -29h0m-30 8h0m26 6h0m-33 -6h0m34 5h0m-14 -34h0m13 29h0m-19 50h0m26 -39h0m-23 23h0m5 -59h0m-16 17h0m9 32h0m29 11h0m-1 -14h0m2 -7h0m-40 -10h0m-8 -6h0m43 35h0m-10 -18h0m20 2h0m-48 -20h0m20 -7h0m5 17h0m-11 7h0m6 -17h0m1 36h0m20 -12h0m-34 -18h0m1 42h0m-6 -15h0m33 0h0m-22 -44h0m18 12h0m-12 -17h0m11 46h0m-12 9h0m9 4h0m17 -30h0m-37 17h0m28 13h0m-8 -51h0m0 62h0m3 -31h0m-26 15h0m33 -17h0m-37 1h0m11 -1h0m2 17h0m-5 -29h0m18 -28h0m-20 65h0m10 6h0m-15 -67h0m3 42h0m15 22h0m29 -48h0m-23 43h0m-22 -11h0m11 15h0m8 -40h0m-16 -26h0m30 18h0m-19 51h0m8 -50h0m-15 -12h0m27 47h0m-17 16h0m12 -64h0m-34 40h0m37 21h0m-4 -18h0m-16 11h0m-12 -59h0m30 53h0m0 6h0m0 -51h0m-16 65h0m-7 -72h0m23 -1h0m-13 24h0m-13 -11h0m-12 30h0m22 -28h0m-15 45h0m20 -68h0m-10 5h0m27 58h0m-3 -22h0m-21 -14h0m-24 19h0m14 -23h0m1 -17h0m-10 41h0m44 23h0m-24 -33h0m-3 39h0m-19 -36h0m48 6h0m-10 -10h0m-6 21h0m23 -19h0m-24 -23h0m-25 49h0m-7 -41h0m30 37h0m5 -19h0m-14 -1h0m24 12h0m-6 22h0m13 -19h0m-47 -25h0m21 8h0m15 -3h0m-14 21h0m6 -30h0m-15 6h0m15 9h0m-20 21h0m31 -25h0m-19 -22h0m-6 6h0m0 -17h0m24 30h0m-28 2h0m22 21h0m4 -10h0m-30 -17h0m24 33h0m5 -31h0m11 3h0m-35 -2h0m-11 -19h0m41 55h0m-11 -56h0m-31 43h0m60 -20h0m-31 -13h0m-6 -5h0m27 -5h0m-30 9h0m45 3h0m-7 2h0m-29 -7h0m24 9h0m-26 -10h0m-2 -11h0m3 11h0m4 -6h0m30 9h0m-22 -17h0m21 19h0m-34 -4h0m30 17h0m-29 -5h0m19 -16h0m11 -16h0m-2 10h0m-17 -6h0m-12 12h0m26 -19h0m-3 25h0m18 3h0m-8 -19h0m-18 -4h0m-11 25h0m13 11h0m22 -22h0m-17 20h0m-4 8h0m18 -31h0m-17 -10h0m13 -2h0m-10 17h0m19 -4h0m-37 17h0m14 -2h0m-19 -17h0m10 16h0m0 7h0m-7 -24h0m35 -6h0m-39 9h0m11 20h0m17 5h0m2 -37h0m-16 11h0m9 22h0m1 -25h0m4 14h0m4 4h0m-13 -3h0m3 -16h0m-13 9h0m4 -15h0m21 8h0m-6 8h0m5 -20h0m-33 29h0m0 -14h0m40 6h0m-1 10h0m-29 -6h0m0 15h0m-5 -21h0m26 2h0m2 -4h0m-36 7h0m31 11h0m-23 -32h0m-7 6h0m16 -11h0m23 22h0m-34 8h0m36 -7h0m-17 7h0m-20 5h0m18 10h0m-11 -21h0m1 -12h0m-10 8h0m43 11h0m-8 -6h0m8 2h0m-26 -10h0m-12 16h0m2 -14h0m-6 18h0m15 -24h0m12 10h0m-20 -10h0m18 31h0m-9 -42h0m6 35h0m-11 -34h0m-1 16h0m26 5h0m-8 21h0m-8 -12h0m-10 -1h0m20 -19h0m-14 -1h0m-15 13h0m5 7h0m32 -5h0m-18 0h0m15 -19h0m-27 26h0m10 -5h0m19 -13h0m-16 17h0m2 -21h0m-20 26h0m12 -10h0m-8 16h0m10 -9h0m0 7h0m0 -11h0m-22 -3h0m1 4h0m43 -7h0m-30 6h0m16 -22h0m-6 -5h0m9 28h0m-4 9h0m-21 -35h0m9 10h0m19 11h0m-21 19h0m-14 -25h0m21 -2h0m-5 1h0m-6 -13h0m30 1h0m1 -2h0m-50 72h0m-13 23h0m-5 -20h0m11 3h0m-15 -13h0m5 -5h0m2 19h0m-10 5h0m11 -7h0m11 -19h0m0 32h0m3 -25h0m-12 -7h0m-6 26h0m26 -9h0m-22 -1h0m-3 2h0m-7 -2h0m5 19h0m-2 -18h0m14 3h0m-9 -7h0m0 18h0m5 -16h0m-4 -1h0m17 5h0m-11 -18h0m15 19h0m-8 4h0m-22 -5h0m0 -4h0m-1 6h0m15 -19h0m17 11h0m-10 8h0m-17 -13h0m8 26h0m-8 -6h0m20 -11h0m1 6h0m-4 11h0m-24 -15h0m19 -5h0m18 0h0m-3 3h0m1 -5h0m-13 -10h0m-9 19h0m2 15h0m16 -30h0m-12 -1h0m-3 4h0m5 -5h0m13 7h0m-28 4h0m12 18h0m20 -13h0m-18 17h0m-13 -34h0m-3 30h0m16 -11h0m13 11h0m6 -10h0m-40 -13h0m9 -6h0m32 9h0m-17 -13h0m0 25h0m-2 1h0m14 -10h0m-21 22h0m-11 -23h0m21 -9h0m-18 -1h0m29 18h0m-36 -1h0m3 -6h0m2 0h0m27 12h0m7 -13h0m-27 4h0m2 -10h0m7 4h0m-1 22h0m14 -14h0m-30 -15h0m27 7h0m5 -6h0m-7 4h0m-3 27h0m56 -71h0m-11 9h0m-4 7h0m13 8h0m0 -13h0m10 -3h0m-2 -3h0m-22 19h0m9 -25h0m-15 10h0m18 -2h0m-9 3h0m11 2h0m-7 8h0m1 0h0m-7 4h0m-1 -1h0m14 -11h0m-17 -1h0m27 -4h0m-23 -1h0m11 16h0m14 -12h0m-5 -7h0m-6 5h0m6 12h0m-15 -17h0m2 11h0m4 -9h0m-15 16h0m12 -3h0m7 -7h0m4 -10h0m-18 4h0m-10 9h0m8 -5h0m7 0h0m-14 9h0m7 -2h0m7 10h0m-8 -22h0m6 20h0m-5 -8h0m5 7h0m18 -18h0m-29 6h0m25 12h0m2 -2h0m-10 -19h0m14 5h0m-14 17h0m-18 -18h0m9 6h0m-2 3h0m7 -8h0m3 3h0m5 -8h0m-3 24h0m-14 -21h0m21 18h0m-43 -43h0m-5 0h0m-2 -8h0m31 1h0m-11 5h0m6 6h0m-15 -12h0m-6 4h0m6 -10h0m15 3h0m-6 3h0m-14 15h0m14 2h0m-22 -20h0m26 10h0m-26 -7h0m5 0h0m-5 6h0m24 -5h0m1 6h0m16 -1h0m-9 -4h0m-9 -1h0m11 6h0m-20 -10h0m-5 6h0m21 10h0m-30 -3h0m0 -11h0m-1 -1h0m25 18h0m18 -10h0m-6 3h0m-18 8h0m-11 -1h0m13 -6h0m-12 1h0m23 -1h0m-27 0h0m9 -2h0m-1 4h0m-11 0h0m28 -13h0m-7 -4h0m9 17h0m2 -1h0m-19 -7h0m16 5h0m-5 -14h0m-19 15h0m35 -6h0m-41 10h0m0 -11h0m40 7h0m-18 0h0m2 3h0m15 -12h0m-15 4h0m-19 -7h0m1 1h0m-4 93h0m3 9h0m3 0h0m-17 -2h0m-5 -1h0m9 2h0m10 -4h0m-8 -4h0m5 0h0m-4 4h0m2 -1h0m1 -4h0m0 6h0m-4 -2h0m4 12h0m-16 -8h0m10 -5h0m-3 6h0m1 0h0m-1 9h0m8 -5h0m5 -9h0m-10 7h0m10 -1h0m-14 5h0m16 -6h0m-1 1h0m-1 -1h0m-6 4h0m6 -3h0m0 -1h0m-8 6h0m4 -7h0m-5 10h0m-2 -6h0m10 -4h0m-7 8h0m2 -11h0m4 -4h0m-10 10h0" stroke="#0039ff" stroke-width="4.3" stroke-linecap="round" fill="none"/>
<path d="M353 853h0m-11 25h0m11 -9h0m-3 -24h0m-6 8h0m-3 26h0m14 -30h0m-5 -7h0m14 22h0m-23 -4h0m5 -17h0m16 6h0m-16 -12h0m5 39h0m5 -5h0m4 -14h0m-2 -11h0m-16 20h0m-1 2h0m10 -27h0m-10 3h0m8 36h0m-13 -18h0m20 -3h0m-19 7h0m21 -5h0m4 13h0m-3 5h0m-14 -29h0m-6 27h0m4 -33h0m4 36h0m7 -40h0m-18 20h0m20 -3h0m-5 -15h0m-18 21h0m32 -7h0m-20 18h0m-12 -9h0m7 13h0m21 -15h0m-17 18h0m14 -16h0m-3 1h0m4 6h0m-20 4h0m-2 -23h0m4 2h0m1 -8h0m14 32h0m-10 1h0m16 -3h0m-7 -22h0m3 22h0m-17 -31h0m0 14h0m24 11h0m-9 -26h0m-20 14h0m-2 -8h0m16 -9h0m-5 36h0m-5 -6h0m20 5h0m0 -31h0m-15 20h0m7 -11h0m8 -13h0m-22 30h0m7 -17h0m6 27h0m-15 -20h0m9 15h0m18 -26h0m-21 -11h0m15 12h0m-7 14h0m4 13h0m5 -19h0m-21 -11h0m8 30h0m2 0h0m-13 -12h0m9 -11h0m6 -6h0m9 -1h0m-7 20h0m-14 -8h0m20 -7h0m-15 28h0m-8 -29h0m1 14h0m14 -29h0m-1 10h0m-9 22h0m9 9h0m-2 -23h0m11 -1h0m-21 18h0m4 -13h0m9 23h0m9 -34h0m2 17h0m-15 0h0m17 6h0m-23 -6h0m4 -13h0m11 13h0m-8 -14h0m2 29h0m4 -7h0m-10 2h0m16 -22h0m3 -10h0m-16 32h0m15 -13h0m2 10h0m-28 -7h0m32 -2h0m-23 -23h0m-1 12h0m-3 15h0m19 9h0m-1 -20h0m-16 15h0m8 -3h0m11 -10h0m-11 -17h0m-7 15h0m-1 18h0m10 -24h0m-6 -7h0m15 3h0m3 10h0m-24 -5h0m13 -1h0m11 -3h0m-11 29h0m-11 -29h0m10 8h0m3 -16h0m-6 -1h0m-13 26h0m22 -17h0m-20 13h0m8 20h0m-11 -13h0m21 -25h0m6 26h0m22 25h0m2 3h0m-2 -10h0m-7 4h0m13 -1h0m-6 1h0m-4 -5h0m17 13h0m3 -5h0m-22 -10h0m11 -6h0m-2 12h0m14 2h0m-13 -1h0m-15 -2h0m9 -3h0m-6 18h0m24 -13h0m-17 -6h0m3 14h0m-15 -11h0m8 -7h0m10 2h0m-11 2h0m11 -3h0m-1 -4h0m-6 10h0m13 13h0m-11 -23h0m-4 16h0m9 -14h0m8 22h0m-20 -8h0m4 8h0m-7 -8h0m28 -3h0m-15 -13h0m10 4h0m-7 3h0m10 14h0m-17 -17h0m1 -1h0m2 -1h0m-1 27h0m-7 -7h0m1 -15h0m5 14h0m-15 -7h0m6 7h0m25 1h0m-7 -3h0m-4 8h0m-20 -7h0m28 -12h0m-11 -8h0m-7 29h0m9 -25h0m0 5h0m9 0h0m-16 -6h0m-3 6h0m4 0h0m12 10h0m-21 -12h0m21 10h0m-19 -13h0m5 3h0m-6 18h0m17 1h0m-22 -13h0m20 8h0m-15 4h0m8 -20h0m11 11h0m-2 -4h0m0 -2h0m-15 15h0m16 -23h0m-3 5h0m-6 -1h0m-3 12h0m-3 6h0m10 -4h0m1 -13h0m-11 -5h0m20 11h0m-19 -4h0m22 6h0m-15 0h0m14 4h0m-18 10h0m-7 -19h0m4 3h0m1 -3h0m-5 16h0m23 -18h0m-27 13h0m16 1h0m-10 -2h0m-2 4h0m17 2h0m-17 -16h0m5 4h0m22 2h0m-18 6h0m13 2h0m-18 2h0m14 1h0m7 -6h0m-22 2h0m20 -5h0m-8 -1h0m-6 -16h0m3 22h0m0 -13h0m-4 7h0m-5 -6h0m11 -1h0m3 9h0m5 -3h0m-17 6h0m14 -9h0m-13 7h0m-6 2h0m1 -14h0m21 7h0m-17 -4h0m-2 -8h0m13 9h0m-57 -5h0m-1 16h0m2 -10h0m6 -5h0m0 3h0m2 2h0m-6 5h0m6 1h0m-1 -3h0m-1 4h0m-3 -7h0m4 13h0m-3 -19h0m4 10h0m-3 -12h0m-9 16h0m11 2h0m-9 -12h0m5 -5h0m6 12h0m-13 2h0m12 -1h0m4 -7h0m-15 6h0m1 -2h0m-3 -7h0m9 3h0m8 -2h0m-17 12h0m2 -3h0m9 -10h0m-3 2h0m-3 -3h0m6 -3h0m1 8h0m4 5h0m-13 -6h0m4 12h0m9 -14h0m-1 6h0m-58 -27h0m12 2h0m-4 -2h0m1 -2h0m-8 5h0m2 -3h0m2 -4h0m-3 2h0m2 -1h0m1 9h0m0 -11h0m1 3h0m-9 3h0m4 -1h0m-3 4h0m1 -7h0m13 2h0m-3 2h0m-2 -6h0m-2 1h0m-7 7h0m10 2h0m-9 -8h0m7 0h0m5 8h0m-8 -5h0m3 -5h0m-1 9h0m3 -5h0m-8 1h0m9 2h0m1 -5h0m4 5h0m-6 -4h0m-5 2h0m12 1h0m-4 4h0m0 -1h0m-11 -8h0m6 3h0" stroke="#560082" stroke-width="4.3" stroke-linecap="round" fill="none"/>
<path d="M469 870h0m13 -11h0m-4 -16h0m-28 -10h0m25 19h0m-22 3h0m7 18h0m25 -10h0m-35 -13h0m16 -20h0m3 21h0m-24 22h0m15 1h0m4 6h0m14 -32h0m-24 -11h0m-13 13h0m30 -1h0m-9 2h0m-16 0h0m17 -6h0m-7 -2h0m6 1h0m-5 19h0m-2 -33h0m18 44h0m4 -14h0m-40 -5h0m25 -3h0m4 29h0m14 -42h0m-35 20h0m4 -27h0m23 11h0m-7 2h0m-8 3h0m1 31h0m10 -10h0m-18 -20h0m-8 -8h0m0 -1h0m7 25h0m20 5h0m10 -24h0m-24 -7h0m-2 -8h0m28 27h0m-32 -6h0m11 3h0m24 12h0m-19 4h0m11 7h0m-32 -41h0m30 5h0m-20 3h0m-2 31h0m15 -28h0m-11 5h0m8 -2h0m-19 -6h0m29 31h0m-31 -11h0m16 17h0m0 -20h0m24 1h0m-18 -31h0m-23 14h0m12 27h0m6 -28h0m-13 13h0m26 3h0m-3 -32h0m0 3h0m-31 14h0m11 -8h0m6 14h0m1 26h0m20 -17h0m-28 -24h0m10 36h0m2 -39h0m-3 32h0m-15 6h0m31 -26h0m6 26h0m-20 10h0m-5 -47h0m-2 25h0m20 -18h0m2 27h0m1 -12h0m-12 -9h0m12 30h0m-18 -2h0m10 -2h0m-14 -15h0m24 -15h0m-39 13h0m21 -14h0m16 34h0m-25 -25h0m13 13h0m2 14h0m-8 -13h0m-14 6h0m15 -31h0m9 19h0m-8 17h0m6 -23h0m-10 8h0m26 -4h0m-5 -21h0m3 19h0m-35 17h0m15 -29h0m24 2h0m-8 -3h0m8 2h0m-30 4h0m27 2h0m-18 13h0m-6 1h0m-4 -24h0m-4 -1h0m21 -4h0m1 29h0m-19 1h0m-8 -31h0m22 22h0m-20 -3h0m33 -17h0m4 22h0m-11 -22h0m-12 7h0m-10 17h0m17 21h0m-1 -48h0m-13 33h0m-8 -31h0m33 37h0m-14 -42h0m9 17h0m4 -2h0m9 6h0m-11 9h0m-3 -31h0m-9 43h0m13 -6h0m-8 -36h0m0 19h0m13 14h0m-14 12h0m-16 -19h0m18 -11h0m-11 10h0m19 4h0m-17 -27h0m9 20h0m3 19h0m-5 -27h0m18 3h0m-29 11h0m7 -6h0m-15 -15h0m29 15h0m-27 -22h0m8 41h0m-2 -41h0m-3 41h0m-2 -1h0m27 -16h0m3 11h0m-17 -6h0m-13 -27h0m-10 19h0m3 17h0m12 -20h0m-3 28h0m0 -4h0m-8 -33h0m17 -5h0m-2 -6h0m-20 18h0m41 5h0m7 1h0m-9 -7h0m-21 25h0m3 -42h0m10 34h0m14 -9h0m-40 -8h0m40 21h0m-19 -8h0m-13 -16h0m-1 -12h0m-4 40h0m3 -12h0m19 -26h0m-4 3h0m-3 -2h0m-28 36h0m-4 22h0m-4 -24h0m7 17h0m5 4h0m1 -7h0m-17 -1h0m5 4h0m3 -16h0m-3 15h0m-3 -5h0m0 -6h0m11 18h0m-11 2h0m11 -26h0m5 12h0m-19 3h0m7 15h0m6 -24h0m-9 4h0m8 4h0m1 10h0m-7 -21h0m8 18h0m-10 -10h0m10 0h0m-13 0h0m3 6h0m6 -7h0m-7 1h0m10 -8h0m1 11h0m1 -15h0m-2 25h0m-1 6h0m-9 -23h0m3 -12h0m7 28h0m-2 -14h0m-5 5h0m4 -18h0m-3 24h0m-2 5h0m2 -13h0m-2 -15h0m6 4h0m-4 21h0m-4 -22h0m7 30h0m-2 -32h0m-6 26h0m16 -19h0m-8 6h0m8 11h0m-11 -16h0m-3 19h0m4 -2h0m3 1h0m-3 -23h0m3 11h0m33 -55h0m10 12h0m-1 -11h0m-17 8h0m4 6h0m6 -16h0m-6 11h0m11 0h0m-10 -2h0m16 0h0m-13 4h0m-1 -8h0m13 5h0m-11 -2h0m-5 0h0m20 1h0m-9 7h0m4 -8h0m-19 -2h0m7 -3h0m20 4h0m-22 -2h0m9 0h0m12 5h0m-21 -6h0m4 7h0m9 1h0m3 -12h0m-13 13h0m10 -12h0m4 1h0m-10 7h0m10 -9h0m1 2h0m1 5h0m-5 -4h0m-17 -3h0m14 7h0m-5 0h0m8 -6h0" stroke="#339a2c" stroke-width="4.3" stroke-linecap="round" fill="none"/>
<path d="M403 968h0m18 33h0m-21 3h0m11 -15h0m-21 -7h0m27 6h0m2 11h0m-3 -11h0m3 9h0m-2 -10h0m-31 -3h0m-3 5h0m36 13h0m-20 -11h0m-6 9h0m5 -24h0m25 10h0m-30 19h0m31 -14h0m-11 -5h0m-20 3h0m-10 10h0m21 -23h0m-14 -2h0m10 13h0m15 14h0m-8 -23h0m-3 28h0m-7 -22h0m15 23h0m-7 -1h0m-16 -30h0m13 -3h0m23 12h0m-29 -10h0m-6 0h0m0 5h0m12 10h0m16 -10h0m-35 -2h0m39 16h0m-26 -5h0m5 2h0m8 5h0m-13 -24h0m12 5h0m5 4h0m6 -8h0m-13 15h0m5 19h0m-21 -25h0m-6 17h0m17 -23h0m-5 -3h0m15 19h0m-10 7h0m6 6h0m15 -9h0m-20 1h0m-19 -7h0m11 18h0m20 -6h0m-7 -25h0m15 18h0m-18 10h0m-9 -33h0m-11 27h0m4 -28h0m24 21h0m2 -8h0m-18 9h0m19 -24h0m-34 30h0m33 -28h0m8 20h0m-21 6h0m16 -10h0m-6 5h0m1 -15h0m-15 16h0m3 -5h0m2 5h0m-9 7h0m20 -13h0m-16 2h0m20 14h0m-13 -34h0m5 40h0m-28 -25h0m27 -17h0m-24 26h0m34 4h0m-17 -23h0m15 8h0m-14 4h0m20 -6h0m-33 11h0m20 15h0m-18 0h0m18 -37h0m10 13h0m-18 22h0m12 -35h0m-9 8h0m2 28h0m6 -32h0m-26 23h0m25 1h0m-24 -15h0m16 22h0m-22 -21h0m46 -1h0m-22 11h0m-23 -11h0m4 5h0m27 16h0m-24 -25h0m14 30h0m13 -28h0m-3 -3h0m-28 8h0m19 25h0m9 -11h0m-8 3h0m-20 -17h0m-3 -8h0m28 18h0m-7 -24h0m-19 18h0m42 -4h0m-35 11h0m-7 -4h0m22 -15h0m-16 18h0m14 -13h0m-14 3h0m25 12h0m-1 -16h0m2 -1h0m-4 16h0m-15 2h0m-7 -15h0m29 16h0m-32 -1h0m39 -1h0m-32 -11h0m-13 4h0m28 -5h0m-2 -7h0m-4 13h0m-7 -17h0m10 13h0m1 5h0m-24 -8h0m32 18h0m-12 -7h0m-20 -6h0m36 0h0m-39 1h0m18 14h0m22 -10h0m-41 -10h0m28 15h0m1 3h0m16 -21h0m-41 14h0m15 -8h0m7 2h0m11 -4h0m-34 -8h0m19 16h0m0 -8h0m-13 -14h0m6 18h0m-4 5h0m32 5h0m-18 -25h0m4 15h0m10 5h0m-30 -19h0m22 7h0m3 -1h0m-7 20h0m-2 -15h0m8 19h0m-6 -11h0m-14 -4h0m-4 -9h0m-6 3h0m27 1h0m-31 3h0m13 12h0m2 -10h0m14 7h0m-7 -25h0m6 22h0m-13 -5h0m30 11h0m-24 -32h0m-9 33h0m13 -5h0m1 9h0m-29 0h0m13 5h0m-8 -1h0m2 -5h0m22 -2h0m-18 7h0m-17 -10h0m25 -1h0m-6 -1h0m31 8h0m-41 4h0m26 -11h0m-5 7h0m-13 -1h0m16 -8h0m-3 11h0m-27 -4h0m46 -2h0m0 6h0m-27 1h0m19 -4h0m12 2h0m-19 -9h0m-37 4h0m9 -3h0m18 12h0m-4 -12h0m7 5h0m7 7h0m9 -5h0m-10 -3h0m-19 7h0m5 2h0m-16 -5h0m24 0h0m14 -5h0m-18 7h0m19 -4h0m-3 -7h0m-17 -1h0m10 11h0m-19 0h0m22 0h0m3 -6h0m9 -1h0m4 5h0m-20 5h0m-30 -3h0m4 -9h0m35 -2h0m7 3h0m-4 2h0m-40 -1h0m22 -5h0m13 5h0m-13 -2h0m-3 5h0m17 -7h0m-51 4h0m7 5h0m-3 -1h0m-9 -4h0m10 3h0m0 4h0m10 -5h0m-14 3h0m-1 -6h0m0 1h0m-10 2h0m20 -2h0m-6 4h0m3 0h0m-1 -4h0m-9 5h0m8 -1h0m-12 -1h0m7 -2h0m-6 2h0m11 -1h0m-8 4h0m10 -6h0m4 2h0m-15 0h0m1 -2h0m-4 2h0m6 5h0m4 0h0m-1 -6h0" stroke="#9ab51e" stroke-width="4.3" stroke-linecap="round" fill="none"/>
<path d="M507 768h0m-22 -8h0m9 5h0m1 -5h0m9 18h0m-17 -20h0m19 10h0m-16 7h0m1 -12h0m5 0h0m-24 -6h0m30 3h0m19 16h0m-24 -17h0m16 15h0m-12 -16h0m-11 5h0m17 -7h0m-16 7h0m43 17h0m-60 -23h0m25 0h0m9 12h0m-14 -15h0m5 13h0m-21 -6h0m5 5h0m22 2h0m2 -2h0m-11 9h0m-4 -7h0m-1 -7h0m25 6h0m-5 -9h0m-22 -1h0m20 19h0m-18 -16h0m17 0h0m-6 17h0m15 -6h0m-18 -12h0m-3 3h0m13 10h0m-21 -7h0m25 4h0m-14 -4h0m-17 -8h0m21 24h0m1 -14h0m-6 2h0m15 -2h0m-12 5h0m-27 -10h0m22 8h0m5 -5h0m25 24h0m12 -1h0m-22 -11h0m-2 12h0m-2 5h0m17 -7h0m14 3h0m-21 2h0m16 -10h0m15 19h0m-39 -21h0m23 12h0m-7 16h0m2 -2h0m5 -21h0m9 3h0m-10 8h0m-16 -18h0m4 11h0m18 4h0m4 9h0m-24 -22h0m8 4h0m-6 9h0m4 3h0m-6 -18h0m-5 -10h0m5 18h0m3 1h0m29 1h0m-28 -5h0m-12 11h0m10 3h0m-14 0h0m46 -7h0m-28 -3h0m10 -7h0m-7 15h0m-4 -27h0m-6 14h0m17 4h0m-25 2h0m17 7h0m-5 1h0m13 -20h0m-10 18h0m-4 5h0m-3 -8h0m-7 -8h0m10 -5h0m-11 6h0m21 1h0m-18 -9h0m24 6h0m5 -2h0m-16 14h0m14 -4h0m-20 -16h0m15 17h0m-14 -8h0" stroke="#00ffc6" stroke-width="4.3" stroke-linecap="round" fill="none"/>
<path d="M58 622h0m11 15h0m-2 -28h0m17 38h0m0 -13h0m-11 -32h0m25 30h0m-43 -13h0m39 12h0m6 -16h0m-17 4h0m-1 8h0m12 -9h0m-27 4h0m7 -10h0m7 5h0m-32 15h0m7 -2h0m12 6h0m-5 -21h0m24 12h0m-19 -16h0m6 3h0m-8 -11h0m-6 9h0m11 21h0m-7 -30h0m-3 33h0m11 -15h0m3 27h0m-2 -2h0m-10 -36h0m20 30h0m4 -34h0m0 -4h0m-31 17h0m17 31h0m-9 -9h0m19 -6h0m-9 -32h0m25 16h0m-17 12h0m5 -1h0m-21 -1h0m14 -5h0m-1 16h0m1 3h0m-22 -6h0m7 4h0m7 8h0m-7 -29h0m31 21h0m0 -4h0m-27 -12h0m12 -2h0m-3 10h0m0 12h0m0 -1h0m9 -12h0m7 5h0m-26 2h0m1 9h0m-14 -35h0m27 23h0m-1 -15h0m-26 -5h0m23 2h0m12 21h0m-6 -33h0m-18 25h0m-3 14h0m25 -31h0m-34 19h0m16 10h0m-14 -5h0m2 -23h0m18 29h0m-20 -19h0m14 9h0m20 6h0m-11 -14h0m4 -16h0m12 1h0m-26 37h0m8 -47h0m-22 36h0m4 9h0m10 4h0m-3 -11h0m-5 3h0m22 -10h0m2 -26h0m-24 26h0m23 16h0m-18 -18h0m-2 -3h0m11 -23h0m11 38h0m-33 -17h0m24 -20h0m0 15h0m11 21h0m-25 -3h0m8 -24h0m-9 31h0m0 -39h0m11 40h0m-6 -6h0m18 -10h0m-10 -5h0m-7 23h0m23 -14h0m-18 9h0m8 -5h0m-19 -1h0m34 -18h0m-5 -2h0m-3 -12h0m-9 9h0m4 6h0m5 26h0m-25 -21h0m15 -14h0m19 6h0m-26 5h0m17 17h0m-22 -2h0m19 11h0m-8 -42h0m5 1h0m-25 31h0m43 -13h0m-12 -7h0m-10 4h0m16 -6h0m-19 -8h0m13 16h0m-16 23h0m20 -6h0m-3 -38h0m-3 -1h0m-12 36h0m-13 -22h0m34 21h0m-18 -9h0m23 -7h0m-9 -11h0m-9 28h0m-22 -33h0m10 3h0m-8 15h0m-12 2h0m14 -23h0m22 25h0m16 -8h0m-36 -1h0m-14 10h0m19 15h0m0 6h0m-17 -41h0m24 25h0m-9 -25h0m28 29h0m-35 -1h0m11 0h0m21 -11h0m-21 -5h0m11 -2h0m-29 23h0m21 8h0m-15 -43h0m19 23h0m8 -21h0m-32 16h0m9 -18h0m4 33h0m-9 -16h0m-10 -8h0m8 -5h0m23 -5h0m-24 28h0m4 -2h0m-3 2h0m43 -2h0m-44 11h0m26 -21h0m-19 -17h0m-5 36h0m26 -34h0m-12 34h0m-21 -2h0m18 6h0m-17 -6h0m27 -7h0m-23 -14h0m27 18h0m-26 -5h0m18 -20h0m16 3h0m-22 4h0m-9 20h0m19 2h0m-9 7h0m2 -8h0m-6 -26h0m10 0h0m15 33h0m-25 -18h0m9 -13h0m-9 -12h0m21 33h0m-35 -20h0m29 7h0m0 -5h0m-5 28h0m4 -29h0m8 8h0m1 -5h0m0 -9h0m-7 22h0m-15 -4h0m-3 -17h0m26 -2h0m-4 -4h0m-30 30h0m8 2h0m2 -36h0m5 38h0m-19 -3h0m37 -29h0m-19 39h0m16 -36h0m0 19h0m6 6h0m-20 -8h0m-10 -25h0m15 42h0m16 -23h0m-41 -11h0m45 26h0m-22 3h0m16 -33h0m3 35h0m-9 -14h0m-11 15h0m17 -14h0m-11 16h0m-29 -18h0m32 -15h0m-31 20h0m1 -13h0m36 19h0m-18 -8h0m-5 -15h0m-9 13h0m39 -10h0m-37 16h0m28 -14h0m-12 11h0m-11 -25h0m12 4h0m18 12h0m-8 25h0m-29 -35h0m30 9h0m-28 5h0m37 -2h0m-1 -11h0m-24 24h0m-15 -10h0m12 10h0m9 -19h0m19 15h0m-29 -22h0m25 15h0m6 8h0m-23 -11h0m2 15h0m-9 -15h0m9 1h0m23 -26h0m-7 12h0m-15 -9h0m26 -8h0m-1 -1h0m-16 6h0m-6 3h0m13 13h0m-13 -15h0m23 -6h0m-13 -3h0m8 3h0m-15 2h0m19 11h0m-5 2h0m-8 -5h0m17 -10h0m-23 9h0m24 -6h0m-22 6h0m6 -12h0m-3 0h0m20 12h0m-26 3h0m-5 -10h0m23 5h0m-1 -10h0m-6 16h0m-4 5h0m3 -10h0m-2 3h0m-8 7h0m-3 -15h0m17 6h0m-8 1h0m10 0h0m11 -1h0m-9 -9h0m8 13h0m-23 -14h0m10 -3h0m4 14h0m7 4h0m-3 -5h0m0 -9h0m-17 9h0m13 5h0m10 -8h0m-20 -1h0m9 -1h0m3 8h0m-15 -7h0m8 -10h0m-17 17h0m0 -4h0m27 3h0m-8 8h0m-4 0h0m-12 -7h0m27 -3h0m1 6h0m-27 -13h0m15 6h0m-4 12h0m-12 -14h0m-3 2h0m17 -8h0m-9 7h0m-5 0h0m21 3h0m6 -1h0m-26 3h0m23 4h0m-12 -6h0m10 8h0m-7 -15h0m-5 14h0m-4 -16h0m-8 -1h0m10 -4h0m-25 53h0m-8 7h0m-4 -11h0m15 13h0m-17 2h0m15 -1h0m-4 -5h0m-3 2h0m-3 0h0m7 -3h0m-12 -7h0m-1 -1h0m8 14h0m-12 -2h0m13 -1h0m9 1h0m4 -6h0m0 -1h0m-15 3h0m9 -9h0m-22 9h0m24 -1h0m-15 -3h0m15 -2h0m-18 4h0m-1 -1h0m1 -4h0m17 0h0m-3 9h0m-6 -8h0m-1 -3h0m18 9h0m-20 4h0m3 -7h0m-8 9h0m4 -9h0m14 3h0m-4 -6h0m-2 9h0m-15 -2h0" stroke="#c200ff" stroke-width="4.3" stroke-linecap="round" fill="none"/>
<path d="M135 578h0m4 -9h0m-9 21h0m6 5h0m5 -17h0m-1 -8h0m-4 2h0m-6 13h0m2 4h0m5 -3h0m-21 25h0m19 -8h0m-5 -11h0m-8 0h0m16 -5h0m2 -20h0m-7 26h0m11 -21h0m-15 14h0m-3 4h0m5 -1h0m0 3h0m1 -7h0m0 -10h0m-17 38h0m17 -16h0m-9 7h0m10 -16h0m-1 3h0m-6 5h0m7 -4h0m-11 7h0m9 5h0m-14 1h0m6 -12h0m2 4h0m4 -11h0m-14 23h0m1 -4h0m20 -22h0m-1 0h0m-4 4h0m10 -8h0m-18 13h0m13 -4h0m-1 1h0m-2 -10h0m-4 1h0m-1 20h0m15 -34h0m-18 33h0m0 -12h0m11 -12h0m-4 20h0m5 -11h0m-12 8h0m-9 15h0m16 -23h0m-12 20h0m3 -3h0m1 -13h0m7 2h0m-1 -4h0m-8 11h0m1 -6h0m7 -7h0m-3 3h0m1 18h0m14 -31h0m-9 15h0m-11 3h0m10 -7h0m3 2h0m0 -12h0m9 -4h0m-6 -3h0m8 -7h0m-5 6h0m0 5h0m-7 -4h0m15 2h0m-7 1h0m4 5h0m1 -2h0m-2 -7h0m4 3h0m-12 0h0m0 3h0m9 4h0m-5 -7h0m-1 -3h0m-2 12h0m-1 -9h0m8 3h0" stroke="#9a520e" stroke-width="4.3" stroke-linecap="round" fill="none"/>
<path d="M208 594h0m-7 15h0m2 -10h0m5 -13h0m-3 9h0m2 3h0m-8 7h0m0 -9h0m5 -1h0m0 12h0m0 -12h0m2 9h0m0 -2h0m-1 -6h0m-3 7h0m13 3h0m-17 -6h0m7 1h0m-8 5h0m18 -5h0m-13 0h0m-5 -1h0" stroke="#cebcea" stroke-width="4.3" stroke-linecap="round" fill="none"/>
<path d="M259 642h0m2 -2h0m14 -27h0m-8 23h0m-10 4h0m8 -15h0m-10 13h0m19 -13h0m-5 11h0m0 -7h0m-1 10h0m4 -9h0m-6 4h0m1 -7h0m0 -3h0" stroke="#ffdab8" stroke-width="4.3" stroke-linecap="round" fill="none"/>
<path d="M192 785h0m-39 -44h0m80 31h0m71 87h0m41 -51h0m-22 -81h0m-161 109h0m75 -124h0m54 41h0m-98 53h0m62 -125h0m93 132h0m44 -68h0m-133 33h0m46 -26h0m-36 53h0m1 -10h0m-24 25h0m101 -52h0m-132 -11h0m80 3h0m-73 -87h0m149 136h0m-56 2h0m11 42h0m-29 -42h0m-42 28h0m25 -90h0m-24 68h0m-76 29h0m161 46h0m-68 -69h0m-44 -144h0m64 63h0m79 74h0m-224 -65h0m53 17h0m69 45h0m-109 12h0m19 -68h0m114 30h0m-16 -67h0m67 -13h0m13 47h0m-218 31h0m14 -35h0m97 103h0m102 -24h0m-116 -156h0m6 94h0" stroke="#f5a0a8" stroke-width="4.3" stroke-linecap="round" fill="none"/>
<path d="M181 784h0m102 -31h0m-6 155h0m-60 -123h0m188 -8h0m-65 10h0m-70 66h0m6 18h0m119 -135h0m-91 -58h0m101 91h0m-179 -49h0m-52 160h0m83 -118h0m123 54h0m-173 -13h0m70 -58h0m14 -13h0m-98 -42h0m87 42h0m-70 169h0m50 -114h0m113 47h0m-102 -58h0m1 46h0m-24 81h0m38 -42h0m-59 -59h0m102 72h0m-7 -49h0m-34 -53h0m-59 -78h0m58 89h0m2 -93h0m-71 49h0" stroke="#ff6600" stroke-width="4.3" stroke-linecap="round" fill="none"/>
<path d="M395 796h0m-200 -28h0m-24 -22h0m121 -14h0m75 -21h0m-25 106h0m-120 -51h0m-47 119h0m200 -123h0m-84 38h0m-24 56h0m-47 -81h0m171 5h0m-240 55h0m104 -91h0m70 -16h0m-169 41h0m87 25h0" stroke="#0039ff" stroke-width="4.3" stroke-linecap="round" fill="none"/>
<path d="M325 849h0m76 -41h0m-159 40h0m11 -96h0m-40 112h0m-72 -102h0" stroke="#560082" stroke-width="4.3" stroke-linecap="round" fill="none"/>
<rect x="27.5" y="558" width="198.5" height="99.5" fill="none" stroke="#000" stroke-width="3"/>
<path d="M43.3 807V1000H233" fill="none" stroke="#000" stroke-width="2.4"/>
<path d="M36 822L43.3 806L50.6 822Z M224 993L240 1000L224 1007Z"/>
<text x="88.5" y="989.5" font-size="30">tSNE 1</text>
<text x="0" y="0" font-size="30" transform="translate(77 942.5) rotate(-90)">tSNE 2</text>
<rect x="560.2" y="614.5" width="24.6" height="24.2" fill="#339a2c"/>
<text x="596.3" y="634" font-size="20.6">Basal colonies</text>
<rect x="560.2" y="640.1" width="24.6" height="24.2" fill="#00ffc6"/>
<text x="596.3" y="659.6" font-size="20.6">Basal sub-confluent proliferating</text>
<rect x="560.2" y="665.7" width="24.6" height="24.2" fill="#9ab51e"/>
<text x="596.3" y="685.2" font-size="20.6">Basal confluent</text>
<rect x="560.2" y="691.3" width="24.6" height="24.2" fill="#560082"/>
<text x="596.3" y="710.8" font-size="20.6">Basal, proliferating within epithelium</text>
<rect x="560.2" y="716.9" width="24.6" height="24.2" fill="#0039ff"/>
<text x="596.3" y="736.4" font-size="20.6">Basal, differentiating</text>
<rect x="560.2" y="742.5" width="24.6" height="24.2" fill="#f5a0a8"/>
<text x="596.3" y="762" font-size="20.6">Secretory cell 1</text>
<rect x="560.2" y="768.1" width="24.6" height="24.2" fill="#ff6600"/>
<text x="596.3" y="787.6" font-size="20.6">Secretory cell 2</text>
<rect x="560.2" y="793.7" width="24.6" height="24.2" fill="#cebcea"/>
<text x="596.3" y="813.2" font-size="20.6"><tspan font-style="italic">FOXN4</tspan><tspan font-size="14" dy="-8">+</tspan><tspan dy="8"> early ciliating cell</tspan></text>
<rect x="560.2" y="819.3" width="24.6" height="24.2" fill="#c200ff"/>
<text x="596.3" y="838.8" font-size="20.6">Later ciliating</text>
<rect x="560.2" y="844.9" width="24.6" height="24.2" fill="#9a520e"/>
<text x="596.3" y="864.4" font-size="20.6">Mature ciliated</text>
<rect x="560.2" y="870.5" width="24.6" height="24.2" fill="#ffdab8"/>
<text x="596.3" y="890" font-size="20.6">Rare cells</text>
<text x="950.4" y="545.5" font-size="43" font-weight="bold">c</text>
<path d="M1091.2 565.3V851M1085.5 565.3H1091.2M1085.5 622.4H1091.2M1085.5 679.6H1091.2M1085.5 736.7H1091.2M1085.5 793.9H1091.2M1085.5 851H1091.2" stroke="#000" stroke-width="2.2" fill="none"/>
<text x="1072" y="862.5" font-size="24.5" text-anchor="end">0%</text>
<text x="1072" y="805.4" font-size="24.5" text-anchor="end">20%</text>
<text x="1072" y="748.2" font-size="24.5" text-anchor="end">40%</text>
<text x="1072" y="691.1" font-size="24.5" text-anchor="end">60%</text>
<text x="1072" y="633.9" font-size="24.5" text-anchor="end">80%</text>
<text x="1072" y="576.8" font-size="24.5" text-anchor="end">100%</text>
<text x="0" y="0" font-size="24.7" text-anchor="middle" transform="translate(993 715.5) rotate(-90)">Percentage of cells</text>
<rect x="1106.5" y="574.2" width="30.6" height="276.8" fill="#339a2c" stroke="#000" stroke-width="1.8"/>
<rect x="1106.5" y="571.6" width="30.6" height="2.6" fill="#560082" stroke="#000" stroke-width="1.8"/>
<rect x="1106.5" y="566.7" width="30.6" height="4.9" fill="#f5a0a8" stroke="#000" stroke-width="1.8"/>
<rect x="1106.5" y="565.3" width="30.6" height="1.4" fill="#ff6600" stroke="#000" stroke-width="1.8"/>
<rect x="1107.4" y="860.6" width="27" height="26.8" fill="#000000"/>
<text x="1121.8" y="918" font-size="24" text-anchor="middle">–5</text>
<rect x="1151.6" y="583.3" width="30.6" height="267.7" fill="#00ffc6" stroke="#000" stroke-width="1.8"/>
<rect x="1151.6" y="578.7" width="30.6" height="4.6" fill="#000" stroke="#000" stroke-width="1.8"/>
<rect x="1151.6" y="567.6" width="30.6" height="11.1" fill="#f5a0a8" stroke="#000" stroke-width="1.8"/>
<rect x="1151.6" y="565.3" width="30.6" height="2.3" fill="#222" stroke="#000" stroke-width="1.8"/>
<rect x="1152.5" y="860.6" width="27" height="26.8" fill="#666666"/>
<text x="1166.9" y="918" font-size="24" text-anchor="middle">–2</text>
<rect x="1196.6" y="573.3" width="30.6" height="277.7" fill="#9ab51e" stroke="#000" stroke-width="1.8"/>
<rect x="1196.6" y="571" width="30.6" height="2.3" fill="#560082" stroke="#000" stroke-width="1.8"/>
<rect x="1196.6" y="568.2" width="30.6" height="2.9" fill="#f5a0a8" stroke="#000" stroke-width="1.8"/>
<rect x="1196.6" y="566.2" width="30.6" height="2" fill="#ff6600" stroke="#000" stroke-width="1.8"/>
<rect x="1196.6" y="565.3" width="30.6" height="0.9" fill="#222" stroke="#000" stroke-width="1.8"/>
<rect x="1197.5" y="860.6" width="27" height="26.8" fill="#b3b3b3"/>
<text x="1211.9" y="918" font-size="24" text-anchor="middle">0</text>
<rect x="1241.7" y="849.3" width="30.6" height="1.7" fill="#000" stroke="#000" stroke-width="1.8"/>
<rect x="1241.7" y="842.4" width="30.6" height="6.9" fill="#9ab51e" stroke="#000" stroke-width="1.8"/>
<rect x="1241.7" y="730.1" width="30.6" height="112.3" fill="#560082" stroke="#000" stroke-width="1.8"/>
<rect x="1241.7" y="659.6" width="30.6" height="70.6" fill="#0039ff" stroke="#000" stroke-width="1.8"/>
<rect x="1241.7" y="623.6" width="30.6" height="36" fill="#f5a0a8" stroke="#000" stroke-width="1.8"/>
<rect x="1241.7" y="565.3" width="30.6" height="58.3" fill="#ff6600" stroke="#000" stroke-width="1.8"/>
<rect x="1242.6" y="860.6" width="27" height="26.8" fill="#0000ff"/>
<text x="1257" y="918" font-size="24" text-anchor="middle">1</text>
<rect x="1286.8" y="849.3" width="30.6" height="1.7" fill="#000" stroke="#000" stroke-width="1.8"/>
<rect x="1286.8" y="844.7" width="30.6" height="4.6" fill="#9ab51e" stroke="#000" stroke-width="1.8"/>
<rect x="1286.8" y="792.1" width="30.6" height="52.6" fill="#560082" stroke="#000" stroke-width="1.8"/>
<rect x="1286.8" y="680.7" width="30.6" height="111.4" fill="#0039ff" stroke="#000" stroke-width="1.8"/>
<rect x="1286.8" y="638.2" width="30.6" height="42.6" fill="#f5a0a8" stroke="#000" stroke-width="1.8"/>
<rect x="1286.8" y="565.3" width="30.6" height="72.9" fill="#ff6600" stroke="#000" stroke-width="1.8"/>
<rect x="1287.7" y="860.6" width="27" height="26.8" fill="#2020ff"/>
<text x="1302.1" y="918" font-size="24" text-anchor="middle">2</text>
<rect x="1331.8" y="808.7" width="30.6" height="42.3" fill="#560082" stroke="#000" stroke-width="1.8"/>
<rect x="1331.8" y="727.6" width="30.6" height="81.1" fill="#0039ff" stroke="#000" stroke-width="1.8"/>
<rect x="1331.8" y="647.3" width="30.6" height="80.3" fill="#f5a0a8" stroke="#000" stroke-width="1.8"/>
<rect x="1331.8" y="570.7" width="30.6" height="76.6" fill="#ff6600" stroke="#000" stroke-width="1.8"/>
<rect x="1331.8" y="566.4" width="30.6" height="4.3" fill="#cebcea" stroke="#000" stroke-width="1.8"/>
<rect x="1331.8" y="565.3" width="30.6" height="1.1" fill="#222" stroke="#000" stroke-width="1.8"/>
<rect x="1332.8" y="860.6" width="27" height="26.8" fill="#4040ff"/>
<text x="1347.1" y="918" font-size="24" text-anchor="middle">4</text>
<rect x="1376.9" y="793.3" width="30.6" height="57.7" fill="#560082" stroke="#000" stroke-width="1.8"/>
<rect x="1376.9" y="739.6" width="30.6" height="53.7" fill="#0039ff" stroke="#000" stroke-width="1.8"/>
<rect x="1376.9" y="631" width="30.6" height="108.6" fill="#f5a0a8" stroke="#000" stroke-width="1.8"/>
<rect x="1376.9" y="568.7" width="30.6" height="62.3" fill="#ff6600" stroke="#000" stroke-width="1.8"/>
<rect x="1376.9" y="566.7" width="30.6" height="2" fill="#cebcea" stroke="#000" stroke-width="1.8"/>
<rect x="1376.9" y="565.3" width="30.6" height="1.4" fill="#222" stroke="#000" stroke-width="1.8"/>
<rect x="1377.8" y="860.6" width="27" height="26.8" fill="#6060ff"/>
<text x="1392.2" y="918" font-size="24" text-anchor="middle">5</text>
<rect x="1422" y="841.9" width="30.6" height="9.1" fill="#560082" stroke="#000" stroke-width="1.8"/>
<rect x="1422" y="771.6" width="30.6" height="70.3" fill="#0039ff" stroke="#000" stroke-width="1.8"/>
<rect x="1422" y="605.6" width="30.6" height="166" fill="#f5a0a8" stroke="#000" stroke-width="1.8"/>
<rect x="1422" y="576.2" width="30.6" height="29.4" fill="#ff6600" stroke="#000" stroke-width="1.8"/>
<rect x="1422" y="574.4" width="30.6" height="1.7" fill="#9a520e" stroke="#000" stroke-width="1.8"/>
<rect x="1422" y="568.7" width="30.6" height="5.7" fill="#c200ff" stroke="#000" stroke-width="1.8"/>
<rect x="1422" y="566.4" width="30.6" height="2.3" fill="#cebcea" stroke="#000" stroke-width="1.8"/>
<rect x="1422" y="565.3" width="30.6" height="1.1" fill="#222" stroke="#000" stroke-width="1.8"/>
<rect x="1422.9" y="860.6" width="27" height="26.8" fill="#8080ff"/>
<text x="1437.3" y="918" font-size="24" text-anchor="middle">7</text>
<rect x="1467.1" y="836.4" width="30.6" height="14.6" fill="#560082" stroke="#000" stroke-width="1.8"/>
<rect x="1467.1" y="800.1" width="30.6" height="36.3" fill="#0039ff" stroke="#000" stroke-width="1.8"/>
<rect x="1467.1" y="617.6" width="30.6" height="182.6" fill="#f5a0a8" stroke="#000" stroke-width="1.8"/>
<rect x="1467.1" y="582.7" width="30.6" height="34.9" fill="#ff6600" stroke="#000" stroke-width="1.8"/>
<rect x="1467.1" y="578.7" width="30.6" height="4" fill="#9a520e" stroke="#000" stroke-width="1.8"/>
<rect x="1467.1" y="569.3" width="30.6" height="9.4" fill="#c200ff" stroke="#000" stroke-width="1.8"/>
<rect x="1467.1" y="565.3" width="30.6" height="4" fill="#222" stroke="#000" stroke-width="1.8"/>
<rect x="1468" y="860.6" width="27" height="26.8" fill="#9f9fff"/>
<text x="1482.4" y="918" font-size="24" text-anchor="middle">9</text>
<rect x="1512.1" y="835.9" width="30.6" height="15.1" fill="#560082" stroke="#000" stroke-width="1.8"/>
<rect x="1512.1" y="805" width="30.6" height="30.9" fill="#0039ff" stroke="#000" stroke-width="1.8"/>
<rect x="1512.1" y="638.7" width="30.6" height="166.3" fill="#f5a0a8" stroke="#000" stroke-width="1.8"/>
<rect x="1512.1" y="591.6" width="30.6" height="47.1" fill="#ff6600" stroke="#000" stroke-width="1.8"/>
<rect x="1512.1" y="588.4" width="30.6" height="3.1" fill="#9a520e" stroke="#000" stroke-width="1.8"/>
<rect x="1512.1" y="569.3" width="30.6" height="19.1" fill="#c200ff" stroke="#000" stroke-width="1.8"/>
<rect x="1512.1" y="565.3" width="30.6" height="4" fill="#222" stroke="#000" stroke-width="1.8"/>
<rect x="1513" y="860.6" width="27" height="26.8" fill="#bfbfff"/>
<text x="1527.4" y="918" font-size="24" text-anchor="middle">11</text>
<rect x="1557.2" y="849.6" width="30.6" height="1.4" fill="#9ab51e" stroke="#000" stroke-width="1.8"/>
<rect x="1557.2" y="835.9" width="30.6" height="13.7" fill="#560082" stroke="#000" stroke-width="1.8"/>
<rect x="1557.2" y="819.9" width="30.6" height="16" fill="#0039ff" stroke="#000" stroke-width="1.8"/>
<rect x="1557.2" y="691" width="30.6" height="128.9" fill="#f5a0a8" stroke="#000" stroke-width="1.8"/>
<rect x="1557.2" y="599.9" width="30.6" height="91.1" fill="#ff6600" stroke="#000" stroke-width="1.8"/>
<rect x="1557.2" y="594.2" width="30.6" height="5.7" fill="#9a520e" stroke="#000" stroke-width="1.8"/>
<rect x="1557.2" y="576.7" width="30.6" height="17.4" fill="#c200ff" stroke="#000" stroke-width="1.8"/>
<rect x="1557.2" y="568.2" width="30.6" height="8.6" fill="#cebcea" stroke="#000" stroke-width="1.8"/>
<rect x="1557.2" y="565.3" width="30.6" height="2.9" fill="#222" stroke="#000" stroke-width="1.8"/>
<rect x="1558.1" y="860.6" width="27" height="26.8" fill="#dfdfff"/>
<text x="1572.5" y="918" font-size="24" text-anchor="middle">12</text>
<rect x="1602.3" y="845" width="30.6" height="6" fill="#560082" stroke="#000" stroke-width="1.8"/>
<rect x="1602.3" y="835.9" width="30.6" height="9.1" fill="#0039ff" stroke="#000" stroke-width="1.8"/>
<rect x="1602.3" y="654.7" width="30.6" height="181.1" fill="#f5a0a8" stroke="#000" stroke-width="1.8"/>
<rect x="1602.3" y="591.6" width="30.6" height="63.1" fill="#ff6600" stroke="#000" stroke-width="1.8"/>
<rect x="1602.3" y="582.7" width="30.6" height="8.9" fill="#9a520e" stroke="#000" stroke-width="1.8"/>
<rect x="1602.3" y="574.7" width="30.6" height="8" fill="#c200ff" stroke="#000" stroke-width="1.8"/>
<rect x="1602.3" y="569.3" width="30.6" height="5.4" fill="#cebcea" stroke="#000" stroke-width="1.8"/>
<rect x="1602.3" y="565.3" width="30.6" height="4" fill="#ffdab8" stroke="#000" stroke-width="1.8"/>
<rect x="1603.2" y="860.6" width="27" height="26.8" fill="#ffdfdf"/>
<text x="1617.6" y="918" font-size="24" text-anchor="middle">14</text>
<rect x="1647.3" y="847.9" width="30.6" height="3.1" fill="#560082" stroke="#000" stroke-width="1.8"/>
<rect x="1647.3" y="838.1" width="30.6" height="9.7" fill="#0039ff" stroke="#000" stroke-width="1.8"/>
<rect x="1647.3" y="680.2" width="30.6" height="158" fill="#f5a0a8" stroke="#000" stroke-width="1.8"/>
<rect x="1647.3" y="611" width="30.6" height="69.1" fill="#ff6600" stroke="#000" stroke-width="1.8"/>
<rect x="1647.3" y="604.7" width="30.6" height="6.3" fill="#9a520e" stroke="#000" stroke-width="1.8"/>
<rect x="1647.3" y="573.9" width="30.6" height="30.9" fill="#c200ff" stroke="#000" stroke-width="1.8"/>
<rect x="1647.3" y="568.4" width="30.6" height="5.4" fill="#cebcea" stroke="#000" stroke-width="1.8"/>
<rect x="1647.3" y="565.3" width="30.6" height="3.1" fill="#222" stroke="#000" stroke-width="1.8"/>
<rect x="1648.2" y="860.6" width="27" height="26.8" fill="#ffc2c2"/>
<text x="1662.6" y="918" font-size="24" text-anchor="middle">16</text>
<rect x="1692.4" y="846.1" width="30.6" height="4.9" fill="#560082" stroke="#000" stroke-width="1.8"/>
<rect x="1692.4" y="835" width="30.6" height="11.1" fill="#0039ff" stroke="#000" stroke-width="1.8"/>
<rect x="1692.4" y="659.9" width="30.6" height="175.1" fill="#f5a0a8" stroke="#000" stroke-width="1.8"/>
<rect x="1692.4" y="613.6" width="30.6" height="46.3" fill="#ff6600" stroke="#000" stroke-width="1.8"/>
<rect x="1692.4" y="598.7" width="30.6" height="14.9" fill="#9a520e" stroke="#000" stroke-width="1.8"/>
<rect x="1692.4" y="570.7" width="30.6" height="28" fill="#c200ff" stroke="#000" stroke-width="1.8"/>
<rect x="1692.4" y="568.2" width="30.6" height="2.6" fill="#cebcea" stroke="#000" stroke-width="1.8"/>
<rect x="1692.4" y="565.3" width="30.6" height="2.9" fill="#222" stroke="#000" stroke-width="1.8"/>
<rect x="1693.3" y="860.6" width="27" height="26.8" fill="#ffa8a8"/>
<text x="1707.7" y="918" font-size="24" text-anchor="middle">18</text>
<rect x="1737.5" y="849.3" width="30.6" height="1.7" fill="#9ab51e" stroke="#000" stroke-width="1.8"/>
<rect x="1737.5" y="844.4" width="30.6" height="4.9" fill="#560082" stroke="#000" stroke-width="1.8"/>
<rect x="1737.5" y="826.1" width="30.6" height="18.3" fill="#0039ff" stroke="#000" stroke-width="1.8"/>
<rect x="1737.5" y="703.3" width="30.6" height="122.9" fill="#f5a0a8" stroke="#000" stroke-width="1.8"/>
<rect x="1737.5" y="611.9" width="30.6" height="91.4" fill="#ff6600" stroke="#000" stroke-width="1.8"/>
<rect x="1737.5" y="603.6" width="30.6" height="8.3" fill="#9a520e" stroke="#000" stroke-width="1.8"/>
<rect x="1737.5" y="580.4" width="30.6" height="23.1" fill="#c200ff" stroke="#000" stroke-width="1.8"/>
<rect x="1737.5" y="573" width="30.6" height="7.4" fill="#cebcea" stroke="#000" stroke-width="1.8"/>
<rect x="1737.5" y="565.3" width="30.6" height="7.7" fill="#ffdab8" stroke="#000" stroke-width="1.8"/>
<rect x="1738.4" y="860.6" width="27" height="26.8" fill="#ff8c8c"/>
<text x="1752.8" y="918" font-size="24" text-anchor="middle">21</text>
<rect x="1782.5" y="843" width="30.6" height="8" fill="#560082" stroke="#000" stroke-width="1.8"/>
<rect x="1782.5" y="833.9" width="30.6" height="9.1" fill="#0039ff" stroke="#000" stroke-width="1.8"/>
<rect x="1782.5" y="687.6" width="30.6" height="146.3" fill="#f5a0a8" stroke="#000" stroke-width="1.8"/>
<rect x="1782.5" y="624.4" width="30.6" height="63.1" fill="#ff6600" stroke="#000" stroke-width="1.8"/>
<rect x="1782.5" y="608.4" width="30.6" height="16" fill="#9a520e" stroke="#000" stroke-width="1.8"/>
<rect x="1782.5" y="572.4" width="30.6" height="36" fill="#c200ff" stroke="#000" stroke-width="1.8"/>
<rect x="1782.5" y="568.4" width="30.6" height="4" fill="#cebcea" stroke="#000" stroke-width="1.8"/>
<rect x="1782.5" y="565.3" width="30.6" height="3.1" fill="#222" stroke="#000" stroke-width="1.8"/>
<rect x="1783.5" y="860.6" width="27" height="26.8" fill="#ff7070"/>
<text x="1797.8" y="918" font-size="24" text-anchor="middle">23</text>
<rect x="1827.6" y="843" width="30.6" height="8" fill="#560082" stroke="#000" stroke-width="1.8"/>
<rect x="1827.6" y="822.7" width="30.6" height="20.3" fill="#0039ff" stroke="#000" stroke-width="1.8"/>
<rect x="1827.6" y="685" width="30.6" height="137.7" fill="#f5a0a8" stroke="#000" stroke-width="1.8"/>
<rect x="1827.6" y="613.3" width="30.6" height="71.7" fill="#ff6600" stroke="#000" stroke-width="1.8"/>
<rect x="1827.6" y="601.3" width="30.6" height="12" fill="#9a520e" stroke="#000" stroke-width="1.8"/>
<rect x="1827.6" y="571" width="30.6" height="30.3" fill="#c200ff" stroke="#000" stroke-width="1.8"/>
<rect x="1827.6" y="565.3" width="30.6" height="5.7" fill="#ffdab8" stroke="#000" stroke-width="1.8"/>
<rect x="1828.5" y="860.6" width="27" height="26.8" fill="#ff5555"/>
<text x="1842.9" y="918" font-size="24" text-anchor="middle">25</text>
<rect x="1872.7" y="848.7" width="30.6" height="2.3" fill="#000" stroke="#000" stroke-width="1.8"/>
<rect x="1872.7" y="844.4" width="30.6" height="4.3" fill="#0039ff" stroke="#000" stroke-width="1.8"/>
<rect x="1872.7" y="703.6" width="30.6" height="140.9" fill="#f5a0a8" stroke="#000" stroke-width="1.8"/>
<rect x="1872.7" y="651.9" width="30.6" height="51.7" fill="#ff6600" stroke="#000" stroke-width="1.8"/>
<rect x="1872.7" y="623.9" width="30.6" height="28" fill="#9a520e" stroke="#000" stroke-width="1.8"/>
<rect x="1872.7" y="578.2" width="30.6" height="45.7" fill="#c200ff" stroke="#000" stroke-width="1.8"/>
<rect x="1872.7" y="573" width="30.6" height="5.1" fill="#cebcea" stroke="#000" stroke-width="1.8"/>
<rect x="1872.7" y="565.3" width="30.6" height="7.7" fill="#ffdab8" stroke="#000" stroke-width="1.8"/>
<rect x="1873.6" y="860.6" width="27" height="26.8" fill="#ff3939"/>
<text x="1888" y="918" font-size="24" text-anchor="middle">28</text>
<rect x="1917.8" y="847.9" width="30.6" height="3.1" fill="#000" stroke="#000" stroke-width="1.8"/>
<rect x="1917.8" y="840.7" width="30.6" height="7.1" fill="#0039ff" stroke="#000" stroke-width="1.8"/>
<rect x="1917.8" y="686.7" width="30.6" height="154" fill="#f5a0a8" stroke="#000" stroke-width="1.8"/>
<rect x="1917.8" y="638.4" width="30.6" height="48.3" fill="#ff6600" stroke="#000" stroke-width="1.8"/>
<rect x="1917.8" y="625" width="30.6" height="13.4" fill="#9a520e" stroke="#000" stroke-width="1.8"/>
<rect x="1917.8" y="573" width="30.6" height="52" fill="#c200ff" stroke="#000" stroke-width="1.8"/>
<rect x="1917.8" y="569.3" width="30.6" height="3.7" fill="#cebcea" stroke="#000" stroke-width="1.8"/>
<rect x="1917.8" y="565.3" width="30.6" height="4" fill="#ffdab8" stroke="#000" stroke-width="1.8"/>
<rect x="1918.7" y="860.6" width="27" height="26.8" fill="#ff1c1c"/>
<text x="1933.1" y="918" font-size="24" text-anchor="middle">30</text>
<rect x="1962.8" y="848.7" width="30.6" height="2.3" fill="#000" stroke="#000" stroke-width="1.8"/>
<rect x="1962.8" y="843.9" width="30.6" height="4.9" fill="#0039ff" stroke="#000" stroke-width="1.8"/>
<rect x="1962.8" y="704.7" width="30.6" height="139.1" fill="#f5a0a8" stroke="#000" stroke-width="1.8"/>
<rect x="1962.8" y="651.9" width="30.6" height="52.9" fill="#ff6600" stroke="#000" stroke-width="1.8"/>
<rect x="1962.8" y="628.2" width="30.6" height="23.7" fill="#9a520e" stroke="#000" stroke-width="1.8"/>
<rect x="1962.8" y="572.4" width="30.6" height="55.7" fill="#c200ff" stroke="#000" stroke-width="1.8"/>
<rect x="1962.8" y="569.3" width="30.6" height="3.1" fill="#cebcea" stroke="#000" stroke-width="1.8"/>
<rect x="1962.8" y="565.3" width="30.6" height="4" fill="#ffdab8" stroke="#000" stroke-width="1.8"/>
<rect x="1963.7" y="860.6" width="27" height="26.8" fill="#ff0000"/>
<text x="1978.1" y="918" font-size="24" text-anchor="middle">32</text>
<text x="1548" y="957.8" font-size="24.8" text-anchor="middle">Sample day</text>
<text x="12.4" y="1132.2" font-size="43" font-weight="bold">d</text>
<path d="M307.5 1120V1180" stroke="#000" stroke-width="3"/><path d="M301.5 1178H313.5L307.5 1191Z"/>
<text x="97" y="1292" font-size="28.3" text-anchor="middle">Early</text>
<text x="97" y="1322.7" font-size="28.3" text-anchor="middle">ciliating</text>
<text x="276" y="1292" font-size="28.3" text-anchor="middle">Later</text>
<text x="276" y="1322.7" font-size="28.3" text-anchor="middle">ciliating</text>
<text x="484.5" y="1292" font-size="28.3" text-anchor="middle">Mature</text>
<path transform="translate(69.7 1351)" d="M2 4.5Q25 -1.5 50 0.5Q54 1 53.5 8Q53 30 60 60Q64 80 60 83Q58 84.5 52 84L12 84.5Q4 84 5.5 74Q13 52 7.5 32Q4 22 0.5 13Q-0.5 6 2 4.5Z" fill="#d0bbe8" stroke="#000" stroke-width="2.6"/>
<path transform="translate(254 1351)" d="M2 4.5Q25 -1.5 50 0.5Q54 1 53.5 8Q53 30 60 60Q64 80 60 83Q58 84.5 52 84L12 84.5Q4 84 5.5 74Q13 52 7.5 32Q4 22 0.5 13Q-0.5 6 2 4.5Z" fill="#bf3cf2" stroke="#000" stroke-width="2.6"/>
<path transform="translate(457 1350)" d="M2 4.5Q25 -1.5 50 0.5Q54 1 53.5 8Q53 30 60 60Q64 80 60 83Q58 84.5 52 84L12 84.5Q4 84 5.5 74Q13 52 7.5 32Q4 22 0.5 13Q-0.5 6 2 4.5Z" fill="#8b4220" stroke="#000" stroke-width="2.6"/>
<ellipse cx="105.3" cy="1420.3" rx="16" ry="7.6" fill="#8a8a8a" stroke="#000" stroke-width="2"/>
<ellipse cx="289.6" cy="1420.3" rx="16" ry="7.6" fill="#8a8a8a" stroke="#000" stroke-width="2"/>
<ellipse cx="492.6" cy="1420.3" rx="16" ry="7.6" fill="#8a8a8a" stroke="#000" stroke-width="2"/>
<path d="M102 1403.1l-1 3.9M93.3 1385.6l-2.1 3.4M98.9 1397.9l-2.9 2.8M93.6 1390.2l-4 0.6M85.6 1390.9l3.2 2.4M96.2 1395.2l-0.9 3.9M93.3 1398.4l3.8 1.3M91.4 1397l-1.3 3.8M92.8 1386.1l-2.4 3.2M94 1406.2l1.9 3.5M97.6 1385.9l-2.2 3.3M85.3 1398.5l-1.6 3.6M98.3 1396l0.2 4M86.4 1390.5l-3.3 2.3M103.1 1392.4l-0.5 4M89.7 1391.2l-3.2 2.4M100.7 1398.6l-3.7 1.6M84.1 1405l3.8 1.3M84.4 1387.5l2.8 2.9M94.8 1386.3l-3.9 1.1M92.7 1406.6l-2.5 3.2M89.1 1389.5l-3.4 2.2" stroke="#000" stroke-width="1.6" stroke-linecap="round"/>
<path d="M281.2 1362.3l2.1 3.4M274 1374.2l0.2 4M277.9 1360.6l0.1 4M285.3 1360.8l2.1 3.4M278.1 1383.6l2.7 2.9M287.9 1374.9l1.7 3.6M278.5 1375.9l2 3.5M276.8 1379l2 3.5M285 1368.1l0.9 3.9" stroke="#000" stroke-width="1.6" stroke-linecap="round"/>
<path d="M269 1392.6l2.3 3.3M276.8 1393.7l1.7 3.6M270.7 1397.8l1.2 3.8M274.2 1394.5l2.7 2.9M271.7 1392.8l2.3 3.3M270.3 1398l1.6 3.7" stroke="#000" stroke-width="1.6" stroke-linecap="round"/>
<path d="M282 1353v8M285 1353v8M288 1353v8M291 1353v8" stroke="#000" stroke-width="1.4"/>
<path d="M462 1352C463 1343 457 1336 459 1330S464 1318 472 1312M467 1352C468 1343 462 1336 464 1330S469 1318 477 1312M472 1352C473 1343 467 1336 469 1330S474 1318 482 1312M477 1352C478 1343 472 1336 474 1330S479 1318 487 1312M482 1352C483 1343 477 1336 479 1330S484 1318 492 1312M487 1352C488 1343 482 1336 484 1330S489 1318 497 1312M492 1352C493 1343 487 1336 489 1330S494 1318 502 1312M497 1352C498 1343 492 1336 494 1330S499 1318 507 1312M502 1352C503 1343 497 1336 499 1330S504 1318 512 1312" fill="none" stroke="#6e6e6e" stroke-width="1.8"/>
<path d="M470 1354v10M474 1354v10M481 1354v10M485 1354v10M489 1354v10M499 1354v10M503 1354v10M507 1354v10" stroke="#000" stroke-width="1.6"/>
<path d="M158 1387.2H211V1372.7L232.8 1391.5L211 1410.4V1395.7H158Z"/>
<path d="M349 1384.8H401V1370.3L423.7 1389.3L401 1408.4V1393.3H349Z"/>
<text x="108.5" y="1468" font-size="28.3" text-anchor="middle">Centriole</text>
<text x="108.5" y="1502" font-size="28.3" text-anchor="middle">assembly</text>
<text x="298.5" y="1468" font-size="28.3" text-anchor="middle">Centriole</text>
<text x="298.5" y="1496" font-size="28.3" text-anchor="middle">docking &amp;</text>
<text x="298.5" y="1525" font-size="28.3" text-anchor="middle">axonemal</text>
<text x="298.5" y="1552.5" font-size="28.3" text-anchor="middle">generation</text>
<text x="490.7" y="1463.8" font-size="28.3" text-anchor="middle">Axonemal</text>
<text x="490.7" y="1492.6" font-size="28.3" text-anchor="middle">function &amp;</text>
<text x="490.7" y="1520.8" font-size="28.3" text-anchor="middle">maintenance</text>
<defs><linearGradient id="bwr"><stop offset="0" stop-color="#0000ff"/><stop offset="0.5" stop-color="#ffffff"/><stop offset="1" stop-color="#ff0000"/></linearGradient></defs>
<rect x="70.7" y="1518.8" width="77.8" height="27.5" fill="url(#bwr)"/>
<path d="M73.5 1546v4M109.6 1546v4M145.7 1546v4" stroke="#555" stroke-width="1"/>
<text x="73.7" y="1570.8" font-size="15.8" text-anchor="middle">–1.6</text>
<text x="109.8" y="1570.8" font-size="15.8" text-anchor="middle">0</text>
<text x="146" y="1570.8" font-size="15.8" text-anchor="middle">1.6</text>
<rect x="59.6" y="1577" width="48.6" height="33.5" fill="#cebcea"/>
<rect x="108.2" y="1577" width="299.8" height="33.5" fill="#c200ff"/>
<rect x="408" y="1577" width="112.5" height="33.5" fill="#9a520e"/>
<defs><filter id="fdT" filterUnits="userSpaceOnUse" primitiveUnits="userSpaceOnUse" x="60" y="1614" width="461" height="119" color-interpolation-filters="sRGB"><feTurbulence type="fractalNoise" baseFrequency="0.8 0.1" numOctaves="1" seed="3"/><feColorMatrix values="1 0 0 0 0 1 0 0 0 0 1 0 0 0 0 0 0 0 0 1"/><feComponentTransfer><feFuncR type="table" tableValues="0.42 0.44 0.46 0.48 0.49 0.5 0.5 0.8 1 1 1"/><feFuncG type="table" tableValues="0.42 0.44 0.46 0.48 0.49 0.5 0.5 0.8 1 1 1"/><feFuncB type="table" tableValues="0.42 0.44 0.46 0.48 0.49 0.5 0.5 0.8 1 1 1"/></feComponentTransfer><feComposite in="SourceGraphic" operator="arithmetic" k2="1" k3="2.4" k4="-1.2" result="v0"/><feTurbulence type="fractalNoise" baseFrequency="0.005 0.25" numOctaves="1" seed="2"/><feColorMatrix values="1 0 0 0 0 1 0 0 0 0 1 0 0 0 0 0 0 0 0 1"/><feComposite in="v0" operator="arithmetic" k2="1" k3="0.55" k4="-0.275" result="v1"/><feComponentTransfer in="v1" result="col"><feFuncR type="table" tableValues="0 1 1"/><feFuncG type="table" tableValues="0 1 0"/><feFuncB type="table" tableValues="1 1 0"/><feFuncA type="linear" slope="0" intercept="1"/></feComponentTransfer><feFlood x="60" y="1614" width="461" height="1" result="dot"/><feComposite in="dot" in2="dot" x="60" y="1614" width="461" height="4" result="cell"/><feTile in="cell" x="60" y="1614" width="461" height="119" result="grid"/><feComposite in="col" in2="grid" operator="in" result="sp"/><feOffset in="sp" dy="1" result="o1"/><feOffset in="sp" dy="2" result="o2"/><feOffset in="sp" dy="3" result="o3"/><feMerge><feMergeNode in="sp"/><feMergeNode in="o1"/><feMergeNode in="o2"/><feMergeNode in="o3"/></feMerge></filter><filter id="fdE" filterUnits="userSpaceOnUse" primitiveUnits="userSpaceOnUse" x="60" y="1614" width="48.6" height="119" color-interpolation-filters="sRGB"><feTurbulence type="fractalNoise" baseFrequency="0.8 0.1" numOctaves="1" seed="13"/><feColorMatrix values="1 0 0 0 0 1 0 0 0 0 1 0 0 0 0 0 0 0 0 1"/><feComponentTransfer><feFuncR type="table" tableValues="0.3 0.35 0.4 0.45 0.5 0.6 0.8 1 1 1 1"/><feFuncG type="table" tableValues="0.3 0.35 0.4 0.45 0.5 0.6 0.8 1 1 1 1"/><feFuncB type="table" tableValues="0.3 0.35 0.4 0.45 0.5 0.6 0.8 1 1 1 1"/></feComponentTransfer><feComposite in="SourceGraphic" operator="arithmetic" k2="1" k3="2.6" k4="-1.3" result="v0"/><feTurbulence type="fractalNoise" baseFrequency="0.005 0.25" numOctaves="1" seed="2"/><feColorMatrix values="1 0 0 0 0 1 0 0 0 0 1 0 0 0 0 0 0 0 0 1"/><feComposite in="v0" operator="arithmetic" k2="1" k3="0.6" k4="-0.3" result="v1"/><feComponentTransfer in="v1" result="col"><feFuncR type="table" tableValues="0 1 1"/><feFuncG type="table" tableValues="0 1 0"/><feFuncB type="table" tableValues="1 1 0"/><feFuncA type="linear" slope="0" intercept="1"/></feComponentTransfer><feFlood x="60" y="1614" width="48.6" height="1" result="dot"/><feComposite in="dot" in2="dot" x="60" y="1614" width="48.6" height="4" result="cell"/><feTile in="cell" x="60" y="1614" width="48.6" height="119" result="grid"/><feComposite in="col" in2="grid" operator="in" result="sp"/><feOffset in="sp" dy="1" result="o1"/><feOffset in="sp" dy="2" result="o2"/><feOffset in="sp" dy="3" result="o3"/><feMerge><feMergeNode in="sp"/><feMergeNode in="o1"/><feMergeNode in="o2"/><feMergeNode in="o3"/></feMerge></filter><filter id="fdM" filterUnits="userSpaceOnUse" primitiveUnits="userSpaceOnUse" x="60" y="1733" width="461" height="344" color-interpolation-filters="sRGB"><feTurbulence type="fractalNoise" baseFrequency="0.8 0.12" numOctaves="1" seed="5"/><feColorMatrix values="1 0 0 0 0 1 0 0 0 0 1 0 0 0 0 0 0 0 0 1"/><feComposite in="SourceGraphic" operator="arithmetic" k2="1" k3="2.2" k4="-1.1" result="v0"/><feTurbulence type="fractalNoise" baseFrequency="0.005 0.25" numOctaves="1" seed="3"/><feColorMatrix values="1 0 0 0 0 1 0 0 0 0 1 0 0 0 0 0 0 0 0 1"/><feComposite in="v0" operator="arithmetic" k2="1" k3="0.7" k4="-0.35" result="v1"/><feComponentTransfer in="v1" result="col"><feFuncR type="table" tableValues="0 1 1"/><feFuncG type="table" tableValues="0 1 0"/><feFuncB type="table" tableValues="1 1 0"/><feFuncA type="linear" slope="0" intercept="1"/></feComponentTransfer><feFlood x="60" y="1733" width="461" height="1" result="dot"/><feComposite in="dot" in2="dot" x="60" y="1733" width="461" height="4" result="cell"/><feTile in="cell" x="60" y="1733" width="461" height="344" result="grid"/><feComposite in="col" in2="grid" operator="in" result="sp"/><feOffset in="sp" dy="1" result="o1"/><feOffset in="sp" dy="2" result="o2"/><feOffset in="sp" dy="3" result="o3"/><feMerge><feMergeNode in="sp"/><feMergeNode in="o1"/><feMergeNode in="o2"/><feMergeNode in="o3"/></feMerge></filter><filter id="fdB" filterUnits="userSpaceOnUse" primitiveUnits="userSpaceOnUse" x="60" y="2077" width="461" height="212" color-interpolation-filters="sRGB"><feTurbulence type="fractalNoise" baseFrequency="0.8 0.1" numOctaves="1" seed="7"/><feColorMatrix values="1 0 0 0 0 1 0 0 0 0 1 0 0 0 0 0 0 0 0 1"/><feComponentTransfer><feFuncR type="table" tableValues="0.42 0.44 0.46 0.48 0.49 0.5 0.5 0.8 1 1 1"/><feFuncG type="table" tableValues="0.42 0.44 0.46 0.48 0.49 0.5 0.5 0.8 1 1 1"/><feFuncB type="table" tableValues="0.42 0.44 0.46 0.48 0.49 0.5 0.5 0.8 1 1 1"/></feComponentTransfer><feComposite in="SourceGraphic" operator="arithmetic" k2="1" k3="2.4" k4="-1.2" result="v0"/><feTurbulence type="fractalNoise" baseFrequency="0.005 0.25" numOctaves="1" seed="4"/><feColorMatrix values="1 0 0 0 0 1 0 0 0 0 1 0 0 0 0 0 0 0 0 1"/><feComposite in="v0" operator="arithmetic" k2="1" k3="0.7" k4="-0.35" result="v1"/><feComponentTransfer in="v1" result="col"><feFuncR type="table" tableValues="0 1 1"/><feFuncG type="table" tableValues="0 1 0"/><feFuncB type="table" tableValues="1 1 0"/><feFuncA type="linear" slope="0" intercept="1"/></feComponentTransfer><feFlood x="60" y="2077" width="461" height="1" result="dot"/><feComposite in="dot" in2="dot" x="60" y="2077" width="461" height="4" result="cell"/><feTile in="cell" x="60" y="2077" width="461" height="212" result="grid"/><feComposite in="col" in2="grid" operator="in" result="sp"/><feOffset in="sp" dy="1" result="o1"/><feOffset in="sp" dy="2" result="o2"/><feOffset in="sp" dy="3" result="o3"/><feMerge><feMergeNode in="sp"/><feMergeNode in="o1"/><feMergeNode in="o2"/><feMergeNode in="o3"/></feMerge></filter><filter id="fdR1" filterUnits="userSpaceOnUse" primitiveUnits="userSpaceOnUse" x="408" y="2077" width="113" height="95" color-interpolation-filters="sRGB"><feTurbulence type="fractalNoise" baseFrequency="0.8 0.1" numOctaves="1" seed="17"/><feColorMatrix values="1 0 0 0 0 1 0 0 0 0 1 0 0 0 0 0 0 0 0 1"/><feComponentTransfer><feFuncR type="table" tableValues="0.35 0.4 0.45 0.48 0.5 0.5 0.62 0.9 1 1 1"/><feFuncG type="table" tableValues="0.35 0.4 0.45 0.48 0.5 0.5 0.62 0.9 1 1 1"/><feFuncB type="table" tableValues="0.35 0.4 0.45 0.48 0.5 0.5 0.62 0.9 1 1 1"/></feComponentTransfer><feComposite in="SourceGraphic" operator="arithmetic" k2="1" k3="2.4" k4="-1.2" result="v0"/><feTurbulence type="fractalNoise" baseFrequency="0.005 0.25" numOctaves="1" seed="4"/><feColorMatrix values="1 0 0 0 0 1 0 0 0 0 1 0 0 0 0 0 0 0 0 1"/><feComposite in="v0" operator="arithmetic" k2="1" k3="0.7" k4="-0.35" result="v1"/><feComponentTransfer in="v1" result="col"><feFuncR type="table" tableValues="0 1 1"/><feFuncG type="table" tableValues="0 1 0"/><feFuncB type="table" tableValues="1 1 0"/><feFuncA type="linear" slope="0" intercept="1"/></feComponentTransfer><feFlood x="408" y="2077" width="113" height="1" result="dot"/><feComposite in="dot" in2="dot" x="408" y="2077" width="113" height="4" result="cell"/><feTile in="cell" x="408" y="2077" width="113" height="95" result="grid"/><feComposite in="col" in2="grid" operator="in" result="sp"/><feOffset in="sp" dy="1" result="o1"/><feOffset in="sp" dy="2" result="o2"/><feOffset in="sp" dy="3" result="o3"/><feMerge><feMergeNode in="sp"/><feMergeNode in="o1"/><feMergeNode in="o2"/><feMergeNode in="o3"/></feMerge></filter><filter id="fdR2" filterUnits="userSpaceOnUse" primitiveUnits="userSpaceOnUse" x="408" y="2172" width="113" height="117" color-interpolation-filters="sRGB"><feTurbulence type="fractalNoise" baseFrequency="0.8 0.1" numOctaves="1" seed="19"/><feColorMatrix values="1 0 0 0 0 1 0 0 0 0 1 0 0 0 0 0 0 0 0 1"/><feComponentTransfer><feFuncR type="table" tableValues="0.3 0.35 0.4 0.45 0.5 0.6 0.8 1 1 1 1"/><feFuncG type="table" tableValues="0.3 0.35 0.4 0.45 0.5 0.6 0.8 1 1 1 1"/><feFuncB type="table" tableValues="0.3 0.35 0.4 0.45 0.5 0.6 0.8 1 1 1 1"/></feComponentTransfer><feComposite in="SourceGraphic" operator="arithmetic" k2="1" k3="2.6" k4="-1.3" result="v0"/><feTurbulence type="fractalNoise" baseFrequency="0.005 0.25" numOctaves="1" seed="4"/><feColorMatrix values="1 0 0 0 0 1 0 0 0 0 1 0 0 0 0 0 0 0 0 1"/><feComposite in="v0" operator="arithmetic" k2="1" k3="0.6" k4="-0.3" result="v1"/><feComponentTransfer in="v1" result="col"><feFuncR type="table" tableValues="0 1 1"/><feFuncG type="table" tableValues="0 1 0"/><feFuncB type="table" tableValues="1 1 0"/><feFuncA type="linear" slope="0" intercept="1"/></feComponentTransfer><feFlood x="408" y="2172" width="113" height="1" result="dot"/><feComposite in="dot" in2="dot" x="408" y="2172" width="113" height="4" result="cell"/><feTile in="cell" x="408" y="2172" width="113" height="117" result="grid"/><feComposite in="col" in2="grid" operator="in" result="sp"/><feOffset in="sp" dy="1" result="o1"/><feOffset in="sp" dy="2" result="o2"/><feOffset in="sp" dy="3" result="o3"/><feMerge><feMergeNode in="sp"/><feMergeNode in="o1"/><feMergeNode in="o2"/><feMergeNode in="o3"/></feMerge></filter></defs>
<g filter="url(#fdT)">
<rect x="60" y="1614" width="461" height="119" fill="#626262"/>
</g>
<g filter="url(#fdE)">
<rect x="60" y="1614" width="48.6" height="119" fill="#757575"/>
<rect x="60" y="1640" width="48.6" height="60" fill="#8f8f8f"/>
</g>
<g filter="url(#fdM)">
<rect x="60" y="1733" width="461" height="344" fill="#787878"/>
<rect x="60" y="1778" width="48.6" height="298" fill="#474747"/>
<rect x="108.2" y="1778" width="176" height="298" fill="#9e9e9e"/>
<rect x="108.2" y="1990" width="176" height="86" fill="#999999"/>
<rect x="284" y="1778" width="50" height="298" fill="#4f4f4f"/>
<rect x="334" y="1778" width="74" height="298" fill="#999999"/>
<rect x="408" y="1778" width="112.5" height="298" fill="#707070"/>
<rect x="60" y="1772" width="461" height="6" fill="#6b6b6b"/>
</g>
<g filter="url(#fdB)">
<rect x="60" y="2077" width="461" height="212" fill="#626262"/>
</g>
<g filter="url(#fdR1)">
<rect x="408" y="2077" width="113" height="95" fill="#737373"/>
</g>
<g filter="url(#fdR2)">
<rect x="408" y="2172" width="113" height="117" fill="#919191"/>
</g>
<path d="M520.5 1613.6L543.5 1601.7V1772.6L520.5 1742.8Z" fill="#cebcea"/>
<path d="M520.5 1742.8L543.5 1838V2021L520.5 2072.5Z" fill="#c200ff"/>
<path d="M520.5 2077L543.5 2112.2V2287L520.5 2289Z" fill="#8b4513"/>
<path d="M522 1616h3.8M522 1619.2h6.7M522 1622.4h5.3M522 1625.6h4.9M522 1628.8h6.5M522 1632h3.4M522 1635.2h3.4M522 1638.4h6.9M522 1641.6h3.5M522 1644.8h4.8M522 1648h6.9M522 1651.2h4.3M522 1654.4h6.7M522 1657.6h3.7M522 1660.8h6.5M522 1664h3M522 1667.2h5M522 1670.4h6.7M522 1673.6h6.1M522 1676.8h5.7M522 1680h4.9M522 1683.2h6.1M522 1686.4h5.9M522 1689.6h3.6M522 1692.8h5.9M522 1696h6.2M522 1699.2h5.7M522 1702.4h3.9M522 1705.6h4.6M522 1708.8h3.8M522 1712h4.5M522 1715.2h4.6M522 1718.4h6.2M522 1721.6h6M522 1724.8h3.7M522 1728h6.2M522 1731.2h5.8M522 1734.4h4.3M522 1737.6h5.3M522 1740.8h3.4M522 1744h3.7M522 1747.2h4.1M522 1750.4h6.1M522 1753.6h3.7M522 1756.8h4.1M522 1760h5.1M522 1763.2h4.7M522 1766.4h3.8M522 1769.6h5.1M522 1772.8h7M522 1776h5M522 1779.2h6.5M522 1782.4h6.4M522 1785.6h3.6M522 1788.8h5M522 1792h4.7M522 1795.2h6.3M522 1798.4h5.8M522 1801.6h5.5M522 1804.8h6.6M522 1808h3.4M522 1811.2h3.5M522 1814.4h4.9M522 1817.6h5.6M522 1820.8h5.7M522 1824h6.4M522 1827.2h3.7M522 1830.4h3.4M522 1833.6h4.4M522 1836.8h5.8M522 1840h4.2M522 1843.2h5.9M522 1846.4h5.2M522 1849.6h4.2M522 1852.8h5.2M522 1856h4.9M522 1859.2h6.4M522 1862.4h6.2M522 1865.6h3.9M522 1868.8h3.9M522 1872h6.4M522 1875.2h6.4M522 1878.4h6.5M522 1881.6h4.5M522 1884.8h3.5M522 1888h5.2M522 1891.2h6.8M522 1894.4h5.3M522 1897.6h5.7M522 1900.8h3.1M522 1904h4.6M522 1907.2h3.7M522 1910.4h3.3M522 1913.6h3.9M522 1916.8h4.2M522 1920h5M522 1923.2h5.5M522 1926.4h5.2M522 1929.6h4.4M522 1932.8h3.6M522 1936h5M522 1939.2h6.6M522 1942.4h6.6M522 1945.6h6.7M522 1948.8h6.6M522 1952h5.3M522 1955.2h5.1M522 1958.4h3.9M522 1961.6h6M522 1964.8h5.3M522 1968h4.6M522 1971.2h3.2M522 1974.4h3.7M522 1977.6h5.7M522 1980.8h5.1M522 1984h6.1M522 1987.2h3.5M522 1990.4h5.7M522 1993.6h6.5M522 1996.8h3.1M522 2000h6.9M522 2003.2h3.2M522 2006.4h5.9M522 2009.6h5.1M522 2012.8h4.2M522 2016h4.4M522 2019.2h3.1M522 2022.4h6M522 2025.6h3.1M522 2028.8h6.8M522 2032h6.9M522 2035.2h6.3M522 2038.4h3.5M522 2041.6h5.5M522 2044.8h6.2M522 2048h4.6M522 2051.2h4.7M522 2054.4h6.2M522 2057.6h3.1M522 2060.8h4.5M522 2064h6.4M522 2067.2h6.2M522 2070.4h6.7M522 2073.6h6.5M522 2076.8h3.8M522 2080h6.7M522 2083.2h4M522 2086.4h5.2M522 2089.6h5.3M522 2092.8h5.7M522 2096h5.5M522 2099.2h3.9M522 2102.4h6.5M522 2105.6h3.6M522 2108.8h6M522 2112h3M522 2115.2h6.6M522 2118.4h6.5M522 2121.6h4M522 2124.8h5.2M522 2128h4.9M522 2131.2h6.7M522 2134.4h4.2M522 2137.6h3.3M522 2140.8h4.6M522 2144h4.2M522 2147.2h4M522 2150.4h6.1M522 2153.6h4.5M522 2156.8h3.6M522 2160h3.7M522 2163.2h6.5M522 2166.4h4.9M522 2169.6h3.8M522 2172.8h4.9M522 2176h3.4M522 2179.2h4.9M522 2182.4h4M522 2185.6h4.5M522 2188.8h6.7M522 2192h4.9M522 2195.2h6M522 2198.4h4.3M522 2201.6h3.8M522 2204.8h4.4M522 2208h3.8M522 2211.2h5M522 2214.4h5.7M522 2217.6h4.1M522 2220.8h5.8M522 2224h5M522 2227.2h6.2M522 2230.4h6M522 2233.6h6.8M522 2236.8h5.7M522 2240h3.3M522 2243.2h4.4M522 2246.4h4.6M522 2249.6h6.5M522 2252.8h6.5M522 2256h3.9M522 2259.2h6.6M522 2262.4h4.7M522 2265.6h5.7M522 2268.8h5.7M522 2272h4.7M522 2275.2h5.2M522 2278.4h4.9M522 2281.6h5.7M522 2284.8h6.3" stroke="#777" stroke-width="0.5"/>
<text x="549.5" y="1619.6" font-size="24" font-style="italic">STIL</text>
<text x="549.5" y="1644.8" font-size="24" font-style="italic">DEUP1</text>
<text x="549.5" y="1670" font-size="24" font-style="italic">PLK4</text>
<text x="549.5" y="1695.2" font-size="24" font-style="italic">POC1A</text>
<text x="549.5" y="1720.4" font-size="24" font-style="italic">CDC20B</text>
<text x="549.5" y="1745.6" font-size="24" font-style="italic">CCNO</text>
<text x="549.5" y="1770.8" font-size="24" font-style="italic">CENPJ</text>
<text x="549.5" y="1858.8" font-size="24" font-style="italic">CEP290</text>
<text x="549.5" y="1884.2" font-size="24" font-style="italic">SYNE1</text>
<text x="549.5" y="1909.6" font-size="24" font-style="italic">SYNE2</text>
<text x="549.5" y="1935" font-size="24" font-style="italic">TTBK2</text>
<text x="549.5" y="1960.4" font-size="24" font-style="italic">IFT52</text>
<text x="549.5" y="1985.8" font-size="24" font-style="italic">CFAP61</text>
<text x="549.5" y="2011.2" font-size="24" font-style="italic">DNAAF1</text>
<text x="549.5" y="2134" font-size="24" font-style="italic">RSPH1</text>
<text x="549.5" y="2159.5" font-size="24" font-style="italic">SPAG1</text>
<text x="549.5" y="2185" font-size="24" font-style="italic">DNALI1</text>
<text x="549.5" y="2210.5" font-size="24" font-style="italic">IFT57</text>
<text x="549.5" y="2236" font-size="24" font-style="italic">GAS8</text>
<text x="549.5" y="2261.5" font-size="24" font-style="italic">ATP6V1D</text>
<text x="549.5" y="2287" font-size="24" font-style="italic">SNTN</text>
<text x="807.4" y="1131.8" font-size="43" font-weight="bold">e</text>
<rect x="1221.7" y="1004.3" width="17.7" height="17.7" fill="#339a2c"/>
<text x="1243.8" y="1022" font-size="26.8">Basal colonies</text>
<rect x="1114.8" y="1058.6" width="17.7" height="17.7" fill="#00ffc6"/>
<text x="1137.8" y="1076.3" font-size="26.8">Basal sub-confluent proliferating</text>
<rect x="1215" y="1119.6" width="17.7" height="17.7" fill="#9ab51e"/>
<text x="1239.4" y="1136" font-size="26.8">Basal confluent</text>
<rect x="967.7" y="1162" width="17.7" height="17.7" fill="#560082"/>
<text x="995.5" y="1173" font-size="26.8">Basal, proliferating</text>
<text x="995.5" y="1206" font-size="26.8">within epithelium</text>
<path d="M1331 1026V1047M1331 1085V1106M1331 1144V1226.5L1232 1190" fill="none" stroke="#000" stroke-width="2.4"/>
<path d="M1324.5 1043H1337.5L1331 1054Z M1324.5 1102H1337.5L1331 1113Z M1223 1187L1238 1181.5L1234.5 1195Z"/>
<path d="M1331.7 1226.5C1310 1240 1301 1255 1300.3 1279.6C1299.5 1300 1296 1316 1276 1318.2M1331.7 1226.5C1353 1240 1362.4 1255 1363.1 1279.6C1363.9 1300 1367.4 1316 1387.4 1318.2" fill="none" stroke="#000" stroke-width="4.3"/>
<path d="M1265.5 1318.2L1281 1309.5L1277.5 1318.2L1281 1327Z M1398 1318.2L1382.5 1309.5L1386 1318.2L1382.5 1327Z"/>
<rect x="925.8" y="1251.6" width="20.7" height="20" fill="#ff6600"/>
<text x="954.5" y="1271.5" font-size="26.8">Sec. 2</text>
<rect x="1054.7" y="1251.6" width="20" height="20" fill="#f5a0a8"/>
<text x="1084" y="1271.5" font-size="26.8">Sec. 1</text>
<rect x="1179.7" y="1251.6" width="20" height="20" fill="#0039ff"/>
<text x="1216.4" y="1260.5" font-size="26.8">Diff.</text>
<text x="1216.4" y="1291.4" font-size="26.8">basal</text>
<rect x="1393.4" y="1251.6" width="20.6" height="19.7" fill="#0039ff"/>
<text x="1426.5" y="1261" font-size="26.8">Diff.</text>
<text x="1426.5" y="1292.6" font-size="26.8">basal</text>
<rect x="1505.5" y="1251.6" width="20.5" height="19.7" fill="#f5a0a8"/>
<text x="1534" y="1270.6" font-size="26.8">Sec. 1</text>
<text x="1690" y="1174.8" font-size="26.8" text-anchor="middle">Ciliating/</text>
<text x="1690" y="1201.4" font-size="26.8" text-anchor="middle">Ciliated</text>
<path d="M1602 1208H1763.5" stroke="#000" stroke-width="3"/>
<rect x="1613.8" y="1220" width="20.5" height="20" fill="#cebcea"/>
<text x="1644" y="1238" font-size="26.8">Early</text>
<rect x="1632.8" y="1247" width="20.5" height="19.8" fill="#c200ff"/>
<text x="1661.3" y="1265.6" font-size="26.8">Later</text>
<rect x="1651.8" y="1273" width="20.5" height="19.6" fill="#9a520e"/>
<text x="1680" y="1290.7" font-size="26.8">Mature</text>
<defs>
<linearGradient id="annL" x1="0" x2="1"><stop offset="0" stop-color="#ff6600"/><stop offset="0.16" stop-color="#ff6a10"/><stop offset="0.3" stop-color="#f98a60"/><stop offset="0.42" stop-color="#f5a0a8"/><stop offset="0.74" stop-color="#f5a0a8"/><stop offset="0.82" stop-color="#c088c8"/><stop offset="0.88" stop-color="#3050f0"/><stop offset="1" stop-color="#0039ff"/></linearGradient>
<linearGradient id="annR" x1="0" x2="1"><stop offset="0" stop-color="#0039ff"/><stop offset="0.1" stop-color="#0039ff"/><stop offset="0.17" stop-color="#9070d0"/><stop offset="0.2" stop-color="#f5a0a8"/><stop offset="0.82" stop-color="#f5a0a8"/><stop offset="0.85" stop-color="#e080e8"/><stop offset="0.87" stop-color="#c200ff"/><stop offset="0.952" stop-color="#c200ff"/><stop offset="0.957" stop-color="#9a520e"/><stop offset="1" stop-color="#9a520e"/></linearGradient>
<linearGradient id="ptL" x1="0" x2="1"><stop offset="0" stop-color="#3cb81c"/><stop offset="0.25" stop-color="#2e9414"/><stop offset="0.85" stop-color="#000"/></linearGradient>
<linearGradient id="ptR" x1="0" x2="1"><stop offset="0.15" stop-color="#000"/><stop offset="0.75" stop-color="#2e9414"/><stop offset="1" stop-color="#3cb81c"/></linearGradient>
</defs>
<rect x="937.7" y="1304.6" width="312.3" height="16" fill="url(#annL)"/>
<rect x="1412" y="1304" width="312" height="15.5" fill="url(#annR)"/>
<path d="M1107 1304.6v16M1211.6 1304.6v16M1094.4 1304.6v16M954.4 1304.6v16M1123.7 1304.6v16M1038.8 1304.6v16M1167.8 1304.6v16M1026.3 1304.6v16M1138.7 1304.6v16M997.8 1304.6v16M1140 1304.6v16M1125.4 1304.6v16M1153.6 1304.6v16M947.9 1304.6v16M1078.3 1304.6v16M1170.3 1304.6v16M1077.1 1304.6v16M1028.9 1304.6v16M1172.7 1304.6v16M1149 1304.6v16M1075.9 1304.6v16M1200.3 1304.6v16M1149.6 1304.6v16M1248.1 1304.6v16M1143 1304.6v16M1239 1304.6v16M1167.7 1304.6v16M1078.2 1304.6v16M940.5 1304.6v16M1167.3 1304.6v16M1071.5 1304.6v16M1207.1 1304.6v16M1213.6 1304.6v16M1197.7 1304.6v16M1108.7 1304.6v16M1134.9 1304.6v16M1137.8 1304.6v16M1076.9 1304.6v16M1063.1 1304.6v16M1242.9 1304.6v16M938.1 1304.6v16M1208.5 1304.6v16M978.6 1304.6v16M972.7 1304.6v16M1178 1304.6v16M942.3 1304.6v16M1144 1304.6v16M1012.9 1304.6v16M1205.5 1304.6v16M1113.9 1304.6v16M1009.3 1304.6v16M1119.8 1304.6v16M1166.3 1304.6v16M1202.4 1304.6v16M943.8 1304.6v16M1226.3 1304.6v16M1195.2 1304.6v16M1010.3 1304.6v16M1125.5 1304.6v16M1101.2 1304.6v16M1126.7 1304.6v16M1013.9 1304.6v16M1225.7 1304.6v16M1158 1304.6v16M1114.5 1304.6v16M1233.4 1304.6v16M1053.3 1304.6v16M1105.5 1304.6v16M1135.2 1304.6v16M1130.1 1304.6v16" stroke="#f5a0a8" stroke-width="0.8" opacity="0.5"/>
<path d="M1516.5 1304v15.5M1597.6 1304v15.5M1545.6 1304v15.5M1638.8 1304v15.5M1525.3 1304v15.5M1552.5 1304v15.5M1595.8 1304v15.5M1469.9 1304v15.5M1582.4 1304v15.5M1686.2 1304v15.5M1628.9 1304v15.5M1568.1 1304v15.5M1452.4 1304v15.5M1591.3 1304v15.5M1540.6 1304v15.5M1529.2 1304v15.5M1635.7 1304v15.5M1716.1 1304v15.5M1573.7 1304v15.5M1470 1304v15.5M1623.8 1304v15.5M1552.7 1304v15.5M1677.5 1304v15.5M1647.4 1304v15.5M1523.2 1304v15.5M1668.8 1304v15.5M1578.6 1304v15.5M1632.6 1304v15.5M1431.1 1304v15.5M1498.6 1304v15.5M1679 1304v15.5M1418.7 1304v15.5M1626.4 1304v15.5M1700.8 1304v15.5M1674.9 1304v15.5M1459.6 1304v15.5M1451.7 1304v15.5M1529.3 1304v15.5M1430.8 1304v15.5M1603.7 1304v15.5" stroke="#d07a90" stroke-width="0.7" opacity="0.35"/>
<defs><filter id="feL" filterUnits="userSpaceOnUse" primitiveUnits="userSpaceOnUse" x="938" y="1322" width="312" height="338" color-interpolation-filters="sRGB"><feGaussianBlur in="SourceGraphic" stdDeviation="5" result="sb"/><feTurbulence type="fractalNoise" baseFrequency="0.17 0.5" numOctaves="2" seed="9"/><feColorMatrix values="1 0 0 0 0 1 0 0 0 0 1 0 0 0 0 0 0 0 0 1"/><feComposite in="sb" operator="arithmetic" k2="1" k3="1.05" k4="-0.525" result="v0"/><feTurbulence type="fractalNoise" baseFrequency="0.006 0.3" numOctaves="1" seed="6"/><feColorMatrix values="1 0 0 0 0 1 0 0 0 0 1 0 0 0 0 0 0 0 0 1"/><feComposite in="v0" operator="arithmetic" k2="1" k3="0.8" k4="-0.4" result="v1"/><feComponentTransfer in="v1" result="col"><feFuncR type="table" tableValues="0 1 1"/><feFuncG type="table" tableValues="0 1 0"/><feFuncB type="table" tableValues="1 1 0"/><feFuncA type="linear" slope="0" intercept="1"/></feComponentTransfer><feFlood x="938" y="1322" width="312" height="1" result="dot"/><feComposite in="dot" in2="dot" x="938" y="1322" width="312" height="5" result="cell"/><feTile in="cell" x="938" y="1322" width="312" height="338" result="grid"/><feComposite in="col" in2="grid" operator="in" result="sp"/><feOffset in="sp" dy="1" result="o1"/><feOffset in="sp" dy="2" result="o2"/><feOffset in="sp" dy="3" result="o3"/><feOffset in="sp" dy="4" result="o4"/><feMerge><feMergeNode in="sp"/><feMergeNode in="o1"/><feMergeNode in="o2"/><feMergeNode in="o3"/><feMergeNode in="o4"/></feMerge></filter><filter id="feR" filterUnits="userSpaceOnUse" primitiveUnits="userSpaceOnUse" x="1412" y="1322" width="312" height="338" color-interpolation-filters="sRGB"><feGaussianBlur in="SourceGraphic" stdDeviation="5" result="sb"/><feTurbulence type="fractalNoise" baseFrequency="0.17 0.5" numOctaves="2" seed="12"/><feColorMatrix values="1 0 0 0 0 1 0 0 0 0 1 0 0 0 0 0 0 0 0 1"/><feComposite in="sb" operator="arithmetic" k2="1" k3="1.05" k4="-0.525" result="v0"/><feTurbulence type="fractalNoise" baseFrequency="0.006 0.3" numOctaves="1" seed="8"/><feColorMatrix values="1 0 0 0 0 1 0 0 0 0 1 0 0 0 0 0 0 0 0 1"/><feComposite in="v0" operator="arithmetic" k2="1" k3="0.8" k4="-0.4" result="v1"/><feComponentTransfer in="v1" result="col"><feFuncR type="table" tableValues="0 1 1"/><feFuncG type="table" tableValues="0 1 0"/><feFuncB type="table" tableValues="1 1 0"/><feFuncA type="linear" slope="0" intercept="1"/></feComponentTransfer><feFlood x="1412" y="1322" width="312" height="1" result="dot"/><feComposite in="dot" in2="dot" x="1412" y="1322" width="312" height="5" result="cell"/><feTile in="cell" x="1412" y="1322" width="312" height="338" result="grid"/><feComposite in="col" in2="grid" operator="in" result="sp"/><feOffset in="sp" dy="1" result="o1"/><feOffset in="sp" dy="2" result="o2"/><feOffset in="sp" dy="3" result="o3"/><feOffset in="sp" dy="4" result="o4"/><feMerge><feMergeNode in="sp"/><feMergeNode in="o1"/><feMergeNode in="o2"/><feMergeNode in="o3"/><feMergeNode in="o4"/></feMerge></filter><clipPath id="cpL"><rect x="938" y="1322" width="312" height="338"/></clipPath><clipPath id="cpR"><rect x="1412" y="1322" width="312" height="337"/></clipPath></defs>
<g clip-path="url(#cpL)"><g filter="url(#feL)">
<rect x="920" y="1300" width="350" height="215" fill="#666666"/>
<path d="M920 1412L1080 1412L1060 1513L920 1513Z" fill="#3b3b3b"/>
<path d="M920 1484L1050 1484L1050 1502L920 1502Z" fill="#1a1a1a"/>
<path d="M1090 1412L1200 1412L1200 1470L1100 1470Z" fill="#999999"/>
<path d="M1212 1300L1270 1300L1270 1480L1250 1480L1238 1500L1200 1513L1085 1513L1100 1487L1110 1468L1135 1449L1155 1430L1185 1412L1193 1384L1200 1356L1208 1324Z" fill="#ededed"/>
<path d="M1238 1480L1270 1480L1270 1513L1205 1513Z" fill="#242424"/>
<rect x="920" y="1513" width="350" height="170" fill="#707070"/>
<path d="M1100 1513L1200 1513L1180 1680L1050 1680Z" fill="#5c5c5c"/>
<path d="M1045 1513L1100 1513L1090 1545L1070 1580L1050 1620L1000 1680L950 1680L960 1640L985 1600L1004 1545Z" fill="#a3a3a3"/>
<path d="M920 1513L1045 1513L1030 1530L1004 1545L995 1580L985 1600L970 1620L960 1640L950 1680L920 1680Z" fill="#f0f0f0"/>
<path d="M1195 1513L1270 1513L1270 1680L1175 1680L1185 1600L1195 1560Z" fill="#212121"/>
<path d="M1190 1562L1270 1562L1270 1615L1185 1615Z" fill="#424242"/>
</g></g>
<g clip-path="url(#cpR)"><g filter="url(#feR)">
<rect x="1395" y="1300" width="350" height="216" fill="#696969"/>
<path d="M1600 1416L1660 1416L1650 1490L1600 1490Z" fill="#474747"/>
<path d="M1660 1384L1745 1384L1745 1516L1640 1516L1650 1450Z" fill="#1a1a1a"/>
<path d="M1665 1300L1745 1300L1745 1327L1665 1327Z" fill="#1f1f1f"/>
<path d="M1450 1300L1475 1300L1480 1384L1530 1416L1560 1468L1485 1468L1480 1416L1470 1384L1452 1384Z" fill="#9e9e9e"/>
<path d="M1395 1300L1450 1300L1452 1384L1470 1384L1480 1416L1485 1468L1560 1470L1585 1490L1590 1516L1465 1516L1455 1490L1440 1470L1395 1468Z" fill="#f0f0f0"/>
<path d="M1395 1487L1445 1487L1455 1516L1395 1516Z" fill="#2e2e2e"/>
<rect x="1395" y="1514" width="350" height="170" fill="#6b6b6b"/>
<path d="M1395 1560L1500 1560L1500 1680L1395 1680Z" fill="#575757"/>
<path d="M1659 1514L1745 1514L1745 1680L1712 1680L1706 1610L1667 1600L1665 1560Z" fill="#f2f2f2"/>
<path d="M1682 1514L1745 1514L1745 1556L1682 1556Z" fill="#8c8c8c"/>
</g></g>
<path d="M935 1670L947.5 1660V1666H1254.8V1674H947.5V1680Z" fill="url(#ptL)"/>
<path d="M1729.4 1669.7L1719 1659.7V1666H1411.3V1673.4H1719V1679.6Z" fill="url(#ptR)"/>
<text x="1098.3" y="1706" font-size="26.6" text-anchor="middle">Pseudotime</text>
<text x="1569.9" y="1705.8" font-size="26.6" text-anchor="middle">Pseudotime</text>
<text x="1094.8" y="1762" font-size="33" text-anchor="middle">Secretory fate</text>
<text x="1567.5" y="1763" font-size="33" text-anchor="middle">Ciliated fate</text>
<rect x="808" y="1661.7" width="83" height="28.9" fill="url(#bwr)"/>
<path d="M811.5 1690.6v4M850.3 1690.6v4M889 1690.6v4" stroke="#555" stroke-width="1"/>
<text x="812.6" y="1715" font-size="19.5" text-anchor="middle">–1.8</text>
<text x="850.7" y="1715" font-size="19.5" text-anchor="middle">0</text>
<text x="888.7" y="1715" font-size="19.5" text-anchor="middle">1.8</text>
<path d="M895.2 1322C897 1336 900 1392 907.5 1446.8C912 1472 922 1500 936 1516.5V1658.7L895.2 1643V1497.2C900 1530 906 1570 914.9 1586.2C919 1595 922 1600 925 1600C930 1599 934 1592 935 1582.6L895.2 1459.6Z" fill="#ff6600"/>
<path d="M1251.6 1321.9L1278.6 1334V1492C1274 1450 1270 1406 1261.7 1406.3C1256 1406.5 1253 1416 1251.6 1425Z" fill="#0039ff"/><path d="M1251.6 1426.8C1255 1455 1262 1490 1278.6 1513.7V1668C1274 1610 1268 1570 1264 1556C1258 1535 1253 1520 1251.6 1511.3Z" fill="#f5a0a8"/>
<g transform="matrix(-1 0 0 1 2662.9 0)"><path d="M1251.6 1321.9L1278.6 1334V1492C1274 1450 1270 1406 1261.7 1406.3C1256 1406.5 1253 1416 1251.6 1425Z" fill="#0039ff"/><path d="M1251.6 1426.8C1255 1455 1262 1490 1278.6 1513.7V1668C1274 1610 1268 1570 1264 1556C1258 1535 1253 1520 1251.6 1511.3Z" fill="#f5a0a8"/></g>
<path d="M1733 1496C1745 1440 1760 1360 1769.6 1306.6V1441C1760 1480 1745 1525 1733 1559Z" fill="#cebcea"/>
<path d="M1733 1558.3C1760 1545 1785 1530 1805 1512C1830 1490 1850 1460 1866.5 1409.8V1555.4C1860 1542 1850 1526 1838 1526C1815 1526 1790 1548 1767 1562.8C1755 1572 1745 1590 1733 1607Z" fill="#c200ff"/>
<path d="M1733 1607C1740 1630 1748 1658 1757.7 1658.6C1770 1659 1776 1610 1780.7 1562.8V1695.5L1733 1660.4Z" fill="#8b4513"/>
<text x="795" y="1337" font-size="20.3" font-style="italic">MECOM</text>
<text x="795" y="1357.2" font-size="20.3" font-style="italic">B4GALT5</text>
<text x="795" y="1377.3" font-size="20.3" font-style="italic">RDH10</text>
<text x="795" y="1397.5" font-size="20.3" font-style="italic">DMD</text>
<text x="795" y="1417.7" font-size="20.3" font-style="italic">ERBB4</text>
<text x="795" y="1437.8" font-size="20.3" font-style="italic">TOX3</text>
<text x="795" y="1458" font-size="20.3" font-style="italic">UNC13B</text>
<text x="795" y="1517.4" font-size="20.3" font-style="italic">LYN</text>
<text x="795" y="1537.8" font-size="20.3" font-style="italic">MACC1</text>
<text x="795" y="1558.3" font-size="20.3" font-style="italic">MUC3</text>
<text x="795" y="1578.7" font-size="20.3" font-style="italic">CPEB4</text>
<text x="795" y="1599.1" font-size="20.3" font-style="italic">FCGBP</text>
<text x="795" y="1619.6" font-size="20.3" font-style="italic">C3</text>
<text x="795" y="1640" font-size="20.3" font-style="italic">CEACAM6</text>
<text x="1333" y="1347.7" font-size="20.3" text-anchor="middle" font-style="italic">TP63</text>
<text x="1333" y="1368" font-size="20.3" text-anchor="middle" font-style="italic">KRT5</text>
<text x="1333" y="1388.2" font-size="20.3" text-anchor="middle" font-style="italic">COL4A5</text>
<text x="1333" y="1408.5" font-size="20.3" text-anchor="middle" font-style="italic">LOXL4</text>
<text x="1333" y="1428.8" font-size="20.3" text-anchor="middle" font-style="italic">WNT4</text>
<text x="1333" y="1449" font-size="20.3" text-anchor="middle" font-style="italic">TNS3</text>
<text x="1333" y="1469.3" font-size="20.3" text-anchor="middle" font-style="italic">DST</text>
<text x="1333" y="1489.6" font-size="20.3" text-anchor="middle" font-style="italic">TNC</text>
<text x="1333" y="1528.2" font-size="20.3" text-anchor="middle" font-style="italic">ANXA8</text>
<text x="1333" y="1548.4" font-size="20.3" text-anchor="middle" font-style="italic">CBR1</text>
<text x="1333" y="1568.5" font-size="20.3" text-anchor="middle" font-style="italic">LGALS1</text>
<text x="1333" y="1588.7" font-size="20.3" text-anchor="middle" font-style="italic">SERPINB3</text>
<text x="1333" y="1608.9" font-size="20.3" text-anchor="middle" font-style="italic">LY6D</text>
<text x="1333" y="1629" font-size="20.3" text-anchor="middle" font-style="italic">UPK1B</text>
<text x="1333" y="1649.2" font-size="20.3" text-anchor="middle" font-style="italic">SCGB3A1</text>
<text x="1333" y="1669.4" font-size="20.3" text-anchor="middle" font-style="italic">TXNIP</text>
<text x="1773.7" y="1320.2" font-size="20.3" font-style="italic">FOXN4</text>
<text x="1773.7" y="1340.3" font-size="20.3" font-style="italic">CDC20B</text>
<text x="1773.7" y="1360.5" font-size="20.3" font-style="italic">E2F7</text>
<text x="1773.7" y="1380.6" font-size="20.3" font-style="italic">STIL</text>
<text x="1773.7" y="1400.7" font-size="20.3" font-style="italic">DEUP1</text>
<text x="1773.7" y="1420.9" font-size="20.3" font-style="italic">KIF24</text>
<text x="1773.7" y="1441" font-size="20.3" font-style="italic">CEP135</text>
<text x="1872.8" y="1434.5" font-size="20.3" font-style="italic">DNAH11</text>
<text x="1872.8" y="1454.8" font-size="20.3" font-style="italic">DNAH5</text>
<text x="1872.8" y="1475" font-size="20.3" font-style="italic">SPAG16</text>
<text x="1872.8" y="1495.2" font-size="20.3" font-style="italic">ULK4</text>
<text x="1872.8" y="1515.5" font-size="20.3" font-style="italic">RFX3</text>
<text x="1872.8" y="1535.8" font-size="20.3" font-style="italic">ESRRG</text>
<text x="1872.8" y="1556" font-size="20.3" font-style="italic">PROM1</text>
<text x="1788" y="1573.8" font-size="20.3" font-style="italic">TUBB4B</text>
<text x="1788" y="1594.1" font-size="20.3" font-style="italic">OMG</text>
<text x="1788" y="1614.4" font-size="20.3" font-style="italic">PIGR</text>
<text x="1788" y="1634.6" font-size="20.3" font-style="italic">CCDC69</text>
<text x="1788" y="1654.9" font-size="20.3" font-style="italic">AGR3</text>
<text x="1788" y="1675.2" font-size="20.3" font-style="italic">DYNLL1</text>
<text x="1788" y="1695.5" font-size="20.3" font-style="italic">DYNLT1</text>
<text x="754.4" y="1835.6" font-size="43" font-weight="bold">f</text>
<path d="M835 1885.8V2313.5H951.3M826.6 1906.4H835M826.6 1938.8H835M826.6 1971.1H835M826.6 2003.5H835M826.6 2035.8H835M826.6 2068.2H835M826.6 2100.6H835M826.6 2132.9H835M826.6 2165.3H835M826.6 2197.6H835M826.6 2230H835M826.6 2262.4H835M826.6 2294.7H835" fill="none" stroke="#000" stroke-width="2.2"/>
<text x="815.4" y="1914.9" font-size="24" text-anchor="end" font-style="italic">E2F4</text>
<circle cx="856.7" cy="1906.4" r="1.4" fill="#1010ee"/>
<circle cx="893" cy="1906.4" r="1.4" fill="#c8c8c8"/>
<circle cx="929.6" cy="1906.4" r="1.7" fill="#5a3ae8"/>
<text x="815.4" y="1947.3" font-size="24" text-anchor="end" font-style="italic">E2F5</text>
<circle cx="856.7" cy="1938.8" r="3.4" fill="#1515ee"/>
<circle cx="893" cy="1938.8" r="2.5" fill="#a890e0"/>
<circle cx="929.6" cy="1938.8" r="2" fill="#c0b0e0"/>
<text x="815.4" y="1979.6" font-size="24" text-anchor="end" font-style="italic">E2F7</text>
<circle cx="856.7" cy="1971.1" r="11" fill="#0505ee"/>
<circle cx="893" cy="1971.1" r="2.5" fill="#b0a0e0"/>
<circle cx="929.6" cy="1971.1" r="3" fill="#b8a8e0"/>
<text x="815.4" y="2012" font-size="24" text-anchor="end" font-style="italic">GMNC</text>
<circle cx="856.7" cy="2003.5" r="1.4" fill="#1010ee"/>
<circle cx="893" cy="2003.5" r="1.1" fill="#b8a8e0"/>
<circle cx="929.6" cy="2003.5" r="1.1" fill="#c0b0e0"/>
<text x="815.4" y="2044.3" font-size="24" text-anchor="end" font-style="italic">GMNN</text>
<circle cx="856.7" cy="2035.8" r="1.7" fill="#cccccc"/>
<circle cx="893" cy="2035.8" r="2" fill="#6040e8"/>
<circle cx="929.6" cy="2035.8" r="2.5" fill="#5030e8"/>
<text x="815.4" y="2076.7" font-size="24" text-anchor="end" font-style="italic">MCIDAS</text>
<circle cx="856.7" cy="2068.2" r="4.2" fill="#0a0aee"/>
<circle cx="893" cy="2068.2" r="1.1" fill="#b8a8e0"/>
<circle cx="929.6" cy="2068.2" r="1.1" fill="#b8a8e0"/>
<text x="815.4" y="2109.1" font-size="24" text-anchor="end" font-style="italic">MYB</text>
<circle cx="856.7" cy="2100.6" r="7.3" fill="#2020ee"/>
<circle cx="893" cy="2100.6" r="6.8" fill="#a088e0"/>
<circle cx="929.6" cy="2100.6" r="4.8" fill="#c0b4e0"/>
<text x="815.4" y="2141.4" font-size="24" text-anchor="end" font-style="italic">TP73</text>
<circle cx="856.7" cy="2132.9" r="4.2" fill="#1515ee"/>
<circle cx="893" cy="2132.9" r="3.4" fill="#a088e0"/>
<circle cx="929.6" cy="2132.9" r="2.8" fill="#c8c0e0"/>
<text x="815.4" y="2173.8" font-size="24" text-anchor="end" font-style="italic">GRHL2</text>
<circle cx="856.7" cy="2165.3" r="13.5" fill="#9070e8"/>
<circle cx="893" cy="2165.3" r="13.5" fill="#4428f0"/>
<circle cx="929.6" cy="2165.3" r="12.1" fill="#c8c8d4"/>
<text x="815.4" y="2206.1" font-size="24" text-anchor="end" font-style="italic">RFX2</text>
<circle cx="856.7" cy="2197.6" r="13.5" fill="#9070e8"/>
<circle cx="893" cy="2197.6" r="14" fill="#4030f0"/>
<circle cx="929.6" cy="2197.6" r="12.7" fill="#d0d0d8"/>
<text x="815.4" y="2238.5" font-size="24" text-anchor="end" font-style="italic">RFX3</text>
<circle cx="856.7" cy="2230" r="15.5" fill="#a890e8"/>
<circle cx="893" cy="2230" r="16.2" fill="#2010f5"/>
<circle cx="929.6" cy="2230" r="15.9" fill="#c8c0dc"/>
<text x="815.4" y="2270.9" font-size="24" text-anchor="end" font-style="italic">FOXJ1</text>
<circle cx="856.7" cy="2262.4" r="5.6" fill="#8060e8"/>
<circle cx="893" cy="2262.4" r="2.5" fill="#cccccc"/>
<circle cx="929.6" cy="2262.4" r="6.5" fill="#5030f0"/>
<text x="815.4" y="2303.2" font-size="24" text-anchor="end" font-style="italic">FOXN4</text>
<circle cx="856.7" cy="2294.7" r="9.6" fill="#0505ee"/>
<circle cx="893" cy="2294.7" r="1.4" fill="#b8a8e0"/>
<circle cx="929.6" cy="2294.7" r="1.4" fill="#b8a8e0"/>
<rect x="837.9" y="2315" width="37.1" height="19.6" fill="#cebcea"/>
<rect x="875" y="2315" width="36" height="19.6" fill="#c200ff"/>
<rect x="911" y="2315" width="36.6" height="19.6" fill="#9a520e"/>
<text x="1038.3" y="1928" font-size="24.7" text-anchor="middle">Average</text>
<text x="1038.3" y="1951" font-size="24.7" text-anchor="middle">scaled</text>
<text x="1038.3" y="1974.5" font-size="24.7" text-anchor="middle">expression</text>
<defs><linearGradient id="avg" x1="0" y1="0" x2="0" y2="1"><stop offset="0" stop-color="#1010ee"/><stop offset="0.5" stop-color="#9a82e2"/><stop offset="1" stop-color="#d6d6d6"/></linearGradient></defs>
<rect x="999.7" y="1992.7" width="21.9" height="106.1" fill="url(#avg)"/>
<path d="M999.7 1998h21.9M999.7 2003.3h21.9M999.7 2008.6h21.9M999.7 2013.9h21.9M999.7 2019.2h21.9M999.7 2024.5h21.9M999.7 2029.8h21.9M999.7 2035.1h21.9M999.7 2040.4h21.9M999.7 2045.8h21.9M999.7 2051.1h21.9M999.7 2056.4h21.9M999.7 2061.7h21.9M999.7 2067h21.9M999.7 2072.3h21.9M999.7 2077.6h21.9M999.7 2082.9h21.9M999.7 2088.2h21.9M999.7 2093.5h21.9" stroke="#fff" stroke-width="0.5" opacity="0.3"/>
<text x="1032" y="2008" font-size="23.8">1.0</text>
<text x="1032" y="2051" font-size="23.8">0.0</text>
<text x="1032" y="2095.4" font-size="23.8">–1.0</text>
<text x="955.5" y="2173.7" font-size="24.7">% expressing</text>
<text x="1029.8" y="2196.7" font-size="24.7" text-anchor="middle">cells</text>
<circle cx="1013.2" cy="2218.4" r="1"/>
<text x="1026.4" y="2226.3" font-size="24">0</text>
<circle cx="1013.2" cy="2249.6" r="5"/>
<text x="1024" y="2257" font-size="24">25</text>
<circle cx="1013.2" cy="2282.5" r="8.7"/>
<text x="1027.8" y="2290.8" font-size="24">50</text>
<circle cx="1013.2" cy="2315.5" r="12.4"/>
<text x="1027.8" y="2322" font-size="24">75</text>
<text x="1158.4" y="1835.8" font-size="43" font-weight="bold">g</text>
<text x="1263" y="1845.4" font-size="23.2" text-anchor="middle">Unspliced</text>
<text x="1263" y="1869" font-size="23.2" text-anchor="middle">only</text>
<text x="1358" y="1845.4" font-size="23.2" text-anchor="middle">Spliced</text>
<text x="1358" y="1869" font-size="23.2" text-anchor="middle">only</text>
<text x="1463" y="1845.4" font-size="23.2" text-anchor="middle">Unspliced</text>
<text x="1463" y="1869" font-size="23.2" text-anchor="middle">only</text>
<text x="1566.3" y="1845.4" font-size="23.2" text-anchor="middle">Spliced</text>
<text x="1566.3" y="1869" font-size="23.2" text-anchor="middle">only</text>
<defs><filter id="fg0" filterUnits="userSpaceOnUse" primitiveUnits="userSpaceOnUse" x="1223" y="1890" width="90" height="65" color-interpolation-filters="sRGB"><feTurbulence type="fractalNoise" baseFrequency="0 0.5" numOctaves="1" seed="20"/><feColorMatrix values="1 0 0 0 0 1 0 0 0 0 1 0 0 0 0 0 0 0 0 1"/><feComposite in="SourceGraphic" operator="arithmetic" k2="1" k3="2.6" k4="-1.3" result="v0"/><feTurbulence type="fractalNoise" baseFrequency="0 0.09" numOctaves="1" seed="40"/><feColorMatrix values="1 0 0 0 0 1 0 0 0 0 1 0 0 0 0 0 0 0 0 1"/><feComposite in="v0" operator="arithmetic" k2="1" k3="1.56" k4="-0.78" result="v1"/><feComponentTransfer in="v1" result="col"><feFuncR type="table" tableValues="0 1 1"/><feFuncG type="table" tableValues="0 1 0"/><feFuncB type="table" tableValues="1 1 0"/><feFuncA type="linear" slope="0" intercept="1"/></feComponentTransfer></filter><filter id="fg1" filterUnits="userSpaceOnUse" primitiveUnits="userSpaceOnUse" x="1223" y="1955" width="90" height="131" color-interpolation-filters="sRGB"><feTurbulence type="fractalNoise" baseFrequency="0 0.5" numOctaves="1" seed="21"/><feColorMatrix values="1 0 0 0 0 1 0 0 0 0 1 0 0 0 0 0 0 0 0 1"/><feComposite in="SourceGraphic" operator="arithmetic" k2="1" k3="2.8" k4="-1.4" result="v0"/><feTurbulence type="fractalNoise" baseFrequency="0 0.09" numOctaves="1" seed="41"/><feColorMatrix values="1 0 0 0 0 1 0 0 0 0 1 0 0 0 0 0 0 0 0 1"/><feComposite in="v0" operator="arithmetic" k2="1" k3="1.68" k4="-0.84" result="v1"/><feComponentTransfer in="v1" result="col"><feFuncR type="table" tableValues="0 1 1"/><feFuncG type="table" tableValues="0 1 0"/><feFuncB type="table" tableValues="1 1 0"/><feFuncA type="linear" slope="0" intercept="1"/></feComponentTransfer></filter><filter id="fg2" filterUnits="userSpaceOnUse" primitiveUnits="userSpaceOnUse" x="1223" y="2086" width="90" height="14" color-interpolation-filters="sRGB"><feTurbulence type="fractalNoise" baseFrequency="0 0.5" numOctaves="1" seed="22"/><feColorMatrix values="1 0 0 0 0 1 0 0 0 0 1 0 0 0 0 0 0 0 0 1"/><feComposite in="SourceGraphic" operator="arithmetic" k2="1" k3="2.2" k4="-1.1" result="v0"/><feTurbulence type="fractalNoise" baseFrequency="0 0.09" numOctaves="1" seed="42"/><feColorMatrix values="1 0 0 0 0 1 0 0 0 0 1 0 0 0 0 0 0 0 0 1"/><feComposite in="v0" operator="arithmetic" k2="1" k3="1.32" k4="-0.66" result="v1"/><feComponentTransfer in="v1" result="col"><feFuncR type="table" tableValues="0 1 1"/><feFuncG type="table" tableValues="0 1 0"/><feFuncB type="table" tableValues="1 1 0"/><feFuncA type="linear" slope="0" intercept="1"/></feComponentTransfer></filter><filter id="fg3" filterUnits="userSpaceOnUse" primitiveUnits="userSpaceOnUse" x="1223" y="2100" width="90" height="142" color-interpolation-filters="sRGB"><feTurbulence type="fractalNoise" baseFrequency="0 0.5" numOctaves="1" seed="23"/><feColorMatrix values="1 0 0 0 0 1 0 0 0 0 1 0 0 0 0 0 0 0 0 1"/><feComposite in="SourceGraphic" operator="arithmetic" k2="1" k3="1.9" k4="-0.95" result="v0"/><feTurbulence type="fractalNoise" baseFrequency="0 0.09" numOctaves="1" seed="43"/><feColorMatrix values="1 0 0 0 0 1 0 0 0 0 1 0 0 0 0 0 0 0 0 1"/><feComposite in="v0" operator="arithmetic" k2="1" k3="1.14" k4="-0.57" result="v1"/><feComponentTransfer in="v1" result="col"><feFuncR type="table" tableValues="0 1 1"/><feFuncG type="table" tableValues="0 1 0"/><feFuncB type="table" tableValues="1 1 0"/><feFuncA type="linear" slope="0" intercept="1"/></feComponentTransfer></filter><filter id="fg4" filterUnits="userSpaceOnUse" primitiveUnits="userSpaceOnUse" x="1313" y="1890" width="91" height="43" color-interpolation-filters="sRGB"><feTurbulence type="fractalNoise" baseFrequency="0 0.5" numOctaves="1" seed="24"/><feColorMatrix values="1 0 0 0 0 1 0 0 0 0 1 0 0 0 0 0 0 0 0 1"/><feComposite in="SourceGraphic" operator="arithmetic" k2="1" k3="2.6" k4="-1.3" result="v0"/><feTurbulence type="fractalNoise" baseFrequency="0 0.09" numOctaves="1" seed="44"/><feColorMatrix values="1 0 0 0 0 1 0 0 0 0 1 0 0 0 0 0 0 0 0 1"/><feComposite in="v0" operator="arithmetic" k2="1" k3="1.56" k4="-0.78" result="v1"/><feComponentTransfer in="v1" result="col"><feFuncR type="table" tableValues="0 1 1"/><feFuncG type="table" tableValues="0 1 0"/><feFuncB type="table" tableValues="1 1 0"/><feFuncA type="linear" slope="0" intercept="1"/></feComponentTransfer></filter><filter id="fg5" filterUnits="userSpaceOnUse" primitiveUnits="userSpaceOnUse" x="1313" y="1933" width="91" height="22" color-interpolation-filters="sRGB"><feTurbulence type="fractalNoise" baseFrequency="0 0.5" numOctaves="1" seed="25"/><feColorMatrix values="1 0 0 0 0 1 0 0 0 0 1 0 0 0 0 0 0 0 0 1"/><feComposite in="SourceGraphic" operator="arithmetic" k2="1" k3="3.0" k4="-1.5" result="v0"/><feTurbulence type="fractalNoise" baseFrequency="0 0.09" numOctaves="1" seed="45"/><feColorMatrix values="1 0 0 0 0 1 0 0 0 0 1 0 0 0 0 0 0 0 0 1"/><feComposite in="v0" operator="arithmetic" k2="1" k3="1.7999999999999998" k4="-0.8999999999999999" result="v1"/><feComponentTransfer in="v1" result="col"><feFuncR type="table" tableValues="0 1 1"/><feFuncG type="table" tableValues="0 1 0"/><feFuncB type="table" tableValues="1 1 0"/><feFuncA type="linear" slope="0" intercept="1"/></feComponentTransfer></filter><filter id="fg6" filterUnits="userSpaceOnUse" primitiveUnits="userSpaceOnUse" x="1313" y="1955" width="91" height="131" color-interpolation-filters="sRGB"><feTurbulence type="fractalNoise" baseFrequency="0 0.5" numOctaves="1" seed="26"/><feColorMatrix values="1 0 0 0 0 1 0 0 0 0 1 0 0 0 0 0 0 0 0 1"/><feComposite in="SourceGraphic" operator="arithmetic" k2="1" k3="2.6" k4="-1.3" result="v0"/><feTurbulence type="fractalNoise" baseFrequency="0 0.09" numOctaves="1" seed="46"/><feColorMatrix values="1 0 0 0 0 1 0 0 0 0 1 0 0 0 0 0 0 0 0 1"/><feComposite in="v0" operator="arithmetic" k2="1" k3="1.56" k4="-0.78" result="v1"/><feComponentTransfer in="v1" result="col"><feFuncR type="table" tableValues="0 1 1"/><feFuncG type="table" tableValues="0 1 0"/><feFuncB type="table" tableValues="1 1 0"/><feFuncA type="linear" slope="0" intercept="1"/></feComponentTransfer></filter><filter id="fg7" filterUnits="userSpaceOnUse" primitiveUnits="userSpaceOnUse" x="1313" y="2086" width="91" height="114" color-interpolation-filters="sRGB"><feTurbulence type="fractalNoise" baseFrequency="0 0.5" numOctaves="1" seed="27"/><feColorMatrix values="1 0 0 0 0 1 0 0 0 0 1 0 0 0 0 0 0 0 0 1"/><feComposite in="SourceGraphic" operator="arithmetic" k2="1" k3="0.9" k4="-0.45" result="v0"/><feTurbulence type="fractalNoise" baseFrequency="0 0.09" numOctaves="1" seed="47"/><feColorMatrix values="1 0 0 0 0 1 0 0 0 0 1 0 0 0 0 0 0 0 0 1"/><feComposite in="v0" operator="arithmetic" k2="1" k3="0.54" k4="-0.27" result="v1"/><feComponentTransfer in="v1" result="col"><feFuncR type="table" tableValues="0 1 1"/><feFuncG type="table" tableValues="0 1 0"/><feFuncB type="table" tableValues="1 1 0"/><feFuncA type="linear" slope="0" intercept="1"/></feComponentTransfer></filter><filter id="fg8" filterUnits="userSpaceOnUse" primitiveUnits="userSpaceOnUse" x="1313" y="2200" width="91" height="42" color-interpolation-filters="sRGB"><feTurbulence type="fractalNoise" baseFrequency="0 0.5" numOctaves="1" seed="28"/><feColorMatrix values="1 0 0 0 0 1 0 0 0 0 1 0 0 0 0 0 0 0 0 1"/><feComposite in="SourceGraphic" operator="arithmetic" k2="1" k3="1.6" k4="-0.8" result="v0"/><feTurbulence type="fractalNoise" baseFrequency="0 0.09" numOctaves="1" seed="48"/><feColorMatrix values="1 0 0 0 0 1 0 0 0 0 1 0 0 0 0 0 0 0 0 1"/><feComposite in="v0" operator="arithmetic" k2="1" k3="0.96" k4="-0.48" result="v1"/><feComponentTransfer in="v1" result="col"><feFuncR type="table" tableValues="0 1 1"/><feFuncG type="table" tableValues="0 1 0"/><feFuncB type="table" tableValues="1 1 0"/><feFuncA type="linear" slope="0" intercept="1"/></feComponentTransfer></filter><filter id="fg9" filterUnits="userSpaceOnUse" primitiveUnits="userSpaceOnUse" x="1424" y="1890" width="91" height="65" color-interpolation-filters="sRGB"><feTurbulence type="fractalNoise" baseFrequency="0 0.5" numOctaves="1" seed="29"/><feColorMatrix values="1 0 0 0 0 1 0 0 0 0 1 0 0 0 0 0 0 0 0 1"/><feComposite in="SourceGraphic" operator="arithmetic" k2="1" k3="0.7" k4="-0.35" result="v0"/><feTurbulence type="fractalNoise" baseFrequency="0 0.09" numOctaves="1" seed="49"/><feColorMatrix values="1 0 0 0 0 1 0 0 0 0 1 0 0 0 0 0 0 0 0 1"/><feComposite in="v0" operator="arithmetic" k2="1" k3="0.42" k4="-0.21" result="v1"/><feComponentTransfer in="v1" result="col"><feFuncR type="table" tableValues="0 1 1"/><feFuncG type="table" tableValues="0 1 0"/><feFuncB type="table" tableValues="1 1 0"/><feFuncA type="linear" slope="0" intercept="1"/></feComponentTransfer></filter><filter id="fg10" filterUnits="userSpaceOnUse" primitiveUnits="userSpaceOnUse" x="1424" y="1955" width="91" height="131" color-interpolation-filters="sRGB"><feTurbulence type="fractalNoise" baseFrequency="0 0.5" numOctaves="1" seed="30"/><feColorMatrix values="1 0 0 0 0 1 0 0 0 0 1 0 0 0 0 0 0 0 0 1"/><feComposite in="SourceGraphic" operator="arithmetic" k2="1" k3="2.3" k4="-1.15" result="v0"/><feTurbulence type="fractalNoise" baseFrequency="0 0.09" numOctaves="1" seed="50"/><feColorMatrix values="1 0 0 0 0 1 0 0 0 0 1 0 0 0 0 0 0 0 0 1"/><feComposite in="v0" operator="arithmetic" k2="1" k3="1.38" k4="-0.69" result="v1"/><feComponentTransfer in="v1" result="col"><feFuncR type="table" tableValues="0 1 1"/><feFuncG type="table" tableValues="0 1 0"/><feFuncB type="table" tableValues="1 1 0"/><feFuncA type="linear" slope="0" intercept="1"/></feComponentTransfer></filter><filter id="fg11" filterUnits="userSpaceOnUse" primitiveUnits="userSpaceOnUse" x="1424" y="2086" width="91" height="156" color-interpolation-filters="sRGB"><feTurbulence type="fractalNoise" baseFrequency="0 0.5" numOctaves="1" seed="31"/><feColorMatrix values="1 0 0 0 0 1 0 0 0 0 1 0 0 0 0 0 0 0 0 1"/><feComposite in="SourceGraphic" operator="arithmetic" k2="1" k3="2.6" k4="-1.3" result="v0"/><feTurbulence type="fractalNoise" baseFrequency="0 0.09" numOctaves="1" seed="51"/><feColorMatrix values="1 0 0 0 0 1 0 0 0 0 1 0 0 0 0 0 0 0 0 1"/><feComposite in="v0" operator="arithmetic" k2="1" k3="1.56" k4="-0.78" result="v1"/><feComponentTransfer in="v1" result="col"><feFuncR type="table" tableValues="0 1 1"/><feFuncG type="table" tableValues="0 1 0"/><feFuncB type="table" tableValues="1 1 0"/><feFuncA type="linear" slope="0" intercept="1"/></feComponentTransfer></filter><filter id="fg12" filterUnits="userSpaceOnUse" primitiveUnits="userSpaceOnUse" x="1515" y="1890" width="91" height="65" color-interpolation-filters="sRGB"><feTurbulence type="fractalNoise" baseFrequency="0 0.5" numOctaves="1" seed="32"/><feColorMatrix values="1 0 0 0 0 1 0 0 0 0 1 0 0 0 0 0 0 0 0 1"/><feComposite in="SourceGraphic" operator="arithmetic" k2="1" k3="2.2" k4="-1.1" result="v0"/><feTurbulence type="fractalNoise" baseFrequency="0 0.09" numOctaves="1" seed="52"/><feColorMatrix values="1 0 0 0 0 1 0 0 0 0 1 0 0 0 0 0 0 0 0 1"/><feComposite in="v0" operator="arithmetic" k2="1" k3="1.32" k4="-0.66" result="v1"/><feComponentTransfer in="v1" result="col"><feFuncR type="table" tableValues="0 1 1"/><feFuncG type="table" tableValues="0 1 0"/><feFuncB type="table" tableValues="1 1 0"/><feFuncA type="linear" slope="0" intercept="1"/></feComponentTransfer></filter><filter id="fg13" filterUnits="userSpaceOnUse" primitiveUnits="userSpaceOnUse" x="1515" y="1955" width="91" height="131" color-interpolation-filters="sRGB"><feTurbulence type="fractalNoise" baseFrequency="0 0.5" numOctaves="1" seed="33"/><feColorMatrix values="1 0 0 0 0 1 0 0 0 0 1 0 0 0 0 0 0 0 0 1"/><feComposite in="SourceGraphic" operator="arithmetic" k2="1" k3="2.6" k4="-1.3" result="v0"/><feTurbulence type="fractalNoise" baseFrequency="0 0.09" numOctaves="1" seed="53"/><feColorMatrix values="1 0 0 0 0 1 0 0 0 0 1 0 0 0 0 0 0 0 0 1"/><feComposite in="v0" operator="arithmetic" k2="1" k3="1.56" k4="-0.78" result="v1"/><feComponentTransfer in="v1" result="col"><feFuncR type="table" tableValues="0 1 1"/><feFuncG type="table" tableValues="0 1 0"/><feFuncB type="table" tableValues="1 1 0"/><feFuncA type="linear" slope="0" intercept="1"/></feComponentTransfer></filter><filter id="fg14" filterUnits="userSpaceOnUse" primitiveUnits="userSpaceOnUse" x="1515" y="2086" width="91" height="114" color-interpolation-filters="sRGB"><feTurbulence type="fractalNoise" baseFrequency="0 0.5" numOctaves="1" seed="34"/><feColorMatrix values="1 0 0 0 0 1 0 0 0 0 1 0 0 0 0 0 0 0 0 1"/><feComposite in="SourceGraphic" operator="arithmetic" k2="1" k3="2.0" k4="-1.0" result="v0"/><feTurbulence type="fractalNoise" baseFrequency="0 0.09" numOctaves="1" seed="54"/><feColorMatrix values="1 0 0 0 0 1 0 0 0 0 1 0 0 0 0 0 0 0 0 1"/><feComposite in="v0" operator="arithmetic" k2="1" k3="1.2" k4="-0.6" result="v1"/><feComponentTransfer in="v1" result="col"><feFuncR type="table" tableValues="0 1 1"/><feFuncG type="table" tableValues="0 1 0"/><feFuncB type="table" tableValues="1 1 0"/><feFuncA type="linear" slope="0" intercept="1"/></feComponentTransfer></filter><filter id="fg15" filterUnits="userSpaceOnUse" primitiveUnits="userSpaceOnUse" x="1515" y="2200" width="91" height="42" color-interpolation-filters="sRGB"><feTurbulence type="fractalNoise" baseFrequency="0 0.5" numOctaves="1" seed="35"/><feColorMatrix values="1 0 0 0 0 1 0 0 0 0 1 0 0 0 0 0 0 0 0 1"/><feComposite in="SourceGraphic" operator="arithmetic" k2="1" k3="2.2" k4="-1.1" result="v0"/><feTurbulence type="fractalNoise" baseFrequency="0 0.09" numOctaves="1" seed="55"/><feColorMatrix values="1 0 0 0 0 1 0 0 0 0 1 0 0 0 0 0 0 0 0 1"/><feComposite in="v0" operator="arithmetic" k2="1" k3="1.32" k4="-0.66" result="v1"/><feComponentTransfer in="v1" result="col"><feFuncR type="table" tableValues="0 1 1"/><feFuncG type="table" tableValues="0 1 0"/><feFuncB type="table" tableValues="1 1 0"/><feFuncA type="linear" slope="0" intercept="1"/></feComponentTransfer></filter></defs>
<rect x="1223" y="1890" width="90" height="65" fill="#3d3d3d" filter="url(#fg0)"/>
<rect x="1223" y="1955" width="90" height="131" fill="#999999" filter="url(#fg1)"/>
<rect x="1223" y="2086" width="90" height="14" fill="#6b6b6b" filter="url(#fg2)"/>
<rect x="1223" y="2100" width="90" height="142" fill="#e6e6e6" filter="url(#fg3)"/>
<rect x="1313" y="1890" width="91" height="43" fill="#b8b8b8" filter="url(#fg4)"/>
<rect x="1313" y="1933" width="91" height="22" fill="#737373" filter="url(#fg5)"/>
<rect x="1313" y="1955" width="91" height="131" fill="#424242" filter="url(#fg6)"/>
<rect x="1313" y="2086" width="91" height="114" fill="#000000" filter="url(#fg7)"/>
<rect x="1313" y="2200" width="91" height="42" fill="#141414" filter="url(#fg8)"/>
<rect x="1424" y="1890" width="91" height="65" fill="#000000" filter="url(#fg9)"/>
<rect x="1424" y="1955" width="91" height="131" fill="#2e2e2e" filter="url(#fg10)"/>
<rect x="1424" y="2086" width="91" height="156" fill="#a8a8a8" filter="url(#fg11)"/>
<rect x="1515" y="1890" width="91" height="65" fill="#dbdbdb" filter="url(#fg12)"/>
<rect x="1515" y="1955" width="91" height="131" fill="#a3a3a3" filter="url(#fg13)"/>
<rect x="1515" y="2086" width="91" height="114" fill="#1a1a1a" filter="url(#fg14)"/>
<rect x="1515" y="2200" width="91" height="42" fill="#333333" filter="url(#fg15)"/>
<rect x="1220.7" y="2255.6" width="182.7" height="26.2" fill="#c200ff"/>
<rect x="1422.5" y="2255.6" width="183.2" height="26.2" fill="#9a520e"/>
<text x="1312.6" y="2315.6" font-size="26.5" text-anchor="middle">Later</text>
<text x="1312.6" y="2349" font-size="26.5" text-anchor="middle">ciliating</text>
<text x="1514.4" y="2315.6" font-size="26.5" text-anchor="middle">Mature</text>
<text x="1514.4" y="2349" font-size="26.5" text-anchor="middle">ciliated</text>
<path d="M1611.7 1889.8L1639.5 1893V1938.7L1611.7 1956.4Z" fill="#9a520e"/>
<path d="M1611.7 1956.4L1639.5 2006.9V2049.7L1611.7 2086.6Z" fill="#dd2e2e"/>
<path d="M1611.7 2086.6L1639.5 2157V2203.6L1611.7 2242.5Z" fill="#c200ff"/>
<path d="M1611 1891h4M1611 1893.6h4M1611 1896.2h4.5M1611 1898.8h3M1611 1901.4h2M1611 1904h2.5M1611 1906.6h4.5M1611 1909.2h2.4M1611 1911.8h2.3M1611 1914.4h4.1M1611 1917h3.8M1611 1919.6h4.8M1611 1922.2h4.4M1611 1924.8h4.6M1611 1927.4h4.7M1611 1930h2M1611 1932.6h4.8M1611 1935.2h2.8M1611 1937.8h2.3M1611 1940.4h4.7M1611 1943h2.9M1611 1945.6h2.4M1611 1948.2h3.7M1611 1950.8h4.5M1611 1953.4h3M1611 1956h4.6M1611 1958.6h4.9M1611 1961.2h3.6M1611 1963.8h2.7M1611 1966.4h2.9M1611 1969h2.5M1611 1971.6h3.3M1611 1974.2h3.2M1611 1976.8h2.9M1611 1979.4h3.2M1611 1982h2.8M1611 1984.6h4.6M1611 1987.2h4.7M1611 1989.8h3.3M1611 1992.4h2.3M1611 1995h2.9M1611 1997.6h4.1M1611 2000.2h4.9M1611 2002.8h4.3M1611 2005.4h2.2M1611 2008h3M1611 2010.6h2.2M1611 2013.2h3.7M1611 2015.8h3.2M1611 2018.4h3.3M1611 2021h2.9M1611 2023.6h2.3M1611 2026.2h4.3M1611 2028.8h3M1611 2031.4h2.2M1611 2034h2.6M1611 2036.6h2.1M1611 2039.2h4.6M1611 2041.8h2.5M1611 2044.4h4.8M1611 2047h4.9M1611 2049.6h2.4M1611 2052.2h4.4M1611 2054.8h2.6M1611 2057.4h4.1M1611 2060h4.9M1611 2062.6h3.4M1611 2065.2h2.6M1611 2067.8h4M1611 2070.4h3.8M1611 2073h2.7M1611 2075.6h3.6M1611 2078.2h3.5M1611 2080.8h3.2M1611 2083.4h3.1M1611 2086h4.8M1611 2088.6h4M1611 2091.2h3.2M1611 2093.8h3.7M1611 2096.4h3.9M1611 2099h4.6M1611 2101.6h3.4M1611 2104.2h4.4M1611 2106.8h2.5M1611 2109.4h4.2M1611 2112h4.1M1611 2114.6h2M1611 2117.2h3.9M1611 2119.8h2.2M1611 2122.4h4.7M1611 2125h3.7M1611 2127.6h2.5M1611 2130.2h4.2M1611 2132.8h2.8M1611 2135.4h2.2M1611 2138h3.7M1611 2140.6h4.4M1611 2143.2h4.1M1611 2145.8h4.4M1611 2148.4h4.1M1611 2151h3.2M1611 2153.6h2.7M1611 2156.2h3M1611 2158.8h4.5M1611 2161.4h2.1M1611 2164h2.2M1611 2166.6h4.8M1611 2169.2h2M1611 2171.8h3.7M1611 2174.4h4.7M1611 2177h3.6M1611 2179.6h4.2M1611 2182.2h2.1M1611 2184.8h4.2M1611 2187.4h3.9M1611 2190h3.9M1611 2192.6h2.8M1611 2195.2h3.8M1611 2197.8h4.3M1611 2200.4h4.5M1611 2203h2.2M1611 2205.6h4.7M1611 2208.2h4.1M1611 2210.8h3.6M1611 2213.4h4.2M1611 2216h4.2M1611 2218.6h3.7M1611 2221.2h4.6M1611 2223.8h4.6M1611 2226.4h4.4M1611 2229h2.7M1611 2231.6h3.2M1611 2234.2h4.8M1611 2236.8h3.7M1611 2239.4h2.5" stroke="#666" stroke-width="0.5"/>
<text x="1651" y="1915" font-size="26.2">Mostly spliced in both,</text>
<text x="1651" y="1941.3" font-size="26.2">more in mature ciliated</text>
<text x="1651" y="2028" font-size="26.2">Mostly unspliced in later ciliating,</text>
<text x="1651" y="2054.8" font-size="26.2">mostly spliced in mature ciliated</text>
<text x="1651" y="2177.4" font-size="26.2">Mostly unspliced in both,</text>
<text x="1651" y="2203.6" font-size="26.2">more in later ciliating</text>
<text x="1789.4" y="2276.8" font-size="25" text-anchor="middle">Fraction</text>
<text x="1789.4" y="2307" font-size="25" text-anchor="middle">of population</text>
<rect x="1693.5" y="2323.7" width="190.7" height="29.8" fill="url(#bwr)"/>
<path d="M1693.5 2353.5v5M1731.6 2353.5v5M1769.8 2353.5v5M1807.9 2353.5v5M1846.1 2353.5v5M1884.2 2353.5v5" stroke="#444" stroke-width="1.2"/>
<text x="1693.5" y="2382.8" font-size="17" text-anchor="middle">0.0</text>
<text x="1731.6" y="2382.8" font-size="17" text-anchor="middle">0.2</text>
<text x="1769.8" y="2382.8" font-size="17" text-anchor="middle">0.4</text>
<text x="1807.9" y="2382.8" font-size="17" text-anchor="middle">0.6</text>
<text x="1846.1" y="2382.8" font-size="17" text-anchor="middle">0.8</text>
<text x="1884.2" y="2382.8" font-size="17" text-anchor="middle">1.0</text>
</svg>
</body></html>
